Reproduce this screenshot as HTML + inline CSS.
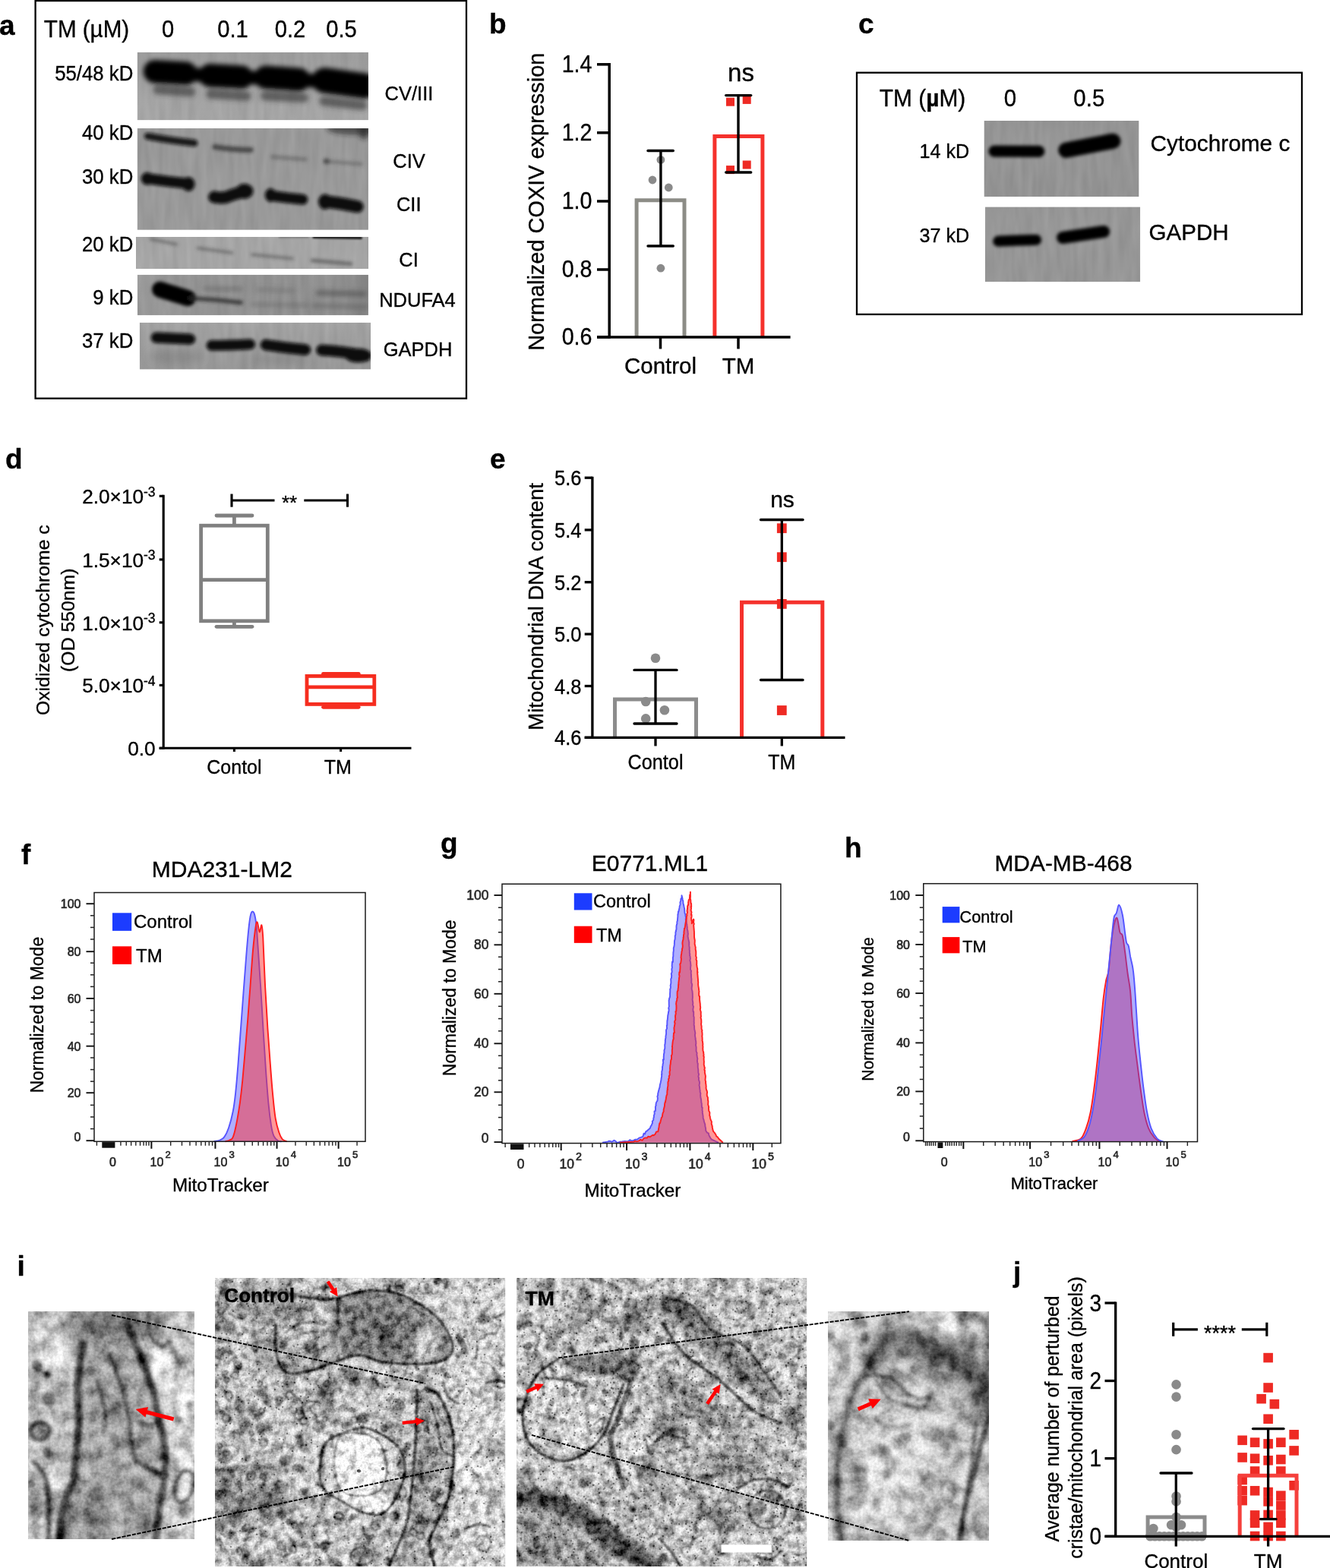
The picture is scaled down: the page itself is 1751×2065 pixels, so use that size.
<!DOCTYPE html>
<html lang="en">
<head>
<meta charset="utf-8">
<title>Figure</title>
<style>
html,body{margin:0;padding:0;background:#fff;}
body{width:1751px;height:2065px;overflow:hidden;font-family:"Liberation Sans", sans-serif;}
svg{display:block;}
svg text{font-family:"Liberation Sans", sans-serif;fill:#000;stroke:#000;stroke-width:0.35px;stroke-linejoin:round;}
svg text.tk{fill:#262626;stroke:#262626;stroke-width:0.6px;}
</style>
</head>
<body>
<svg width="1751" height="2065" viewBox="0 0 1751 2065">
<defs>
<filter id="bl1" x="-20%" y="-50%" width="140%" height="200%"><feGaussianBlur stdDeviation="1.3"/></filter>
<filter id="bl2" x="-20%" y="-50%" width="140%" height="200%"><feGaussianBlur stdDeviation="2.1"/></filter>
<filter id="bl3" x="-20%" y="-50%" width="140%" height="200%"><feGaussianBlur stdDeviation="3.2"/></filter>
<filter id="bl6" x="-30%" y="-80%" width="160%" height="260%"><feGaussianBlur stdDeviation="6"/></filter>
<filter id="btx" x="0" y="0" width="100%" height="100%" color-interpolation-filters="sRGB"><feTurbulence type="fractalNoise" baseFrequency="0.11 0.018" numOctaves="2" seed="7" result="n"/><feColorMatrix in="n" type="matrix" values="1 0 0 0 0 1 0 0 0 0 1 0 0 0 0 0 0 0 0 1" result="g"/><feComposite in="SourceGraphic" in2="g" operator="arithmetic" k1="0" k2="1" k3="0.08" k4="-0.04"/></filter>
<clipPath id="cb1"><rect x="180.70" y="68.80" width="304.20" height="89.50"/></clipPath>
<linearGradient id="gcb1" x1="0" y1="0" x2="0" y2="1"><stop offset="0" stop-color="#9c9c9c"/><stop offset="0.5" stop-color="#a0a0a0"/><stop offset="1" stop-color="#a5a5a5"/></linearGradient>
<clipPath id="cb2"><rect x="180.70" y="169.00" width="304.20" height="133.80"/></clipPath>
<clipPath id="cb3"><rect x="179.00" y="311.90" width="305.90" height="42.20"/></clipPath>
<clipPath id="cb4"><rect x="180.90" y="361.80" width="304.00" height="53.50"/></clipPath>
<linearGradient id="gcb4" x1="0" y1="0" x2="1" y2="0"><stop offset="0" stop-color="#999"/><stop offset="0.3" stop-color="#939393"/><stop offset="0.9" stop-color="#8e8e8e"/><stop offset="1" stop-color="#808080"/></linearGradient>
<clipPath id="cb5"><rect x="183.80" y="424.80" width="304.30" height="61.80"/></clipPath>
<linearGradient id="gcb5" x1="0" y1="0" x2="0" y2="1"><stop offset="0" stop-color="#a2a2a2"/><stop offset="1" stop-color="#979797"/></linearGradient>
<clipPath id="cb6"><rect x="1295.50" y="159.10" width="204.00" height="99.90"/></clipPath>
<clipPath id="cb7"><rect x="1296.90" y="272.40" width="204.30" height="98.80"/></clipPath>
<filter id="eb0" x="-30%" y="-30%" width="160%" height="160%"><feGaussianBlur stdDeviation="0.55"/></filter>
<filter id="eb1" x="-30%" y="-30%" width="160%" height="160%"><feGaussianBlur stdDeviation="0.9"/></filter>
<filter id="eb2" x="-30%" y="-30%" width="160%" height="160%"><feGaussianBlur stdDeviation="2"/></filter>
<filter id="eb4" x="-30%" y="-30%" width="160%" height="160%"><feGaussianBlur stdDeviation="4.5"/></filter>
<filter id="eb9" x="-40%" y="-40%" width="180%" height="180%"><feGaussianBlur stdDeviation="10"/></filter>
<clipPath id="cem1"><rect x="37.00" y="1727.00" width="219.00" height="300.00"/></clipPath>
<filter id="fem1" filterUnits="userSpaceOnUse" x="36.0" y="1726.0" width="221.0" height="302.0" color-interpolation-filters="sRGB"><feTurbulence type="fractalNoise" baseFrequency="0.055" numOctaves="3" seed="4" result="n0"/><feColorMatrix in="n0" type="matrix" values="1 0 0 0 0  1 0 0 0 0  1 0 0 0 0  0 0 0 0 1" result="n1"/><feComponentTransfer in="n1" result="n2"><feFuncR type="table" tableValues="0 0.05 0.15 0.3 0.45 0.6 0.72 0.8 0.86 0.9 0.92"/><feFuncG type="table" tableValues="0 0.05 0.15 0.3 0.45 0.6 0.72 0.8 0.86 0.9 0.92"/><feFuncB type="table" tableValues="0 0.05 0.15 0.3 0.45 0.6 0.72 0.8 0.86 0.9 0.92"/></feComponentTransfer><feComposite in="SourceGraphic" in2="n2" operator="arithmetic" k1="0" k2="1" k3="0.5" k4="-0.3" result="c1"/><feTurbulence type="fractalNoise" baseFrequency="0.3" numOctaves="2" seed="15" result="m0"/><feColorMatrix in="m0" type="matrix" values="0 1 0 0 0  0 1 0 0 0  0 1 0 0 0  0 0 0 0 1" result="m1"/><feComposite in="c1" in2="m1" operator="arithmetic" k1="0" k2="1" k3="0.2" k4="-0.1"/></filter>
<clipPath id="cem2"><rect x="283.00" y="1683.00" width="382.20" height="380.00"/></clipPath>
<filter id="fem2" filterUnits="userSpaceOnUse" x="282.0" y="1682.0" width="384.2" height="382.0" color-interpolation-filters="sRGB"><feTurbulence type="fractalNoise" baseFrequency="0.1" numOctaves="3" seed="9" result="n0"/><feColorMatrix in="n0" type="matrix" values="1 0 0 0 0  1 0 0 0 0  1 0 0 0 0  0 0 0 0 1" result="n1"/><feComponentTransfer in="n1" result="n2"><feFuncR type="table" tableValues="0 0.05 0.15 0.3 0.45 0.6 0.72 0.8 0.86 0.9 0.92"/><feFuncG type="table" tableValues="0 0.05 0.15 0.3 0.45 0.6 0.72 0.8 0.86 0.9 0.92"/><feFuncB type="table" tableValues="0 0.05 0.15 0.3 0.45 0.6 0.72 0.8 0.86 0.9 0.92"/></feComponentTransfer><feComposite in="SourceGraphic" in2="n2" operator="arithmetic" k1="0" k2="1" k3="0.62" k4="-0.372" result="c1"/><feTurbulence type="fractalNoise" baseFrequency="0.4" numOctaves="2" seed="20" result="m0"/><feColorMatrix in="m0" type="matrix" values="0 1 0 0 0  0 1 0 0 0  0 1 0 0 0  0 0 0 0 1" result="m1"/><feComposite in="c1" in2="m1" operator="arithmetic" k1="0" k2="1" k3="0.3" k4="-0.15"/></filter>
<clipPath id="cem3"><rect x="680.00" y="1683.00" width="382.20" height="380.00"/></clipPath>
<filter id="fem3" filterUnits="userSpaceOnUse" x="679.0" y="1682.0" width="384.2" height="382.0" color-interpolation-filters="sRGB"><feTurbulence type="fractalNoise" baseFrequency="0.1" numOctaves="3" seed="17" result="n0"/><feColorMatrix in="n0" type="matrix" values="1 0 0 0 0  1 0 0 0 0  1 0 0 0 0  0 0 0 0 1" result="n1"/><feComponentTransfer in="n1" result="n2"><feFuncR type="table" tableValues="0 0.05 0.15 0.3 0.45 0.6 0.72 0.8 0.86 0.9 0.92"/><feFuncG type="table" tableValues="0 0.05 0.15 0.3 0.45 0.6 0.72 0.8 0.86 0.9 0.92"/><feFuncB type="table" tableValues="0 0.05 0.15 0.3 0.45 0.6 0.72 0.8 0.86 0.9 0.92"/></feComponentTransfer><feComposite in="SourceGraphic" in2="n2" operator="arithmetic" k1="0" k2="1" k3="0.62" k4="-0.372" result="c1"/><feTurbulence type="fractalNoise" baseFrequency="0.4" numOctaves="2" seed="28" result="m0"/><feColorMatrix in="m0" type="matrix" values="0 1 0 0 0  0 1 0 0 0  0 1 0 0 0  0 0 0 0 1" result="m1"/><feComposite in="c1" in2="m1" operator="arithmetic" k1="0" k2="1" k3="0.3" k4="-0.15"/></filter>
<clipPath id="cem4"><rect x="1090.00" y="1727.00" width="212.00" height="302.00"/></clipPath>
<filter id="fem4" filterUnits="userSpaceOnUse" x="1089.0" y="1726.0" width="214.0" height="304.0" color-interpolation-filters="sRGB"><feTurbulence type="fractalNoise" baseFrequency="0.05" numOctaves="3" seed="29" result="n0"/><feColorMatrix in="n0" type="matrix" values="1 0 0 0 0  1 0 0 0 0  1 0 0 0 0  0 0 0 0 1" result="n1"/><feComponentTransfer in="n1" result="n2"><feFuncR type="table" tableValues="0 0.05 0.15 0.3 0.45 0.6 0.72 0.8 0.86 0.9 0.92"/><feFuncG type="table" tableValues="0 0.05 0.15 0.3 0.45 0.6 0.72 0.8 0.86 0.9 0.92"/><feFuncB type="table" tableValues="0 0.05 0.15 0.3 0.45 0.6 0.72 0.8 0.86 0.9 0.92"/></feComponentTransfer><feComposite in="SourceGraphic" in2="n2" operator="arithmetic" k1="0" k2="1" k3="0.5" k4="-0.3" result="c1"/><feTurbulence type="fractalNoise" baseFrequency="0.3" numOctaves="2" seed="40" result="m0"/><feColorMatrix in="m0" type="matrix" values="0 1 0 0 0  0 1 0 0 0  0 1 0 0 0  0 0 0 0 1" result="m1"/><feComposite in="c1" in2="m1" operator="arithmetic" k1="0" k2="1" k3="0.2" k4="-0.1"/></filter>
</defs>
<rect x="0" y="0" width="1751" height="2065" fill="#fff"/>
<g id="panel-b">
<text x="644.00" y="44.20" font-size="37" font-weight="bold">b</text>
<path d="M838.10 444.00L838.10 263.80L901.00 263.80L901.00 444.00" fill="none" stroke="#8c8c86" stroke-width="5" stroke-linejoin="miter"/>
<path d="M940.90 444.00L940.90 179.50L1003.90 179.50L1003.90 444.00" fill="none" stroke="#f5312c" stroke-width="5" stroke-linejoin="miter"/>
<line x1="802.20" y1="83.10" x2="802.20" y2="445.70" stroke="#000" stroke-width="3.5" />
<line x1="786.00" y1="444.00" x2="1040.60" y2="444.00" stroke="#000" stroke-width="3.5" />
<line x1="786.00" y1="84.80" x2="802.20" y2="84.80" stroke="#000" stroke-width="3.5" />
<line x1="786.00" y1="174.80" x2="802.20" y2="174.80" stroke="#000" stroke-width="3.5" />
<line x1="786.00" y1="265.00" x2="802.20" y2="265.00" stroke="#000" stroke-width="3.5" />
<line x1="786.00" y1="355.00" x2="802.20" y2="355.00" stroke="#000" stroke-width="3.5" />
<line x1="786.00" y1="444.00" x2="802.20" y2="444.00" stroke="#000" stroke-width="3.5" />
<line x1="869.50" y1="444.00" x2="869.50" y2="459.50" stroke="#000" stroke-width="3.5" />
<line x1="972.00" y1="444.00" x2="972.00" y2="459.50" stroke="#000" stroke-width="3.5" />
<text transform="translate(779.50 95.10) scale(0.94 1)" font-size="30.5" text-anchor="end">1.4</text>
<text transform="translate(779.50 185.10) scale(0.94 1)" font-size="30.5" text-anchor="end">1.2</text>
<text transform="translate(779.50 275.30) scale(0.94 1)" font-size="30.5" text-anchor="end">1.0</text>
<text transform="translate(779.50 365.30) scale(0.94 1)" font-size="30.5" text-anchor="end">0.8</text>
<text transform="translate(779.50 454.30) scale(0.94 1)" font-size="30.5" text-anchor="end">0.6</text>
<text x="869.50" y="492.00" font-size="29.5" text-anchor="middle">Control</text>
<text x="972.00" y="492.00" font-size="29.5" text-anchor="middle">TM</text>
<text transform="translate(716.00 265.70) rotate(-90) scale(0.955 1)" font-size="30.3" text-anchor="middle">Normalized COXIV expression</text>
<circle cx="869.90" cy="210.40" r="5.40" fill="#8a8a8a" />
<circle cx="859.00" cy="237.00" r="5.40" fill="#8a8a8a" />
<circle cx="880.30" cy="247.00" r="5.40" fill="#8a8a8a" />
<circle cx="869.90" cy="353.20" r="5.40" fill="#8a8a8a" />
<rect x="956.00" y="128.70" width="11.00" height="11.00" fill="#ee2a24"/>
<rect x="977.70" y="125.90" width="11.00" height="11.00" fill="#ee2a24"/>
<rect x="956.00" y="218.10" width="11.00" height="11.00" fill="#ee2a24"/>
<rect x="977.70" y="211.50" width="11.00" height="11.00" fill="#ee2a24"/>
<line x1="869.90" y1="198.50" x2="869.90" y2="324.00" stroke="#000" stroke-width="3.4" />
<line x1="853.00" y1="198.50" x2="886.30" y2="198.50" stroke="#000" stroke-width="3.4" stroke-linecap="round"/>
<line x1="853.00" y1="324.00" x2="886.30" y2="324.00" stroke="#000" stroke-width="3.4" stroke-linecap="round"/>
<line x1="972.00" y1="125.60" x2="972.00" y2="227.00" stroke="#000" stroke-width="3.4" />
<line x1="955.70" y1="125.60" x2="988.70" y2="125.60" stroke="#000" stroke-width="3.4" stroke-linecap="round"/>
<line x1="955.70" y1="227.00" x2="988.70" y2="227.00" stroke="#000" stroke-width="3.4" stroke-linecap="round"/>
<text x="975.50" y="106.50" font-size="33" text-anchor="middle">ns</text>
</g>
<g id="panel-d">
<text x="7.00" y="617.00" font-size="37" font-weight="bold">d</text>
<line x1="215.20" y1="651.80" x2="215.20" y2="986.80" stroke="#000" stroke-width="3.1" />
<line x1="209.70" y1="985.30" x2="541.50" y2="985.30" stroke="#000" stroke-width="3.1" />
<line x1="209.70" y1="653.30" x2="215.20" y2="653.30" stroke="#000" stroke-width="3.1" />
<line x1="209.70" y1="736.90" x2="215.20" y2="736.90" stroke="#000" stroke-width="3.1" />
<line x1="209.70" y1="819.80" x2="215.20" y2="819.80" stroke="#000" stroke-width="3.1" />
<line x1="209.70" y1="902.40" x2="215.20" y2="902.40" stroke="#000" stroke-width="3.1" />
<line x1="209.70" y1="985.30" x2="215.20" y2="985.30" stroke="#000" stroke-width="3.1" />
<line x1="308.40" y1="985.30" x2="308.40" y2="990.00" stroke="#000" stroke-width="3.1" />
<line x1="448.60" y1="985.30" x2="448.60" y2="990.00" stroke="#000" stroke-width="3.1" />
<text x="204.60" y="663.30" font-size="26.2" text-anchor="end">2.0×10<tspan font-size="17.5" dy="-9.5">-3</tspan></text>
<text x="204.60" y="746.90" font-size="26.2" text-anchor="end">1.5×10<tspan font-size="17.5" dy="-9.5">-3</tspan></text>
<text x="204.60" y="829.80" font-size="26.2" text-anchor="end">1.0×10<tspan font-size="17.5" dy="-9.5">-3</tspan></text>
<text x="204.60" y="912.40" font-size="26.2" text-anchor="end">5.0×10<tspan font-size="17.5" dy="-9.5">-4</tspan></text>
<text x="204.60" y="995.30" font-size="26.2" text-anchor="end">0.0</text>
<text x="308.40" y="1019.00" font-size="25" text-anchor="middle">Contol</text>
<text x="444.80" y="1019.00" font-size="25" text-anchor="middle">TM</text>
<text x="0" y="0" font-size="24.8" text-anchor="middle" transform="translate(65.00 816.70) rotate(-90)">Oxidized cytochrome c</text>
<text x="0" y="0" font-size="24.8" text-anchor="middle" transform="translate(97.50 816.70) rotate(-90)">(OD 550nm)</text>
<rect x="264.60" y="692.20" width="87.70" height="125.60" fill="none" stroke="#808080" stroke-width="4.8"/>
<line x1="264.60" y1="763.60" x2="352.30" y2="763.60" stroke="#808080" stroke-width="4.8" />
<line x1="308.40" y1="679.00" x2="308.40" y2="692.00" stroke="#808080" stroke-width="4.8" />
<line x1="308.40" y1="818.00" x2="308.40" y2="825.30" stroke="#808080" stroke-width="4.8" />
<line x1="285.00" y1="679.00" x2="332.00" y2="679.00" stroke="#808080" stroke-width="4.8" stroke-linecap="round"/>
<line x1="285.00" y1="825.30" x2="332.00" y2="825.30" stroke="#808080" stroke-width="4.8" stroke-linecap="round"/>
<rect x="404.00" y="890.40" width="88.80" height="37.00" fill="none" stroke="#f62d1f" stroke-width="4.8"/>
<line x1="404.00" y1="904.80" x2="492.80" y2="904.80" stroke="#f62d1f" stroke-width="4.8" />
<line x1="425.50" y1="887.30" x2="472.20" y2="887.30" stroke="#f62d1f" stroke-width="4.8" stroke-linecap="round"/>
<line x1="425.50" y1="931.30" x2="472.20" y2="931.30" stroke="#f62d1f" stroke-width="4.8" stroke-linecap="round"/>
<line x1="305.00" y1="659.00" x2="361.50" y2="659.00" stroke="#000" stroke-width="3.1" />
<line x1="400.30" y1="659.00" x2="457.50" y2="659.00" stroke="#000" stroke-width="3.1" />
<line x1="305.00" y1="650.50" x2="305.00" y2="667.70" stroke="#000" stroke-width="3.1" />
<line x1="457.50" y1="650.50" x2="457.50" y2="667.70" stroke="#000" stroke-width="3.1" />
<text x="381.00" y="670.80" font-size="26" text-anchor="middle">**</text>
</g>
<g id="panel-e">
<text x="645.00" y="617.30" font-size="37" font-weight="bold">e</text>
<path d="M809.50 971.30L809.50 921.10L916.50 921.10L916.50 971.30" fill="none" stroke="#8c8c8c" stroke-width="5" stroke-linejoin="miter"/>
<path d="M976.50 971.30L976.50 793.20L1082.80 793.20L1082.80 971.30" fill="none" stroke="#f5312c" stroke-width="5" stroke-linejoin="miter"/>
<line x1="779.90" y1="627.80" x2="779.90" y2="972.80" stroke="#000" stroke-width="3.3" />
<line x1="769.70" y1="971.30" x2="1112.50" y2="971.30" stroke="#000" stroke-width="3.3" />
<line x1="769.70" y1="629.20" x2="779.90" y2="629.20" stroke="#000" stroke-width="3.3" />
<line x1="769.70" y1="697.90" x2="779.90" y2="697.90" stroke="#000" stroke-width="3.3" />
<line x1="769.70" y1="766.70" x2="779.90" y2="766.70" stroke="#000" stroke-width="3.3" />
<line x1="769.70" y1="835.10" x2="779.90" y2="835.10" stroke="#000" stroke-width="3.3" />
<line x1="769.70" y1="903.50" x2="779.90" y2="903.50" stroke="#000" stroke-width="3.3" />
<line x1="769.70" y1="971.30" x2="779.90" y2="971.30" stroke="#000" stroke-width="3.3" />
<line x1="863.00" y1="971.30" x2="863.00" y2="982.50" stroke="#000" stroke-width="3.3" />
<line x1="1029.30" y1="971.30" x2="1029.30" y2="982.50" stroke="#000" stroke-width="3.3" />
<text x="765.50" y="639.20" font-size="28" text-anchor="end" textLength="35.5" lengthAdjust="spacingAndGlyphs">5.6</text>
<text x="765.50" y="707.90" font-size="28" text-anchor="end" textLength="35.5" lengthAdjust="spacingAndGlyphs">5.4</text>
<text x="765.50" y="776.70" font-size="28" text-anchor="end" textLength="35.5" lengthAdjust="spacingAndGlyphs">5.2</text>
<text x="765.50" y="845.10" font-size="28" text-anchor="end" textLength="35.5" lengthAdjust="spacingAndGlyphs">5.0</text>
<text x="765.50" y="913.50" font-size="28" text-anchor="end" textLength="35.5" lengthAdjust="spacingAndGlyphs">4.8</text>
<text x="765.50" y="981.30" font-size="28" text-anchor="end" textLength="35.5" lengthAdjust="spacingAndGlyphs">4.6</text>
<text x="863.00" y="1013.00" font-size="27.5" text-anchor="middle" textLength="73" lengthAdjust="spacingAndGlyphs">Contol</text>
<text x="1029.30" y="1013.00" font-size="27.5" text-anchor="middle" textLength="36" lengthAdjust="spacingAndGlyphs">TM</text>
<text x="0" y="0" font-size="27.5" text-anchor="middle" transform="translate(715.00 798.90) rotate(-90)">Mitochondrial DNA content</text>
<circle cx="863.00" cy="866.80" r="6.30" fill="#8a8a8a" />
<circle cx="850.20" cy="924.00" r="6.30" fill="#8a8a8a" />
<circle cx="874.90" cy="935.20" r="6.30" fill="#8a8a8a" />
<circle cx="850.20" cy="946.40" r="6.30" fill="#8a8a8a" />
<rect x="1022.90" y="689.30" width="12.80" height="12.80" fill="#ee2a24"/>
<rect x="1022.90" y="727.30" width="12.80" height="12.80" fill="#ee2a24"/>
<rect x="1022.90" y="789.00" width="12.80" height="12.80" fill="#ee2a24"/>
<rect x="1022.90" y="929.10" width="12.80" height="12.80" fill="#ee2a24"/>
<line x1="863.00" y1="882.40" x2="863.00" y2="953.00" stroke="#000" stroke-width="3.3" />
<line x1="835.00" y1="882.40" x2="891.00" y2="882.40" stroke="#000" stroke-width="3.3" stroke-linecap="round"/>
<line x1="835.00" y1="953.00" x2="891.00" y2="953.00" stroke="#000" stroke-width="3.3" stroke-linecap="round"/>
<line x1="1029.30" y1="684.50" x2="1029.30" y2="895.50" stroke="#000" stroke-width="3.3" />
<line x1="1001.50" y1="684.50" x2="1057.00" y2="684.50" stroke="#000" stroke-width="3.3" stroke-linecap="round"/>
<line x1="1001.50" y1="895.50" x2="1057.00" y2="895.50" stroke="#000" stroke-width="3.3" stroke-linecap="round"/>
<text x="1030.00" y="667.50" font-size="30" text-anchor="middle">ns</text>
</g>
<g id="panel-j">
<text x="1334.00" y="1687.60" font-size="37" font-weight="bold">j</text>
<path d="M1511.10 2023.30L1511.10 1997.90L1586.00 1997.90L1586.00 2023.30" fill="none" stroke="#8c8c8c" stroke-width="5" stroke-linejoin="miter"/>
<circle cx="1548.55" cy="1823.39" r="6.30" fill="#8a8a8a" />
<circle cx="1548.55" cy="1839.61" r="6.30" fill="#8a8a8a" />
<circle cx="1548.55" cy="1889.32" r="6.30" fill="#8a8a8a" />
<circle cx="1548.55" cy="1909.16" r="6.30" fill="#8a8a8a" />
<circle cx="1548.55" cy="1970.46" r="6.30" fill="#8a8a8a" />
<circle cx="1548.55" cy="1977.41" r="6.30" fill="#8a8a8a" />
<circle cx="1548.55" cy="1998.02" r="6.30" fill="#8a8a8a" />
<circle cx="1542.11" cy="2008.32" r="6.30" fill="#8a8a8a" />
<circle cx="1554.99" cy="2008.32" r="6.30" fill="#8a8a8a" />
<circle cx="1548.55" cy="2010.90" r="6.30" fill="#8a8a8a" />
<circle cx="1518.42" cy="2012.96" r="6.30" fill="#8a8a8a" />
<circle cx="1514.29" cy="2023.26" r="6.30" fill="#8a8a8a" />
<circle cx="1520.48" cy="2023.26" r="6.30" fill="#8a8a8a" />
<circle cx="1526.66" cy="2023.26" r="6.30" fill="#8a8a8a" />
<circle cx="1532.84" cy="2023.26" r="6.30" fill="#8a8a8a" />
<circle cx="1539.02" cy="2023.26" r="6.30" fill="#8a8a8a" />
<circle cx="1545.20" cy="2023.26" r="6.30" fill="#8a8a8a" />
<circle cx="1551.38" cy="2023.26" r="6.30" fill="#8a8a8a" />
<circle cx="1557.57" cy="2023.26" r="6.30" fill="#8a8a8a" />
<circle cx="1563.75" cy="2023.26" r="6.30" fill="#8a8a8a" />
<circle cx="1569.93" cy="2023.26" r="6.30" fill="#8a8a8a" />
<circle cx="1576.11" cy="2023.26" r="6.30" fill="#8a8a8a" />
<circle cx="1582.29" cy="2023.26" r="6.30" fill="#8a8a8a" />
<rect x="1663.31" y="1781.80" width="12.60" height="12.60" fill="#ee2a24"/>
<rect x="1663.31" y="1821.21" width="12.60" height="12.60" fill="#ee2a24"/>
<rect x="1654.29" y="1835.89" width="12.60" height="12.60" fill="#ee2a24"/>
<rect x="1671.55" y="1842.84" width="12.60" height="12.60" fill="#ee2a24"/>
<rect x="1663.31" y="1862.42" width="12.60" height="12.60" fill="#ee2a24"/>
<rect x="1697.31" y="1883.02" width="12.60" height="12.60" fill="#ee2a24"/>
<rect x="1629.31" y="1890.49" width="12.60" height="12.60" fill="#ee2a24"/>
<rect x="1645.79" y="1893.33" width="12.60" height="12.60" fill="#ee2a24"/>
<rect x="1663.31" y="1895.13" width="12.60" height="12.60" fill="#ee2a24"/>
<rect x="1680.05" y="1893.33" width="12.60" height="12.60" fill="#ee2a24"/>
<rect x="1697.31" y="1904.14" width="12.60" height="12.60" fill="#ee2a24"/>
<rect x="1629.31" y="1913.16" width="12.60" height="12.60" fill="#ee2a24"/>
<rect x="1645.79" y="1914.45" width="12.60" height="12.60" fill="#ee2a24"/>
<rect x="1663.31" y="1917.02" width="12.60" height="12.60" fill="#ee2a24"/>
<rect x="1680.05" y="1915.73" width="12.60" height="12.60" fill="#ee2a24"/>
<rect x="1645.79" y="1931.19" width="12.60" height="12.60" fill="#ee2a24"/>
<rect x="1680.05" y="1931.19" width="12.60" height="12.60" fill="#ee2a24"/>
<rect x="1629.31" y="1942.78" width="12.60" height="12.60" fill="#ee2a24"/>
<rect x="1697.31" y="1949.99" width="12.60" height="12.60" fill="#ee2a24"/>
<rect x="1629.31" y="1956.95" width="12.60" height="12.60" fill="#ee2a24"/>
<rect x="1645.79" y="1956.95" width="12.60" height="12.60" fill="#ee2a24"/>
<rect x="1663.31" y="1958.75" width="12.60" height="12.60" fill="#ee2a24"/>
<rect x="1680.05" y="1963.38" width="12.60" height="12.60" fill="#ee2a24"/>
<rect x="1629.31" y="1969.82" width="12.60" height="12.60" fill="#ee2a24"/>
<rect x="1663.31" y="1971.11" width="12.60" height="12.60" fill="#ee2a24"/>
<rect x="1680.05" y="1976.26" width="12.60" height="12.60" fill="#ee2a24"/>
<rect x="1645.79" y="1989.14" width="12.60" height="12.60" fill="#ee2a24"/>
<rect x="1663.31" y="1988.63" width="12.60" height="12.60" fill="#ee2a24"/>
<rect x="1680.05" y="1989.14" width="12.60" height="12.60" fill="#ee2a24"/>
<rect x="1645.79" y="1999.44" width="12.60" height="12.60" fill="#ee2a24"/>
<rect x="1680.05" y="1999.44" width="12.60" height="12.60" fill="#ee2a24"/>
<rect x="1663.31" y="2004.60" width="12.60" height="12.60" fill="#ee2a24"/>
<rect x="1645.79" y="2016.70" width="12.60" height="12.60" fill="#ee2a24"/>
<rect x="1663.31" y="2016.70" width="12.60" height="12.60" fill="#ee2a24"/>
<rect x="1680.05" y="2016.70" width="12.60" height="12.60" fill="#ee2a24"/>
<path d="M1632.20 2023.30L1632.20 1943.30L1707.00 1943.30L1707.00 2023.30" fill="none" stroke="#f5403c" stroke-width="5" stroke-linejoin="miter"/>
<line x1="1468.70" y1="1714.50" x2="1468.70" y2="2024.80" stroke="#000" stroke-width="3.3" />
<line x1="1454.50" y1="2023.30" x2="1751.00" y2="2023.30" stroke="#000" stroke-width="3.3" />
<line x1="1454.50" y1="1716.00" x2="1468.70" y2="1716.00" stroke="#000" stroke-width="3.3" />
<line x1="1454.50" y1="1818.50" x2="1468.70" y2="1818.50" stroke="#000" stroke-width="3.3" />
<line x1="1454.50" y1="1920.70" x2="1468.70" y2="1920.70" stroke="#000" stroke-width="3.3" />
<line x1="1454.50" y1="2023.30" x2="1468.70" y2="2023.30" stroke="#000" stroke-width="3.3" />
<line x1="1548.30" y1="2023.30" x2="1548.30" y2="2036.60" stroke="#000" stroke-width="3.3" />
<line x1="1669.60" y1="2023.30" x2="1669.60" y2="2036.60" stroke="#000" stroke-width="3.3" />
<text transform="translate(1450.00 1726.70) scale(0.92 1)" font-size="30.5" text-anchor="end">3</text>
<text transform="translate(1450.00 1829.20) scale(0.92 1)" font-size="30.5" text-anchor="end">2</text>
<text transform="translate(1450.00 1931.40) scale(0.92 1)" font-size="30.5" text-anchor="end">1</text>
<text transform="translate(1450.00 2034.00) scale(0.92 1)" font-size="30.5" text-anchor="end">0</text>
<text x="1548.30" y="2064.50" font-size="26" text-anchor="middle">Control</text>
<text x="1669.60" y="2064.50" font-size="26" text-anchor="middle">TM</text>
<text transform="translate(1393.70 1868.50) rotate(-90) scale(0.945 1)" font-size="26.3" text-anchor="middle">Average number of perturbed</text>
<text transform="translate(1424.70 1867.00) rotate(-90) scale(0.945 1)" font-size="26.3" text-anchor="middle">cristae/mitochondrial area (pixels)</text>
<line x1="1548.30" y1="1940.00" x2="1548.30" y2="2023.00" stroke="#000" stroke-width="3.3" />
<line x1="1528.00" y1="1940.00" x2="1569.00" y2="1940.00" stroke="#000" stroke-width="3.3" stroke-linecap="round"/>
<line x1="1669.60" y1="1881.60" x2="1669.60" y2="2000.60" stroke="#000" stroke-width="3.3" />
<line x1="1649.50" y1="1881.60" x2="1690.00" y2="1881.60" stroke="#000" stroke-width="3.3" stroke-linecap="round"/>
<line x1="1659.50" y1="2000.60" x2="1680.00" y2="2000.60" stroke="#000" stroke-width="3.3" stroke-linecap="round"/>
<line x1="1544.70" y1="1750.80" x2="1576.90" y2="1750.80" stroke="#000" stroke-width="3.2" />
<line x1="1634.80" y1="1750.80" x2="1667.80" y2="1750.80" stroke="#000" stroke-width="3.2" />
<line x1="1544.70" y1="1741.70" x2="1544.70" y2="1759.80" stroke="#000" stroke-width="3.2" />
<line x1="1667.80" y1="1741.70" x2="1667.80" y2="1759.80" stroke="#000" stroke-width="3.2" />
<text x="1606.00" y="1764.50" font-size="27" text-anchor="middle">****</text>
</g>
<g id="panel-f">
<text x="28.00" y="1137.60" font-size="37" font-weight="bold">f</text>
<text x="292.30" y="1155.20" font-size="30" text-anchor="middle">MDA231-LM2</text>
<path d="M281.6 1503.3C282.9 1503.0 287.3 1502.5 289.6 1501.5C291.9 1500.5 293.4 1500.1 295.3 1497.4C297.2 1494.7 299.1 1491.1 301.0 1485.5C302.9 1479.9 305.2 1471.6 306.7 1463.8C308.3 1456.0 309.0 1449.4 310.2 1438.7C311.3 1428.0 312.5 1414.0 313.6 1399.9C314.7 1385.8 315.9 1369.4 317.0 1354.2C318.2 1338.9 319.3 1323.7 320.4 1308.5C321.6 1293.3 322.7 1276.9 323.9 1262.8C325.0 1248.7 326.3 1233.3 327.3 1224.0C328.3 1214.6 328.8 1210.7 329.6 1206.8C330.3 1202.9 331.0 1201.2 331.9 1200.7C332.7 1200.1 333.9 1200.3 334.8 1203.4C335.8 1206.5 336.7 1211.4 337.6 1219.4C338.4 1227.4 338.9 1237.7 339.9 1251.4C340.8 1265.1 342.1 1283.7 343.3 1301.6C344.4 1319.5 345.6 1340.5 346.7 1358.7C347.9 1377.0 349.0 1395.3 350.1 1411.3C351.3 1427.3 352.4 1442.9 353.6 1454.7C354.7 1466.5 355.9 1475.2 357.0 1482.1C358.1 1489.0 358.9 1492.4 360.4 1495.8C361.9 1499.2 364.4 1501.2 366.1 1502.4C367.8 1503.7 369.9 1503.2 370.7 1503.3Z" fill="rgba(70,70,255,0.43)" stroke="none"/><path d="M281.6 1503.3C282.9 1503.0 287.3 1502.5 289.6 1501.5C291.9 1500.5 293.4 1500.1 295.3 1497.4C297.2 1494.7 299.1 1491.1 301.0 1485.5C302.9 1479.9 305.2 1471.6 306.7 1463.8C308.3 1456.0 309.0 1449.4 310.2 1438.7C311.3 1428.0 312.5 1414.0 313.6 1399.9C314.7 1385.8 315.9 1369.4 317.0 1354.2C318.2 1338.9 319.3 1323.7 320.4 1308.5C321.6 1293.3 322.7 1276.9 323.9 1262.8C325.0 1248.7 326.3 1233.3 327.3 1224.0C328.3 1214.6 328.8 1210.7 329.6 1206.8C330.3 1202.9 331.0 1201.2 331.9 1200.7C332.7 1200.1 333.9 1200.3 334.8 1203.4C335.8 1206.5 336.7 1211.4 337.6 1219.4C338.4 1227.4 338.9 1237.7 339.9 1251.4C340.8 1265.1 342.1 1283.7 343.3 1301.6C344.4 1319.5 345.6 1340.5 346.7 1358.7C347.9 1377.0 349.0 1395.3 350.1 1411.3C351.3 1427.3 352.4 1442.9 353.6 1454.7C354.7 1466.5 355.9 1475.2 357.0 1482.1C358.1 1489.0 358.9 1492.4 360.4 1495.8C361.9 1499.2 364.4 1501.2 366.1 1502.4C367.8 1503.7 369.9 1503.2 370.7 1503.3" fill="none" stroke="#5555ff" stroke-width="1.9" stroke-linejoin="round"/>
<path d="M296.5 1503.3C297.4 1503.0 300.5 1502.5 302.2 1501.5C303.9 1500.6 305.2 1501.3 306.7 1497.6C308.3 1494.0 309.8 1487.4 311.3 1479.8C312.8 1472.3 314.5 1461.9 315.9 1452.4C317.2 1442.9 318.2 1434.1 319.3 1422.7C320.4 1411.3 321.6 1397.2 322.7 1383.9C323.9 1370.5 325.0 1357.2 326.2 1342.8C327.3 1328.3 328.4 1312.3 329.6 1297.1C330.7 1281.8 331.9 1263.9 333.0 1251.4C334.2 1238.8 335.5 1227.8 336.4 1221.7C337.4 1215.5 337.8 1213.4 338.7 1214.4C339.6 1215.3 340.7 1226.7 341.7 1227.4C342.6 1228.0 343.7 1216.9 344.4 1218.3C345.2 1219.6 345.5 1222.3 346.3 1235.4C347.0 1248.5 348.0 1277.3 349.0 1297.1C350.0 1316.9 351.3 1336.7 352.4 1354.2C353.6 1371.7 354.7 1387.3 355.9 1402.1C357.0 1417.0 358.1 1431.5 359.3 1443.3C360.4 1455.1 361.4 1465.0 362.7 1473.0C364.0 1481.0 365.8 1486.7 367.3 1491.2C368.8 1495.8 370.1 1498.4 371.8 1500.4C373.6 1502.4 376.6 1502.9 377.6 1503.3Z" fill="rgba(255,40,40,0.48)" stroke="none"/><path d="M296.5 1503.3C297.4 1503.0 300.5 1502.5 302.2 1501.5C303.9 1500.6 305.2 1501.3 306.7 1497.6C308.3 1494.0 309.8 1487.4 311.3 1479.8C312.8 1472.3 314.5 1461.9 315.9 1452.4C317.2 1442.9 318.2 1434.1 319.3 1422.7C320.4 1411.3 321.6 1397.2 322.7 1383.9C323.9 1370.5 325.0 1357.2 326.2 1342.8C327.3 1328.3 328.4 1312.3 329.6 1297.1C330.7 1281.8 331.9 1263.9 333.0 1251.4C334.2 1238.8 335.5 1227.8 336.4 1221.7C337.4 1215.5 337.8 1213.4 338.7 1214.4C339.6 1215.3 340.7 1226.7 341.7 1227.4C342.6 1228.0 343.7 1216.9 344.4 1218.3C345.2 1219.6 345.5 1222.3 346.3 1235.4C347.0 1248.5 348.0 1277.3 349.0 1297.1C350.0 1316.9 351.3 1336.7 352.4 1354.2C353.6 1371.7 354.7 1387.3 355.9 1402.1C357.0 1417.0 358.1 1431.5 359.3 1443.3C360.4 1455.1 361.4 1465.0 362.7 1473.0C364.0 1481.0 365.8 1486.7 367.3 1491.2C368.8 1495.8 370.1 1498.4 371.8 1500.4C373.6 1502.4 376.6 1502.9 377.6 1503.3" fill="none" stroke="#ff1e1e" stroke-width="1.9" stroke-linejoin="round"/>
<rect x="124.00" y="1175.50" width="357.00" height="327.80" fill="none" stroke="#1a1a1a" stroke-width="1.5"/>
<line x1="113.50" y1="1190.20" x2="124.00" y2="1190.20" stroke="#111" stroke-width="1.9" />
<text x="106.50" y="1196.00" font-size="16" text-anchor="end" class="tk">100</text>
<line x1="113.50" y1="1253.20" x2="124.00" y2="1253.20" stroke="#111" stroke-width="1.9" />
<text x="106.50" y="1259.00" font-size="16" text-anchor="end" class="tk">80</text>
<line x1="113.50" y1="1314.90" x2="124.00" y2="1314.90" stroke="#111" stroke-width="1.9" />
<text x="106.50" y="1320.70" font-size="16" text-anchor="end" class="tk">60</text>
<line x1="113.50" y1="1377.70" x2="124.00" y2="1377.70" stroke="#111" stroke-width="1.9" />
<text x="106.50" y="1383.50" font-size="16" text-anchor="end" class="tk">40</text>
<line x1="113.50" y1="1439.20" x2="124.00" y2="1439.20" stroke="#111" stroke-width="1.9" />
<text x="106.50" y="1445.00" font-size="16" text-anchor="end" class="tk">20</text>
<line x1="113.50" y1="1502.20" x2="124.00" y2="1502.20" stroke="#111" stroke-width="1.9" />
<text x="106.50" y="1503.20" font-size="16" text-anchor="end" class="tk">0</text>
<line x1="119.00" y1="1205.80" x2="124.00" y2="1205.80" stroke="#222" stroke-width="1.5" />
<line x1="119.00" y1="1221.40" x2="124.00" y2="1221.40" stroke="#222" stroke-width="1.5" />
<line x1="119.00" y1="1237.00" x2="124.00" y2="1237.00" stroke="#222" stroke-width="1.5" />
<line x1="119.00" y1="1268.20" x2="124.00" y2="1268.20" stroke="#222" stroke-width="1.5" />
<line x1="119.00" y1="1283.80" x2="124.00" y2="1283.80" stroke="#222" stroke-width="1.5" />
<line x1="119.00" y1="1299.40" x2="124.00" y2="1299.40" stroke="#222" stroke-width="1.5" />
<line x1="119.00" y1="1330.60" x2="124.00" y2="1330.60" stroke="#222" stroke-width="1.5" />
<line x1="119.00" y1="1346.20" x2="124.00" y2="1346.20" stroke="#222" stroke-width="1.5" />
<line x1="119.00" y1="1361.80" x2="124.00" y2="1361.80" stroke="#222" stroke-width="1.5" />
<line x1="119.00" y1="1393.00" x2="124.00" y2="1393.00" stroke="#222" stroke-width="1.5" />
<line x1="119.00" y1="1408.60" x2="124.00" y2="1408.60" stroke="#222" stroke-width="1.5" />
<line x1="119.00" y1="1424.20" x2="124.00" y2="1424.20" stroke="#222" stroke-width="1.5" />
<line x1="119.00" y1="1455.40" x2="124.00" y2="1455.40" stroke="#222" stroke-width="1.5" />
<line x1="119.00" y1="1471.00" x2="124.00" y2="1471.00" stroke="#222" stroke-width="1.5" />
<line x1="119.00" y1="1486.60" x2="124.00" y2="1486.60" stroke="#222" stroke-width="1.5" />
<line x1="199.37" y1="1503.30" x2="199.37" y2="1512.80" stroke="#111" stroke-width="2.0" />
<line x1="283.44" y1="1503.30" x2="283.44" y2="1512.80" stroke="#111" stroke-width="2.0" />
<line x1="364.53" y1="1503.30" x2="364.53" y2="1512.80" stroke="#111" stroke-width="2.0" />
<line x1="445.63" y1="1503.30" x2="445.63" y2="1512.80" stroke="#111" stroke-width="2.0" />
<line x1="224.68" y1="1503.30" x2="224.68" y2="1508.80" stroke="#222" stroke-width="1.4" />
<line x1="239.48" y1="1503.30" x2="239.48" y2="1508.80" stroke="#222" stroke-width="1.4" />
<line x1="249.98" y1="1503.30" x2="249.98" y2="1508.80" stroke="#222" stroke-width="1.4" />
<line x1="258.13" y1="1503.30" x2="258.13" y2="1508.80" stroke="#222" stroke-width="1.4" />
<line x1="264.79" y1="1503.30" x2="264.79" y2="1508.80" stroke="#222" stroke-width="1.4" />
<line x1="270.42" y1="1503.30" x2="270.42" y2="1508.80" stroke="#222" stroke-width="1.4" />
<line x1="275.29" y1="1503.30" x2="275.29" y2="1508.80" stroke="#222" stroke-width="1.4" />
<line x1="279.59" y1="1503.30" x2="279.59" y2="1508.80" stroke="#222" stroke-width="1.4" />
<line x1="307.85" y1="1503.30" x2="307.85" y2="1508.80" stroke="#222" stroke-width="1.4" />
<line x1="322.13" y1="1503.30" x2="322.13" y2="1508.80" stroke="#222" stroke-width="1.4" />
<line x1="332.26" y1="1503.30" x2="332.26" y2="1508.80" stroke="#222" stroke-width="1.4" />
<line x1="340.12" y1="1503.30" x2="340.12" y2="1508.80" stroke="#222" stroke-width="1.4" />
<line x1="346.54" y1="1503.30" x2="346.54" y2="1508.80" stroke="#222" stroke-width="1.4" />
<line x1="351.97" y1="1503.30" x2="351.97" y2="1508.80" stroke="#222" stroke-width="1.4" />
<line x1="356.68" y1="1503.30" x2="356.68" y2="1508.80" stroke="#222" stroke-width="1.4" />
<line x1="360.82" y1="1503.30" x2="360.82" y2="1508.80" stroke="#222" stroke-width="1.4" />
<line x1="388.95" y1="1503.30" x2="388.95" y2="1508.80" stroke="#222" stroke-width="1.4" />
<line x1="403.23" y1="1503.30" x2="403.23" y2="1508.80" stroke="#222" stroke-width="1.4" />
<line x1="413.36" y1="1503.30" x2="413.36" y2="1508.80" stroke="#222" stroke-width="1.4" />
<line x1="421.22" y1="1503.30" x2="421.22" y2="1508.80" stroke="#222" stroke-width="1.4" />
<line x1="427.64" y1="1503.30" x2="427.64" y2="1508.80" stroke="#222" stroke-width="1.4" />
<line x1="433.07" y1="1503.30" x2="433.07" y2="1508.80" stroke="#222" stroke-width="1.4" />
<line x1="437.77" y1="1503.30" x2="437.77" y2="1508.80" stroke="#222" stroke-width="1.4" />
<line x1="441.92" y1="1503.30" x2="441.92" y2="1508.80" stroke="#222" stroke-width="1.4" />
<line x1="470.04" y1="1503.30" x2="470.04" y2="1508.80" stroke="#222" stroke-width="1.4" />
<line x1="127.41" y1="1503.30" x2="127.41" y2="1508.80" stroke="#222" stroke-width="1.4" />
<line x1="158.94" y1="1503.30" x2="158.94" y2="1508.80" stroke="#222" stroke-width="1.4" />
<line x1="166.25" y1="1503.30" x2="166.25" y2="1508.80" stroke="#222" stroke-width="1.4" />
<line x1="172.64" y1="1503.30" x2="172.64" y2="1508.80" stroke="#222" stroke-width="1.4" />
<line x1="178.81" y1="1503.30" x2="178.81" y2="1508.80" stroke="#222" stroke-width="1.4" />
<line x1="184.52" y1="1503.30" x2="184.52" y2="1508.80" stroke="#222" stroke-width="1.4" />
<line x1="189.09" y1="1503.30" x2="189.09" y2="1508.80" stroke="#222" stroke-width="1.4" />
<line x1="192.52" y1="1503.30" x2="192.52" y2="1508.80" stroke="#222" stroke-width="1.4" />
<line x1="195.95" y1="1503.30" x2="195.95" y2="1508.80" stroke="#222" stroke-width="1.4" />
<rect x="134.30" y="1504.10" width="17.10" height="7.60" fill="#111"/>
<text x="148.40" y="1535.50" font-size="16" text-anchor="middle" class="tk">0</text>
<text class="tk" x="197.50" y="1535.50" font-size="16">10<tspan font-size="13.12" dx="2.1" dy="-10.6">2</tspan></text>
<text class="tk" x="281.50" y="1535.50" font-size="16">10<tspan font-size="13.12" dx="2.1" dy="-10.6">3</tspan></text>
<text class="tk" x="362.80" y="1535.50" font-size="16">10<tspan font-size="13.12" dx="2.1" dy="-10.6">4</tspan></text>
<text class="tk" x="444.00" y="1535.50" font-size="16">10<tspan font-size="13.12" dx="2.1" dy="-10.6">5</tspan></text>
<text x="290.40" y="1569.30" font-size="24.2" text-anchor="middle">MitoTracker</text>
<text x="0" y="0" font-size="23" text-anchor="middle" transform="translate(57.20 1336.70) rotate(-90)">Normalized to Mode</text>
<rect x="148.00" y="1202.30" width="25.20" height="23.56" fill="#1c3cff"/>
<text x="176.00" y="1221.70" font-size="24" >Control</text>
<rect x="148.00" y="1246.30" width="25.20" height="23.56" fill="#ff0000"/>
<text x="179.00" y="1267.00" font-size="24" >TM</text>
</g>
<g id="panel-g">
<text x="580.00" y="1123.00" font-size="37" font-weight="bold">g</text>
<text x="855.50" y="1147.20" font-size="30" text-anchor="middle">E0771.ML1</text>
<path d="M793.1 1504.8L799.9 1503.6L802.0 1502.7L804.2 1503.1L805.7 1503.8L808.5 1501.8L810.0 1502.5L812.3 1504.8L814.4 1504.3L816.2 1503.6L819.0 1503.5L820.9 1503.1L822.8 1502.9L824.6 1503.1L827.4 1503.0L829.2 1501.2L831.9 1502.6L834.5 1501.7L836.5 1500.7L839.1 1500.5L841.3 1498.6L843.7 1497.9L845.6 1497.2L846.4 1496.7L847.6 1492.6L849.0 1493.6L850.2 1490.4L851.9 1489.3L853.9 1487.4L855.9 1485.8L856.6 1483.4L857.6 1482.2L858.2 1480.5L859.0 1479.1L858.8 1476.6L860.2 1475.2L860.4 1472.1L860.9 1471.4L860.9 1468.8L861.7 1467.2L861.5 1463.5L862.8 1463.3L863.0 1458.9L862.8 1458.0L863.7 1455.6L863.4 1455.5L863.8 1452.7L864.5 1451.0L865.5 1449.6L865.9 1446.4L865.4 1443.8L866.2 1442.4L866.1 1440.6L866.9 1437.3L867.1 1436.5L868.2 1432.6L868.7 1431.4L868.5 1431.2L869.1 1427.7L869.6 1426.3L870.0 1423.9L870.3 1423.0L870.7 1419.6L871.2 1417.3L871.0 1414.6L871.4 1414.9L871.2 1411.5L871.9 1409.0L872.2 1405.7L871.9 1405.6L872.5 1403.5L872.6 1401.6L873.2 1399.7L872.8 1395.4L873.9 1395.5L873.7 1392.0L873.8 1391.1L874.0 1388.3L874.5 1386.2L874.5 1384.0L874.4 1383.4L875.3 1380.7L875.3 1378.4L875.2 1375.8L875.5 1375.3L875.9 1371.2L875.7 1370.8L876.2 1367.5L876.5 1367.0L876.4 1365.0L877.1 1361.3L877.1 1361.0L877.0 1356.8L877.3 1355.7L878.1 1354.5L877.8 1350.4L878.3 1350.3L878.3 1348.3L878.4 1344.0L878.6 1344.1L879.0 1340.6L879.2 1338.7L879.1 1338.3L880.1 1333.2L879.9 1332.8L880.5 1331.9L880.6 1328.4L880.1 1328.0L880.9 1325.3L880.7 1323.0L880.7 1319.7L880.6 1317.5L881.0 1316.6L881.0 1315.2L881.8 1313.5L882.1 1311.5L882.0 1309.4L882.3 1304.5L882.1 1302.9L882.5 1302.4L883.0 1299.6L882.6 1298.2L883.3 1295.0L883.4 1293.6L883.3 1291.6L883.2 1289.1L884.0 1287.7L884.1 1284.6L884.3 1284.9L883.7 1282.6L884.7 1280.0L884.3 1276.1L884.8 1274.8L884.9 1273.3L884.6 1272.4L884.9 1268.1L885.1 1266.3L886.0 1267.0L885.9 1262.2L885.9 1260.9L886.4 1259.0L886.3 1257.7L886.4 1254.5L886.8 1252.2L886.8 1252.1L886.8 1248.1L887.4 1247.0L887.4 1246.3L887.8 1244.4L887.9 1241.4L888.0 1239.0L888.6 1237.1L888.8 1234.8L888.7 1232.8L889.4 1230.9L889.4 1227.4L890.1 1226.4L889.8 1225.9L890.5 1223.7L890.5 1219.5L891.1 1217.0L891.4 1216.6L891.3 1214.0L891.8 1212.8L892.0 1210.6L892.4 1206.5L892.3 1204.2L892.6 1204.6L893.0 1200.3L893.4 1200.8L894.4 1196.0L894.7 1194.2L894.7 1193.4L895.4 1191.9L895.6 1190.8L895.4 1188.3L896.3 1186.2L896.3 1184.0L897.5 1182.1L897.5 1179.2L897.7 1179.9L898.6 1183.5L898.4 1184.5L899.3 1186.5L899.5 1190.2L899.9 1191.0L900.4 1193.4L900.7 1195.0L901.1 1196.2L901.4 1201.1L901.5 1202.4L902.4 1204.3L902.5 1206.3L903.0 1207.7L902.8 1211.1L903.7 1210.6L903.8 1214.0L904.1 1217.3L904.5 1217.8L904.3 1219.0L904.8 1221.0L904.7 1223.4L905.6 1226.6L905.5 1227.3L905.9 1229.7L905.6 1232.2L905.5 1233.0L906.1 1235.9L906.3 1236.9L906.9 1239.4L907.3 1240.8L907.2 1243.9L907.3 1245.9L907.7 1247.8L907.6 1251.0L907.9 1251.9L907.8 1255.1L908.4 1256.7L907.9 1257.8L908.5 1259.1L908.9 1262.5L908.3 1265.1L908.5 1264.9L909.0 1266.9L909.4 1271.1L909.5 1271.1L909.2 1273.3L909.0 1276.7L909.6 1277.9L910.0 1278.7L909.7 1281.3L910.1 1284.3L909.9 1284.5L910.2 1287.9L910.4 1289.2L910.3 1293.6L910.2 1294.3L910.9 1295.5L911.2 1297.0L910.6 1301.6L911.0 1303.7L911.5 1305.2L911.5 1305.7L911.8 1308.9L911.8 1309.7L911.9 1313.9L911.8 1314.5L911.6 1316.6L912.0 1318.5L912.4 1321.3L912.0 1322.8L912.6 1325.1L913.0 1325.6L912.4 1329.2L912.5 1332.1L913.2 1332.2L913.2 1335.1L913.2 1337.3L913.1 1338.2L913.7 1339.5L913.7 1343.7L913.6 1345.7L913.8 1346.2L913.6 1350.2L914.1 1351.0L914.1 1353.1L914.3 1356.0L914.6 1356.6L915.1 1359.3L915.4 1360.8L915.0 1362.1L915.0 1364.1L915.8 1368.3L915.5 1368.4L916.2 1371.2L916.4 1374.5L916.0 1375.8L916.2 1377.3L916.7 1379.7L916.6 1380.7L916.6 1384.6L917.6 1386.7L917.3 1389.3L917.6 1389.9L917.8 1392.1L918.4 1394.4L917.9 1396.6L918.2 1399.2L918.6 1400.5L918.8 1400.6L918.7 1404.8L918.9 1406.4L919.1 1407.4L919.3 1408.9L919.4 1412.9L920.1 1414.7L919.4 1417.8L920.1 1419.6L920.0 1419.3L919.9 1421.9L920.9 1424.9L921.0 1426.3L920.5 1429.5L921.0 1431.0L921.3 1434.2L921.7 1436.4L921.6 1437.9L922.4 1440.1L922.1 1442.4L922.4 1444.1L922.2 1444.0L922.6 1446.0L923.1 1448.3L923.4 1452.1L923.8 1453.2L923.8 1454.9L924.0 1458.4L924.7 1458.6L924.5 1462.3L924.9 1463.3L924.8 1466.0L925.0 1466.2L925.6 1469.8L925.7 1472.8L926.2 1473.8L926.6 1475.1L927.1 1477.7L927.5 1478.6L928.3 1481.1L928.3 1482.8L929.1 1486.1L929.2 1489.0L930.1 1490.4L931.2 1491.8L932.9 1492.3L933.2 1494.6L934.4 1497.1L935.7 1499.3L937.0 1500.7L946.1 1504.8Z" fill="rgba(70,70,255,0.43)" stroke="none"/><path d="M793.1 1504.8L799.9 1503.6L802.0 1502.7L804.2 1503.1L805.7 1503.8L808.5 1501.8L810.0 1502.5L812.3 1504.8L814.4 1504.3L816.2 1503.6L819.0 1503.5L820.9 1503.1L822.8 1502.9L824.6 1503.1L827.4 1503.0L829.2 1501.2L831.9 1502.6L834.5 1501.7L836.5 1500.7L839.1 1500.5L841.3 1498.6L843.7 1497.9L845.6 1497.2L846.4 1496.7L847.6 1492.6L849.0 1493.6L850.2 1490.4L851.9 1489.3L853.9 1487.4L855.9 1485.8L856.6 1483.4L857.6 1482.2L858.2 1480.5L859.0 1479.1L858.8 1476.6L860.2 1475.2L860.4 1472.1L860.9 1471.4L860.9 1468.8L861.7 1467.2L861.5 1463.5L862.8 1463.3L863.0 1458.9L862.8 1458.0L863.7 1455.6L863.4 1455.5L863.8 1452.7L864.5 1451.0L865.5 1449.6L865.9 1446.4L865.4 1443.8L866.2 1442.4L866.1 1440.6L866.9 1437.3L867.1 1436.5L868.2 1432.6L868.7 1431.4L868.5 1431.2L869.1 1427.7L869.6 1426.3L870.0 1423.9L870.3 1423.0L870.7 1419.6L871.2 1417.3L871.0 1414.6L871.4 1414.9L871.2 1411.5L871.9 1409.0L872.2 1405.7L871.9 1405.6L872.5 1403.5L872.6 1401.6L873.2 1399.7L872.8 1395.4L873.9 1395.5L873.7 1392.0L873.8 1391.1L874.0 1388.3L874.5 1386.2L874.5 1384.0L874.4 1383.4L875.3 1380.7L875.3 1378.4L875.2 1375.8L875.5 1375.3L875.9 1371.2L875.7 1370.8L876.2 1367.5L876.5 1367.0L876.4 1365.0L877.1 1361.3L877.1 1361.0L877.0 1356.8L877.3 1355.7L878.1 1354.5L877.8 1350.4L878.3 1350.3L878.3 1348.3L878.4 1344.0L878.6 1344.1L879.0 1340.6L879.2 1338.7L879.1 1338.3L880.1 1333.2L879.9 1332.8L880.5 1331.9L880.6 1328.4L880.1 1328.0L880.9 1325.3L880.7 1323.0L880.7 1319.7L880.6 1317.5L881.0 1316.6L881.0 1315.2L881.8 1313.5L882.1 1311.5L882.0 1309.4L882.3 1304.5L882.1 1302.9L882.5 1302.4L883.0 1299.6L882.6 1298.2L883.3 1295.0L883.4 1293.6L883.3 1291.6L883.2 1289.1L884.0 1287.7L884.1 1284.6L884.3 1284.9L883.7 1282.6L884.7 1280.0L884.3 1276.1L884.8 1274.8L884.9 1273.3L884.6 1272.4L884.9 1268.1L885.1 1266.3L886.0 1267.0L885.9 1262.2L885.9 1260.9L886.4 1259.0L886.3 1257.7L886.4 1254.5L886.8 1252.2L886.8 1252.1L886.8 1248.1L887.4 1247.0L887.4 1246.3L887.8 1244.4L887.9 1241.4L888.0 1239.0L888.6 1237.1L888.8 1234.8L888.7 1232.8L889.4 1230.9L889.4 1227.4L890.1 1226.4L889.8 1225.9L890.5 1223.7L890.5 1219.5L891.1 1217.0L891.4 1216.6L891.3 1214.0L891.8 1212.8L892.0 1210.6L892.4 1206.5L892.3 1204.2L892.6 1204.6L893.0 1200.3L893.4 1200.8L894.4 1196.0L894.7 1194.2L894.7 1193.4L895.4 1191.9L895.6 1190.8L895.4 1188.3L896.3 1186.2L896.3 1184.0L897.5 1182.1L897.5 1179.2L897.7 1179.9L898.6 1183.5L898.4 1184.5L899.3 1186.5L899.5 1190.2L899.9 1191.0L900.4 1193.4L900.7 1195.0L901.1 1196.2L901.4 1201.1L901.5 1202.4L902.4 1204.3L902.5 1206.3L903.0 1207.7L902.8 1211.1L903.7 1210.6L903.8 1214.0L904.1 1217.3L904.5 1217.8L904.3 1219.0L904.8 1221.0L904.7 1223.4L905.6 1226.6L905.5 1227.3L905.9 1229.7L905.6 1232.2L905.5 1233.0L906.1 1235.9L906.3 1236.9L906.9 1239.4L907.3 1240.8L907.2 1243.9L907.3 1245.9L907.7 1247.8L907.6 1251.0L907.9 1251.9L907.8 1255.1L908.4 1256.7L907.9 1257.8L908.5 1259.1L908.9 1262.5L908.3 1265.1L908.5 1264.9L909.0 1266.9L909.4 1271.1L909.5 1271.1L909.2 1273.3L909.0 1276.7L909.6 1277.9L910.0 1278.7L909.7 1281.3L910.1 1284.3L909.9 1284.5L910.2 1287.9L910.4 1289.2L910.3 1293.6L910.2 1294.3L910.9 1295.5L911.2 1297.0L910.6 1301.6L911.0 1303.7L911.5 1305.2L911.5 1305.7L911.8 1308.9L911.8 1309.7L911.9 1313.9L911.8 1314.5L911.6 1316.6L912.0 1318.5L912.4 1321.3L912.0 1322.8L912.6 1325.1L913.0 1325.6L912.4 1329.2L912.5 1332.1L913.2 1332.2L913.2 1335.1L913.2 1337.3L913.1 1338.2L913.7 1339.5L913.7 1343.7L913.6 1345.7L913.8 1346.2L913.6 1350.2L914.1 1351.0L914.1 1353.1L914.3 1356.0L914.6 1356.6L915.1 1359.3L915.4 1360.8L915.0 1362.1L915.0 1364.1L915.8 1368.3L915.5 1368.4L916.2 1371.2L916.4 1374.5L916.0 1375.8L916.2 1377.3L916.7 1379.7L916.6 1380.7L916.6 1384.6L917.6 1386.7L917.3 1389.3L917.6 1389.9L917.8 1392.1L918.4 1394.4L917.9 1396.6L918.2 1399.2L918.6 1400.5L918.8 1400.6L918.7 1404.8L918.9 1406.4L919.1 1407.4L919.3 1408.9L919.4 1412.9L920.1 1414.7L919.4 1417.8L920.1 1419.6L920.0 1419.3L919.9 1421.9L920.9 1424.9L921.0 1426.3L920.5 1429.5L921.0 1431.0L921.3 1434.2L921.7 1436.4L921.6 1437.9L922.4 1440.1L922.1 1442.4L922.4 1444.1L922.2 1444.0L922.6 1446.0L923.1 1448.3L923.4 1452.1L923.8 1453.2L923.8 1454.9L924.0 1458.4L924.7 1458.6L924.5 1462.3L924.9 1463.3L924.8 1466.0L925.0 1466.2L925.6 1469.8L925.7 1472.8L926.2 1473.8L926.6 1475.1L927.1 1477.7L927.5 1478.6L928.3 1481.1L928.3 1482.8L929.1 1486.1L929.2 1489.0L930.1 1490.4L931.2 1491.8L932.9 1492.3L933.2 1494.6L934.4 1497.1L935.7 1499.3L937.0 1500.7L946.1 1504.8" fill="none" stroke="#5555ff" stroke-width="1.9" stroke-linejoin="round"/>
<path d="M815.9 1504.8L834.2 1503.6L836.1 1502.7L838.3 1503.4L840.9 1502.6L843.3 1500.8L845.6 1501.8L847.5 1499.3L849.1 1498.5L851.8 1498.6L853.2 1496.7L855.8 1497.3L857.2 1496.2L859.3 1494.9L860.6 1495.3L862.5 1493.8L864.1 1490.4L866.2 1490.4L866.9 1487.8L867.2 1485.4L867.5 1484.9L867.7 1482.7L868.3 1479.2L869.0 1479.2L869.6 1476.7L870.4 1473.8L870.8 1472.0L871.8 1470.8L872.4 1466.7L873.0 1465.2L873.8 1463.3L873.6 1461.8L873.9 1460.6L874.9 1456.7L875.1 1453.8L875.7 1451.3L876.0 1451.6L876.2 1449.8L876.8 1447.2L877.1 1444.7L877.6 1442.4L878.3 1441.5L878.3 1438.3L878.6 1435.0L879.1 1434.8L878.7 1433.4L879.4 1429.9L879.4 1426.8L879.4 1425.2L880.3 1422.9L880.0 1421.1L880.9 1419.9L880.8 1416.9L881.4 1416.4L881.7 1415.2L881.5 1411.5L882.2 1409.7L882.1 1408.1L882.0 1407.5L882.3 1403.0L882.8 1401.1L882.8 1400.2L883.2 1396.3L883.6 1395.4L883.9 1395.2L884.1 1391.7L883.8 1390.2L884.7 1388.9L884.9 1386.7L884.8 1383.1L885.2 1380.1L884.9 1378.0L885.2 1376.4L885.4 1374.7L885.7 1371.6L886.1 1369.9L886.8 1367.6L886.7 1367.0L886.6 1365.4L886.9 1362.2L886.9 1360.5L887.9 1360.1L887.6 1356.8L887.4 1353.6L887.7 1352.4L887.8 1351.9L888.7 1347.3L888.1 1346.9L888.2 1344.9L889.3 1342.9L889.2 1341.9L889.0 1338.0L889.6 1335.6L889.8 1334.8L889.4 1332.1L890.3 1331.6L890.3 1329.8L890.5 1327.6L890.4 1323.7L890.1 1322.1L890.5 1319.0L891.1 1317.7L891.1 1318.0L891.3 1314.5L892.0 1313.8L891.6 1311.8L891.6 1307.4L891.8 1305.2L892.7 1304.5L892.5 1303.1L893.0 1300.4L893.1 1296.5L893.4 1297.1L893.3 1294.5L893.8 1290.6L894.1 1289.0L893.9 1289.0L894.6 1285.1L894.1 1284.0L894.3 1280.1L895.1 1280.5L895.3 1276.0L895.4 1276.6L895.5 1272.5L895.2 1269.7L895.9 1268.8L896.2 1268.2L896.7 1264.8L896.9 1262.4L896.5 1261.6L896.8 1257.7L897.3 1255.6L897.4 1253.6L898.1 1251.2L897.9 1249.8L898.5 1248.5L898.8 1245.9L898.6 1244.1L898.4 1242.1L898.7 1239.8L899.6 1236.4L899.5 1234.8L899.8 1234.6L900.0 1231.2L900.5 1229.9L900.4 1227.7L900.8 1224.4L900.9 1222.8L901.5 1222.4L902.0 1219.6L902.1 1218.7L902.5 1215.7L903.0 1213.3L903.2 1211.1L903.9 1209.1L903.8 1207.1L904.5 1205.7L904.1 1204.5L905.0 1201.2L904.5 1200.1L905.1 1195.7L905.1 1193.6L905.8 1191.5L906.3 1191.8L906.1 1188.8L906.7 1185.7L906.6 1185.3L907.8 1184.0L908.1 1179.8L908.1 1178.4L908.8 1178.3L908.9 1174.7L908.9 1175.7L908.9 1178.9L909.0 1179.9L908.8 1183.7L909.3 1185.2L909.3 1185.6L909.5 1189.6L910.1 1189.9L910.2 1194.3L909.6 1194.2L910.1 1196.1L909.6 1198.9L910.5 1201.4L909.9 1204.8L910.6 1204.7L910.5 1208.2L910.0 1208.7L910.4 1212.7L911.0 1212.8L910.7 1216.2L911.8 1214.8L912.6 1211.1L913.0 1210.5L913.5 1211.2L913.1 1214.6L913.8 1217.0L913.2 1218.1L913.4 1221.0L913.5 1221.8L913.6 1223.7L913.9 1226.6L914.0 1230.1L914.0 1231.4L914.0 1233.0L914.1 1234.7L914.8 1238.4L914.8 1238.7L914.6 1243.2L915.1 1244.9L915.3 1245.9L915.8 1248.0L915.6 1249.7L916.2 1252.7L916.3 1253.7L916.3 1256.9L916.2 1258.0L916.1 1258.9L916.9 1261.0L916.5 1263.7L917.3 1265.2L917.3 1269.7L917.1 1269.9L917.5 1272.0L917.6 1273.6L918.3 1276.0L918.1 1280.4L918.6 1280.1L918.2 1282.3L918.4 1283.4L918.7 1287.1L918.9 1289.0L919.0 1290.2L919.0 1291.6L919.3 1293.9L919.1 1295.8L919.4 1298.7L919.9 1301.6L920.2 1304.2L920.5 1306.1L920.2 1307.1L920.2 1311.1L920.8 1312.3L921.1 1312.1L921.1 1316.9L921.4 1318.4L921.3 1318.5L921.8 1321.8L921.9 1324.8L922.2 1326.1L922.1 1328.4L921.7 1329.0L922.2 1330.8L922.8 1332.7L922.7 1336.2L923.0 1338.5L922.5 1340.1L923.3 1343.1L923.3 1344.2L923.4 1346.2L923.1 1348.7L923.4 1351.0L923.6 1350.9L923.6 1355.0L924.5 1357.1L924.1 1358.3L924.5 1360.3L924.6 1363.2L924.2 1364.8L924.5 1365.3L924.7 1369.2L924.5 1370.7L924.9 1371.1L925.4 1375.0L925.2 1377.1L925.5 1378.6L925.3 1380.4L925.5 1383.8L926.3 1386.1L926.0 1385.1L926.6 1389.7L926.1 1390.5L926.9 1391.7L926.6 1393.8L926.7 1396.7L926.9 1397.6L926.7 1402.3L927.2 1403.9L927.6 1406.1L928.0 1406.1L927.3 1408.9L927.9 1409.4L927.9 1412.9L928.2 1414.0L928.8 1416.6L928.9 1417.6L928.5 1422.3L929.2 1424.7L929.0 1426.6L929.3 1427.0L929.7 1431.0L929.7 1431.0L929.5 1432.8L930.1 1435.6L930.7 1436.3L931.1 1438.9L930.7 1440.8L930.9 1443.6L931.9 1445.2L932.0 1448.9L932.4 1450.1L932.3 1453.1L932.1 1454.4L932.8 1456.5L933.2 1458.5L932.9 1459.1L933.3 1463.1L933.7 1463.7L934.4 1465.1L934.2 1469.3L934.7 1469.8L935.0 1472.4L935.5 1474.1L935.7 1474.9L936.9 1477.1L936.7 1480.1L937.9 1483.5L937.5 1484.0L938.0 1485.3L938.4 1487.8L939.3 1490.4L940.4 1491.4L942.4 1494.3L943.3 1496.7L944.8 1497.4L946.1 1499.5L951.8 1504.8Z" fill="rgba(255,40,40,0.48)" stroke="none"/><path d="M815.9 1504.8L834.2 1503.6L836.1 1502.7L838.3 1503.4L840.9 1502.6L843.3 1500.8L845.6 1501.8L847.5 1499.3L849.1 1498.5L851.8 1498.6L853.2 1496.7L855.8 1497.3L857.2 1496.2L859.3 1494.9L860.6 1495.3L862.5 1493.8L864.1 1490.4L866.2 1490.4L866.9 1487.8L867.2 1485.4L867.5 1484.9L867.7 1482.7L868.3 1479.2L869.0 1479.2L869.6 1476.7L870.4 1473.8L870.8 1472.0L871.8 1470.8L872.4 1466.7L873.0 1465.2L873.8 1463.3L873.6 1461.8L873.9 1460.6L874.9 1456.7L875.1 1453.8L875.7 1451.3L876.0 1451.6L876.2 1449.8L876.8 1447.2L877.1 1444.7L877.6 1442.4L878.3 1441.5L878.3 1438.3L878.6 1435.0L879.1 1434.8L878.7 1433.4L879.4 1429.9L879.4 1426.8L879.4 1425.2L880.3 1422.9L880.0 1421.1L880.9 1419.9L880.8 1416.9L881.4 1416.4L881.7 1415.2L881.5 1411.5L882.2 1409.7L882.1 1408.1L882.0 1407.5L882.3 1403.0L882.8 1401.1L882.8 1400.2L883.2 1396.3L883.6 1395.4L883.9 1395.2L884.1 1391.7L883.8 1390.2L884.7 1388.9L884.9 1386.7L884.8 1383.1L885.2 1380.1L884.9 1378.0L885.2 1376.4L885.4 1374.7L885.7 1371.6L886.1 1369.9L886.8 1367.6L886.7 1367.0L886.6 1365.4L886.9 1362.2L886.9 1360.5L887.9 1360.1L887.6 1356.8L887.4 1353.6L887.7 1352.4L887.8 1351.9L888.7 1347.3L888.1 1346.9L888.2 1344.9L889.3 1342.9L889.2 1341.9L889.0 1338.0L889.6 1335.6L889.8 1334.8L889.4 1332.1L890.3 1331.6L890.3 1329.8L890.5 1327.6L890.4 1323.7L890.1 1322.1L890.5 1319.0L891.1 1317.7L891.1 1318.0L891.3 1314.5L892.0 1313.8L891.6 1311.8L891.6 1307.4L891.8 1305.2L892.7 1304.5L892.5 1303.1L893.0 1300.4L893.1 1296.5L893.4 1297.1L893.3 1294.5L893.8 1290.6L894.1 1289.0L893.9 1289.0L894.6 1285.1L894.1 1284.0L894.3 1280.1L895.1 1280.5L895.3 1276.0L895.4 1276.6L895.5 1272.5L895.2 1269.7L895.9 1268.8L896.2 1268.2L896.7 1264.8L896.9 1262.4L896.5 1261.6L896.8 1257.7L897.3 1255.6L897.4 1253.6L898.1 1251.2L897.9 1249.8L898.5 1248.5L898.8 1245.9L898.6 1244.1L898.4 1242.1L898.7 1239.8L899.6 1236.4L899.5 1234.8L899.8 1234.6L900.0 1231.2L900.5 1229.9L900.4 1227.7L900.8 1224.4L900.9 1222.8L901.5 1222.4L902.0 1219.6L902.1 1218.7L902.5 1215.7L903.0 1213.3L903.2 1211.1L903.9 1209.1L903.8 1207.1L904.5 1205.7L904.1 1204.5L905.0 1201.2L904.5 1200.1L905.1 1195.7L905.1 1193.6L905.8 1191.5L906.3 1191.8L906.1 1188.8L906.7 1185.7L906.6 1185.3L907.8 1184.0L908.1 1179.8L908.1 1178.4L908.8 1178.3L908.9 1174.7L908.9 1175.7L908.9 1178.9L909.0 1179.9L908.8 1183.7L909.3 1185.2L909.3 1185.6L909.5 1189.6L910.1 1189.9L910.2 1194.3L909.6 1194.2L910.1 1196.1L909.6 1198.9L910.5 1201.4L909.9 1204.8L910.6 1204.7L910.5 1208.2L910.0 1208.7L910.4 1212.7L911.0 1212.8L910.7 1216.2L911.8 1214.8L912.6 1211.1L913.0 1210.5L913.5 1211.2L913.1 1214.6L913.8 1217.0L913.2 1218.1L913.4 1221.0L913.5 1221.8L913.6 1223.7L913.9 1226.6L914.0 1230.1L914.0 1231.4L914.0 1233.0L914.1 1234.7L914.8 1238.4L914.8 1238.7L914.6 1243.2L915.1 1244.9L915.3 1245.9L915.8 1248.0L915.6 1249.7L916.2 1252.7L916.3 1253.7L916.3 1256.9L916.2 1258.0L916.1 1258.9L916.9 1261.0L916.5 1263.7L917.3 1265.2L917.3 1269.7L917.1 1269.9L917.5 1272.0L917.6 1273.6L918.3 1276.0L918.1 1280.4L918.6 1280.1L918.2 1282.3L918.4 1283.4L918.7 1287.1L918.9 1289.0L919.0 1290.2L919.0 1291.6L919.3 1293.9L919.1 1295.8L919.4 1298.7L919.9 1301.6L920.2 1304.2L920.5 1306.1L920.2 1307.1L920.2 1311.1L920.8 1312.3L921.1 1312.1L921.1 1316.9L921.4 1318.4L921.3 1318.5L921.8 1321.8L921.9 1324.8L922.2 1326.1L922.1 1328.4L921.7 1329.0L922.2 1330.8L922.8 1332.7L922.7 1336.2L923.0 1338.5L922.5 1340.1L923.3 1343.1L923.3 1344.2L923.4 1346.2L923.1 1348.7L923.4 1351.0L923.6 1350.9L923.6 1355.0L924.5 1357.1L924.1 1358.3L924.5 1360.3L924.6 1363.2L924.2 1364.8L924.5 1365.3L924.7 1369.2L924.5 1370.7L924.9 1371.1L925.4 1375.0L925.2 1377.1L925.5 1378.6L925.3 1380.4L925.5 1383.8L926.3 1386.1L926.0 1385.1L926.6 1389.7L926.1 1390.5L926.9 1391.7L926.6 1393.8L926.7 1396.7L926.9 1397.6L926.7 1402.3L927.2 1403.9L927.6 1406.1L928.0 1406.1L927.3 1408.9L927.9 1409.4L927.9 1412.9L928.2 1414.0L928.8 1416.6L928.9 1417.6L928.5 1422.3L929.2 1424.7L929.0 1426.6L929.3 1427.0L929.7 1431.0L929.7 1431.0L929.5 1432.8L930.1 1435.6L930.7 1436.3L931.1 1438.9L930.7 1440.8L930.9 1443.6L931.9 1445.2L932.0 1448.9L932.4 1450.1L932.3 1453.1L932.1 1454.4L932.8 1456.5L933.2 1458.5L932.9 1459.1L933.3 1463.1L933.7 1463.7L934.4 1465.1L934.2 1469.3L934.7 1469.8L935.0 1472.4L935.5 1474.1L935.7 1474.9L936.9 1477.1L936.7 1480.1L937.9 1483.5L937.5 1484.0L938.0 1485.3L938.4 1487.8L939.3 1490.4L940.4 1491.4L942.4 1494.3L943.3 1496.7L944.8 1497.4L946.1 1499.5L951.8 1504.8" fill="none" stroke="#ff1e1e" stroke-width="1.9" stroke-linejoin="round"/>
<rect x="661.00" y="1164.20" width="366.90" height="341.40" fill="none" stroke="#1a1a1a" stroke-width="1.5"/>
<line x1="650.50" y1="1179.00" x2="661.00" y2="1179.00" stroke="#111" stroke-width="1.9" />
<text x="643.40" y="1184.80" font-size="17.5" text-anchor="end" class="tk">100</text>
<line x1="650.50" y1="1244.30" x2="661.00" y2="1244.30" stroke="#111" stroke-width="1.9" />
<text x="643.40" y="1250.10" font-size="17.5" text-anchor="end" class="tk">80</text>
<line x1="650.50" y1="1308.80" x2="661.00" y2="1308.80" stroke="#111" stroke-width="1.9" />
<text x="643.40" y="1314.60" font-size="17.5" text-anchor="end" class="tk">60</text>
<line x1="650.50" y1="1374.30" x2="661.00" y2="1374.30" stroke="#111" stroke-width="1.9" />
<text x="643.40" y="1380.10" font-size="17.5" text-anchor="end" class="tk">40</text>
<line x1="650.50" y1="1438.30" x2="661.00" y2="1438.30" stroke="#111" stroke-width="1.9" />
<text x="643.40" y="1444.10" font-size="17.5" text-anchor="end" class="tk">20</text>
<line x1="650.50" y1="1504.10" x2="661.00" y2="1504.10" stroke="#111" stroke-width="1.9" />
<text x="643.40" y="1505.10" font-size="17.5" text-anchor="end" class="tk">0</text>
<line x1="656.00" y1="1195.26" x2="661.00" y2="1195.26" stroke="#222" stroke-width="1.5" />
<line x1="656.00" y1="1211.51" x2="661.00" y2="1211.51" stroke="#222" stroke-width="1.5" />
<line x1="656.00" y1="1227.76" x2="661.00" y2="1227.76" stroke="#222" stroke-width="1.5" />
<line x1="656.00" y1="1260.28" x2="661.00" y2="1260.28" stroke="#222" stroke-width="1.5" />
<line x1="656.00" y1="1276.53" x2="661.00" y2="1276.53" stroke="#222" stroke-width="1.5" />
<line x1="656.00" y1="1292.78" x2="661.00" y2="1292.78" stroke="#222" stroke-width="1.5" />
<line x1="656.00" y1="1325.30" x2="661.00" y2="1325.30" stroke="#222" stroke-width="1.5" />
<line x1="656.00" y1="1341.55" x2="661.00" y2="1341.55" stroke="#222" stroke-width="1.5" />
<line x1="656.00" y1="1357.80" x2="661.00" y2="1357.80" stroke="#222" stroke-width="1.5" />
<line x1="656.00" y1="1390.32" x2="661.00" y2="1390.32" stroke="#222" stroke-width="1.5" />
<line x1="656.00" y1="1406.57" x2="661.00" y2="1406.57" stroke="#222" stroke-width="1.5" />
<line x1="656.00" y1="1422.82" x2="661.00" y2="1422.82" stroke="#222" stroke-width="1.5" />
<line x1="656.00" y1="1455.34" x2="661.00" y2="1455.34" stroke="#222" stroke-width="1.5" />
<line x1="656.00" y1="1471.59" x2="661.00" y2="1471.59" stroke="#222" stroke-width="1.5" />
<line x1="656.00" y1="1487.84" x2="661.00" y2="1487.84" stroke="#222" stroke-width="1.5" />
<line x1="738.69" y1="1505.60" x2="738.69" y2="1515.10" stroke="#111" stroke-width="2.0" />
<line x1="825.04" y1="1505.60" x2="825.04" y2="1515.10" stroke="#111" stroke-width="2.0" />
<line x1="908.42" y1="1505.60" x2="908.42" y2="1515.10" stroke="#111" stroke-width="2.0" />
<line x1="991.34" y1="1505.60" x2="991.34" y2="1515.10" stroke="#111" stroke-width="2.0" />
<line x1="764.68" y1="1505.60" x2="764.68" y2="1511.10" stroke="#222" stroke-width="1.4" />
<line x1="779.89" y1="1505.60" x2="779.89" y2="1511.10" stroke="#222" stroke-width="1.4" />
<line x1="790.67" y1="1505.60" x2="790.67" y2="1511.10" stroke="#222" stroke-width="1.4" />
<line x1="799.04" y1="1505.60" x2="799.04" y2="1511.10" stroke="#222" stroke-width="1.4" />
<line x1="805.88" y1="1505.60" x2="805.88" y2="1511.10" stroke="#222" stroke-width="1.4" />
<line x1="811.66" y1="1505.60" x2="811.66" y2="1511.10" stroke="#222" stroke-width="1.4" />
<line x1="816.67" y1="1505.60" x2="816.67" y2="1511.10" stroke="#222" stroke-width="1.4" />
<line x1="821.09" y1="1505.60" x2="821.09" y2="1511.10" stroke="#222" stroke-width="1.4" />
<line x1="850.14" y1="1505.60" x2="850.14" y2="1511.10" stroke="#222" stroke-width="1.4" />
<line x1="864.82" y1="1505.60" x2="864.82" y2="1511.10" stroke="#222" stroke-width="1.4" />
<line x1="875.24" y1="1505.60" x2="875.24" y2="1511.10" stroke="#222" stroke-width="1.4" />
<line x1="883.32" y1="1505.60" x2="883.32" y2="1511.10" stroke="#222" stroke-width="1.4" />
<line x1="889.92" y1="1505.60" x2="889.92" y2="1511.10" stroke="#222" stroke-width="1.4" />
<line x1="895.50" y1="1505.60" x2="895.50" y2="1511.10" stroke="#222" stroke-width="1.4" />
<line x1="900.34" y1="1505.60" x2="900.34" y2="1511.10" stroke="#222" stroke-width="1.4" />
<line x1="904.60" y1="1505.60" x2="904.60" y2="1511.10" stroke="#222" stroke-width="1.4" />
<line x1="933.38" y1="1505.60" x2="933.38" y2="1511.10" stroke="#222" stroke-width="1.4" />
<line x1="947.98" y1="1505.60" x2="947.98" y2="1511.10" stroke="#222" stroke-width="1.4" />
<line x1="958.34" y1="1505.60" x2="958.34" y2="1511.10" stroke="#222" stroke-width="1.4" />
<line x1="966.38" y1="1505.60" x2="966.38" y2="1511.10" stroke="#222" stroke-width="1.4" />
<line x1="972.95" y1="1505.60" x2="972.95" y2="1511.10" stroke="#222" stroke-width="1.4" />
<line x1="978.50" y1="1505.60" x2="978.50" y2="1511.10" stroke="#222" stroke-width="1.4" />
<line x1="983.31" y1="1505.60" x2="983.31" y2="1511.10" stroke="#222" stroke-width="1.4" />
<line x1="987.55" y1="1505.60" x2="987.55" y2="1511.10" stroke="#222" stroke-width="1.4" />
<line x1="1016.30" y1="1505.60" x2="1016.30" y2="1511.10" stroke="#222" stroke-width="1.4" />
<line x1="665.13" y1="1505.60" x2="665.13" y2="1511.10" stroke="#222" stroke-width="1.4" />
<line x1="696.65" y1="1505.60" x2="696.65" y2="1511.10" stroke="#222" stroke-width="1.4" />
<line x1="703.96" y1="1505.60" x2="703.96" y2="1511.10" stroke="#222" stroke-width="1.4" />
<line x1="710.82" y1="1505.60" x2="710.82" y2="1511.10" stroke="#222" stroke-width="1.4" />
<line x1="717.21" y1="1505.60" x2="717.21" y2="1511.10" stroke="#222" stroke-width="1.4" />
<line x1="722.70" y1="1505.60" x2="722.70" y2="1511.10" stroke="#222" stroke-width="1.4" />
<line x1="727.72" y1="1505.60" x2="727.72" y2="1511.10" stroke="#222" stroke-width="1.4" />
<line x1="731.83" y1="1505.60" x2="731.83" y2="1511.10" stroke="#222" stroke-width="1.4" />
<line x1="735.49" y1="1505.60" x2="735.49" y2="1511.10" stroke="#222" stroke-width="1.4" />
<rect x="672.00" y="1506.40" width="17.50" height="7.60" fill="#111"/>
<text x="685.70" y="1539.00" font-size="17.5" text-anchor="middle" class="tk">0</text>
<text class="tk" x="736.50" y="1539.00" font-size="17.5">10<tspan font-size="14.35" dx="2.1" dy="-10.6">2</tspan></text>
<text class="tk" x="823.00" y="1539.00" font-size="17.5">10<tspan font-size="14.35" dx="2.1" dy="-10.6">3</tspan></text>
<text class="tk" x="906.30" y="1539.00" font-size="17.5">10<tspan font-size="14.35" dx="2.1" dy="-10.6">4</tspan></text>
<text class="tk" x="989.50" y="1539.00" font-size="17.5">10<tspan font-size="14.35" dx="2.1" dy="-10.6">5</tspan></text>
<text x="833.00" y="1575.90" font-size="24.2" text-anchor="middle">MitoTracker</text>
<text x="0" y="0" font-size="23" text-anchor="middle" transform="translate(600.20 1314.30) rotate(-90)">Normalized to Mode</text>
<rect x="755.80" y="1176.30" width="23.70" height="22.16" fill="#1c3cff"/>
<text x="781.00" y="1195.00" font-size="23.5" >Control</text>
<rect x="755.80" y="1219.70" width="23.70" height="22.16" fill="#ff0000"/>
<text x="785.00" y="1239.80" font-size="23.5" >TM</text>
</g>
<g id="panel-h">
<text x="1112.00" y="1129.40" font-size="37" font-weight="bold">h</text>
<text x="1400.00" y="1147.20" font-size="29.9" text-anchor="middle">MDA-MB-468</text>
<path d="M1411.6 1502.9C1413.5 1502.4 1420.0 1502.4 1423.0 1499.5C1426.1 1496.7 1427.8 1491.5 1429.9 1485.8C1432.0 1480.1 1433.9 1473.6 1435.6 1465.2C1437.3 1456.9 1438.6 1447.0 1440.1 1435.6C1441.7 1424.1 1443.2 1410.8 1444.7 1396.7C1446.2 1382.6 1447.9 1364.7 1449.3 1351.0C1450.6 1337.3 1451.6 1324.4 1452.7 1314.5C1453.8 1304.6 1455.0 1297.7 1456.1 1291.6C1457.3 1285.5 1458.4 1286.3 1459.6 1277.9C1460.7 1269.6 1461.8 1251.3 1463.0 1241.4C1464.1 1231.5 1465.2 1223.9 1466.4 1218.5C1467.7 1213.1 1469.2 1207.4 1470.5 1208.9C1471.9 1210.5 1473.2 1223.8 1474.4 1227.7C1475.6 1231.6 1476.7 1227.7 1477.8 1232.2C1479.0 1236.8 1480.1 1246.7 1481.3 1255.1C1482.4 1263.5 1483.5 1274.1 1484.7 1282.5C1485.8 1290.9 1487.2 1295.8 1488.1 1305.3C1489.1 1314.9 1489.4 1328.2 1490.4 1339.6C1491.4 1351.0 1492.7 1363.6 1493.8 1373.9C1495.0 1384.2 1495.9 1391.0 1497.3 1401.3C1498.6 1411.6 1500.3 1424.9 1501.8 1435.6C1503.3 1446.2 1504.7 1456.9 1506.4 1465.2C1508.1 1473.6 1510.0 1480.5 1512.1 1485.8C1514.2 1491.1 1516.7 1494.4 1519.0 1497.2C1521.2 1500.1 1524.7 1502.0 1525.8 1502.9Z" fill="rgba(255,40,40,0.48)" stroke="none"/><path d="M1411.6 1502.9C1413.5 1502.4 1420.0 1502.4 1423.0 1499.5C1426.1 1496.7 1427.8 1491.5 1429.9 1485.8C1432.0 1480.1 1433.9 1473.6 1435.6 1465.2C1437.3 1456.9 1438.6 1447.0 1440.1 1435.6C1441.7 1424.1 1443.2 1410.8 1444.7 1396.7C1446.2 1382.6 1447.9 1364.7 1449.3 1351.0C1450.6 1337.3 1451.6 1324.4 1452.7 1314.5C1453.8 1304.6 1455.0 1297.7 1456.1 1291.6C1457.3 1285.5 1458.4 1286.3 1459.6 1277.9C1460.7 1269.6 1461.8 1251.3 1463.0 1241.4C1464.1 1231.5 1465.2 1223.9 1466.4 1218.5C1467.7 1213.1 1469.2 1207.4 1470.5 1208.9C1471.9 1210.5 1473.2 1223.8 1474.4 1227.7C1475.6 1231.6 1476.7 1227.7 1477.8 1232.2C1479.0 1236.8 1480.1 1246.7 1481.3 1255.1C1482.4 1263.5 1483.5 1274.1 1484.7 1282.5C1485.8 1290.9 1487.2 1295.8 1488.1 1305.3C1489.1 1314.9 1489.4 1328.2 1490.4 1339.6C1491.4 1351.0 1492.7 1363.6 1493.8 1373.9C1495.0 1384.2 1495.9 1391.0 1497.3 1401.3C1498.6 1411.6 1500.3 1424.9 1501.8 1435.6C1503.3 1446.2 1504.7 1456.9 1506.4 1465.2C1508.1 1473.6 1510.0 1480.5 1512.1 1485.8C1514.2 1491.1 1516.7 1494.4 1519.0 1497.2C1521.2 1500.1 1524.7 1502.0 1525.8 1502.9" fill="none" stroke="#ff1e1e" stroke-width="1.9" stroke-linejoin="round"/>
<path d="M1418.4 1502.9C1420.0 1502.0 1424.9 1500.8 1427.6 1497.2C1430.2 1493.6 1432.3 1488.5 1434.4 1481.2C1436.5 1474.0 1438.4 1464.1 1440.1 1453.8C1441.9 1443.5 1443.2 1432.1 1444.7 1419.6C1446.2 1407.0 1447.8 1392.9 1449.3 1378.4C1450.8 1364.0 1452.3 1348.0 1453.8 1332.8C1455.4 1317.5 1456.9 1302.3 1458.4 1287.1C1459.9 1271.8 1461.7 1254.3 1463.0 1241.4C1464.3 1228.4 1465.3 1215.9 1466.4 1209.4C1467.6 1202.9 1468.7 1205.5 1469.8 1202.5C1471.0 1199.6 1471.9 1191.4 1473.3 1191.8C1474.6 1192.2 1476.5 1198.5 1477.8 1204.8C1479.2 1211.2 1480.4 1223.9 1481.3 1230.0C1482.1 1236.0 1482.3 1238.7 1483.1 1241.4C1483.9 1244.0 1485.0 1242.9 1485.8 1245.9C1486.7 1249.0 1487.2 1254.7 1488.1 1259.7C1489.1 1264.6 1490.6 1269.2 1491.5 1275.6C1492.5 1282.1 1493.1 1289.0 1493.8 1298.5C1494.6 1308.0 1495.3 1321.3 1496.1 1332.8C1496.9 1344.2 1497.4 1355.6 1498.4 1367.0C1499.3 1378.4 1500.7 1390.6 1501.8 1401.3C1503.0 1411.9 1503.9 1420.7 1505.2 1431.0C1506.6 1441.3 1508.1 1453.8 1509.8 1463.0C1511.5 1472.1 1513.2 1479.7 1515.5 1485.8C1517.8 1491.9 1520.9 1496.5 1523.5 1499.5C1526.2 1502.5 1530.2 1502.9 1531.5 1503.6Z" fill="rgba(70,70,255,0.43)" stroke="none"/><path d="M1418.4 1502.9C1420.0 1502.0 1424.9 1500.8 1427.6 1497.2C1430.2 1493.6 1432.3 1488.5 1434.4 1481.2C1436.5 1474.0 1438.4 1464.1 1440.1 1453.8C1441.9 1443.5 1443.2 1432.1 1444.7 1419.6C1446.2 1407.0 1447.8 1392.9 1449.3 1378.4C1450.8 1364.0 1452.3 1348.0 1453.8 1332.8C1455.4 1317.5 1456.9 1302.3 1458.4 1287.1C1459.9 1271.8 1461.7 1254.3 1463.0 1241.4C1464.3 1228.4 1465.3 1215.9 1466.4 1209.4C1467.6 1202.9 1468.7 1205.5 1469.8 1202.5C1471.0 1199.6 1471.9 1191.4 1473.3 1191.8C1474.6 1192.2 1476.5 1198.5 1477.8 1204.8C1479.2 1211.2 1480.4 1223.9 1481.3 1230.0C1482.1 1236.0 1482.3 1238.7 1483.1 1241.4C1483.9 1244.0 1485.0 1242.9 1485.8 1245.9C1486.7 1249.0 1487.2 1254.7 1488.1 1259.7C1489.1 1264.6 1490.6 1269.2 1491.5 1275.6C1492.5 1282.1 1493.1 1289.0 1493.8 1298.5C1494.6 1308.0 1495.3 1321.3 1496.1 1332.8C1496.9 1344.2 1497.4 1355.6 1498.4 1367.0C1499.3 1378.4 1500.7 1390.6 1501.8 1401.3C1503.0 1411.9 1503.9 1420.7 1505.2 1431.0C1506.6 1441.3 1508.1 1453.8 1509.8 1463.0C1511.5 1472.1 1513.2 1479.7 1515.5 1485.8C1517.8 1491.9 1520.9 1496.5 1523.5 1499.5C1526.2 1502.5 1530.2 1502.9 1531.5 1503.6" fill="none" stroke="#5555ff" stroke-width="1.9" stroke-linejoin="round"/>
<rect x="1215.80" y="1163.70" width="360.70" height="339.90" fill="none" stroke="#1a1a1a" stroke-width="1.5"/>
<line x1="1205.30" y1="1179.00" x2="1215.80" y2="1179.00" stroke="#111" stroke-width="1.9" />
<text x="1198.00" y="1184.80" font-size="16" text-anchor="end" class="tk">100</text>
<line x1="1205.30" y1="1243.90" x2="1215.80" y2="1243.90" stroke="#111" stroke-width="1.9" />
<text x="1198.00" y="1249.70" font-size="16" text-anchor="end" class="tk">80</text>
<line x1="1205.30" y1="1308.10" x2="1215.80" y2="1308.10" stroke="#111" stroke-width="1.9" />
<text x="1198.00" y="1313.90" font-size="16" text-anchor="end" class="tk">60</text>
<line x1="1205.30" y1="1373.40" x2="1215.80" y2="1373.40" stroke="#111" stroke-width="1.9" />
<text x="1198.00" y="1379.20" font-size="16" text-anchor="end" class="tk">40</text>
<line x1="1205.30" y1="1437.40" x2="1215.80" y2="1437.40" stroke="#111" stroke-width="1.9" />
<text x="1198.00" y="1443.20" font-size="16" text-anchor="end" class="tk">20</text>
<line x1="1205.30" y1="1502.30" x2="1215.80" y2="1502.30" stroke="#111" stroke-width="1.9" />
<text x="1198.00" y="1503.30" font-size="16" text-anchor="end" class="tk">0</text>
<line x1="1210.80" y1="1195.16" x2="1215.80" y2="1195.16" stroke="#222" stroke-width="1.5" />
<line x1="1210.80" y1="1211.33" x2="1215.80" y2="1211.33" stroke="#222" stroke-width="1.5" />
<line x1="1210.80" y1="1227.49" x2="1215.80" y2="1227.49" stroke="#222" stroke-width="1.5" />
<line x1="1210.80" y1="1259.83" x2="1215.80" y2="1259.83" stroke="#222" stroke-width="1.5" />
<line x1="1210.80" y1="1275.99" x2="1215.80" y2="1275.99" stroke="#222" stroke-width="1.5" />
<line x1="1210.80" y1="1292.15" x2="1215.80" y2="1292.15" stroke="#222" stroke-width="1.5" />
<line x1="1210.80" y1="1324.48" x2="1215.80" y2="1324.48" stroke="#222" stroke-width="1.5" />
<line x1="1210.80" y1="1340.65" x2="1215.80" y2="1340.65" stroke="#222" stroke-width="1.5" />
<line x1="1210.80" y1="1356.82" x2="1215.80" y2="1356.82" stroke="#222" stroke-width="1.5" />
<line x1="1210.80" y1="1389.14" x2="1215.80" y2="1389.14" stroke="#222" stroke-width="1.5" />
<line x1="1210.80" y1="1405.31" x2="1215.80" y2="1405.31" stroke="#222" stroke-width="1.5" />
<line x1="1210.80" y1="1421.47" x2="1215.80" y2="1421.47" stroke="#222" stroke-width="1.5" />
<line x1="1210.80" y1="1453.81" x2="1215.80" y2="1453.81" stroke="#222" stroke-width="1.5" />
<line x1="1210.80" y1="1469.97" x2="1215.80" y2="1469.97" stroke="#222" stroke-width="1.5" />
<line x1="1210.80" y1="1486.13" x2="1215.80" y2="1486.13" stroke="#222" stroke-width="1.5" />
<line x1="1268.36" y1="1503.60" x2="1268.36" y2="1513.10" stroke="#111" stroke-width="2.0" />
<line x1="1356.08" y1="1503.60" x2="1356.08" y2="1513.10" stroke="#111" stroke-width="2.0" />
<line x1="1447.45" y1="1503.60" x2="1447.45" y2="1513.10" stroke="#111" stroke-width="2.0" />
<line x1="1536.54" y1="1503.60" x2="1536.54" y2="1513.10" stroke="#111" stroke-width="2.0" />
<line x1="1294.76" y1="1503.60" x2="1294.76" y2="1509.10" stroke="#222" stroke-width="1.4" />
<line x1="1310.21" y1="1503.60" x2="1310.21" y2="1509.10" stroke="#222" stroke-width="1.4" />
<line x1="1321.17" y1="1503.60" x2="1321.17" y2="1509.10" stroke="#222" stroke-width="1.4" />
<line x1="1329.67" y1="1503.60" x2="1329.67" y2="1509.10" stroke="#222" stroke-width="1.4" />
<line x1="1336.62" y1="1503.60" x2="1336.62" y2="1509.10" stroke="#222" stroke-width="1.4" />
<line x1="1342.49" y1="1503.60" x2="1342.49" y2="1509.10" stroke="#222" stroke-width="1.4" />
<line x1="1347.58" y1="1503.60" x2="1347.58" y2="1509.10" stroke="#222" stroke-width="1.4" />
<line x1="1352.06" y1="1503.60" x2="1352.06" y2="1509.10" stroke="#222" stroke-width="1.4" />
<line x1="1383.58" y1="1503.60" x2="1383.58" y2="1509.10" stroke="#222" stroke-width="1.4" />
<line x1="1399.67" y1="1503.60" x2="1399.67" y2="1509.10" stroke="#222" stroke-width="1.4" />
<line x1="1411.09" y1="1503.60" x2="1411.09" y2="1509.10" stroke="#222" stroke-width="1.4" />
<line x1="1419.95" y1="1503.60" x2="1419.95" y2="1509.10" stroke="#222" stroke-width="1.4" />
<line x1="1427.18" y1="1503.60" x2="1427.18" y2="1509.10" stroke="#222" stroke-width="1.4" />
<line x1="1433.30" y1="1503.60" x2="1433.30" y2="1509.10" stroke="#222" stroke-width="1.4" />
<line x1="1438.60" y1="1503.60" x2="1438.60" y2="1509.10" stroke="#222" stroke-width="1.4" />
<line x1="1443.27" y1="1503.60" x2="1443.27" y2="1509.10" stroke="#222" stroke-width="1.4" />
<line x1="1474.27" y1="1503.60" x2="1474.27" y2="1509.10" stroke="#222" stroke-width="1.4" />
<line x1="1489.96" y1="1503.60" x2="1489.96" y2="1509.10" stroke="#222" stroke-width="1.4" />
<line x1="1501.09" y1="1503.60" x2="1501.09" y2="1509.10" stroke="#222" stroke-width="1.4" />
<line x1="1509.73" y1="1503.60" x2="1509.73" y2="1509.10" stroke="#222" stroke-width="1.4" />
<line x1="1516.78" y1="1503.60" x2="1516.78" y2="1509.10" stroke="#222" stroke-width="1.4" />
<line x1="1522.74" y1="1503.60" x2="1522.74" y2="1509.10" stroke="#222" stroke-width="1.4" />
<line x1="1527.91" y1="1503.60" x2="1527.91" y2="1509.10" stroke="#222" stroke-width="1.4" />
<line x1="1532.47" y1="1503.60" x2="1532.47" y2="1509.10" stroke="#222" stroke-width="1.4" />
<line x1="1563.36" y1="1503.60" x2="1563.36" y2="1509.10" stroke="#222" stroke-width="1.4" />
<line x1="1218.56" y1="1503.60" x2="1218.56" y2="1509.10" stroke="#222" stroke-width="1.4" />
<line x1="1220.84" y1="1503.60" x2="1220.84" y2="1509.10" stroke="#222" stroke-width="1.4" />
<line x1="1223.58" y1="1503.60" x2="1223.58" y2="1509.10" stroke="#222" stroke-width="1.4" />
<line x1="1226.09" y1="1503.60" x2="1226.09" y2="1509.10" stroke="#222" stroke-width="1.4" />
<line x1="1228.83" y1="1503.60" x2="1228.83" y2="1509.10" stroke="#222" stroke-width="1.4" />
<line x1="1231.58" y1="1503.60" x2="1231.58" y2="1509.10" stroke="#222" stroke-width="1.4" />
<line x1="1244.83" y1="1503.60" x2="1244.83" y2="1509.10" stroke="#222" stroke-width="1.4" />
<line x1="1247.57" y1="1503.60" x2="1247.57" y2="1509.10" stroke="#222" stroke-width="1.4" />
<line x1="1250.31" y1="1503.60" x2="1250.31" y2="1509.10" stroke="#222" stroke-width="1.4" />
<line x1="1253.05" y1="1503.60" x2="1253.05" y2="1509.10" stroke="#222" stroke-width="1.4" />
<line x1="1256.25" y1="1503.60" x2="1256.25" y2="1509.10" stroke="#222" stroke-width="1.4" />
<line x1="1259.22" y1="1503.60" x2="1259.22" y2="1509.10" stroke="#222" stroke-width="1.4" />
<line x1="1262.64" y1="1503.60" x2="1262.64" y2="1509.10" stroke="#222" stroke-width="1.4" />
<line x1="1265.39" y1="1503.60" x2="1265.39" y2="1509.10" stroke="#222" stroke-width="1.4" />
<rect x="1234.50" y="1504.40" width="6.90" height="7.60" fill="#111"/>
<text x="1243.20" y="1536.00" font-size="16" text-anchor="middle" class="tk">0</text>
<text class="tk" x="1354.30" y="1536.00" font-size="16">10<tspan font-size="13.12" dx="2.1" dy="-10.6">3</tspan></text>
<text class="tk" x="1445.50" y="1536.00" font-size="16">10<tspan font-size="13.12" dx="2.1" dy="-10.6">4</tspan></text>
<text class="tk" x="1534.50" y="1536.00" font-size="16">10<tspan font-size="13.12" dx="2.1" dy="-10.6">5</tspan></text>
<text x="1388.00" y="1565.60" font-size="21.9" text-anchor="middle">MitoTracker</text>
<text x="0" y="0" font-size="21.2" text-anchor="middle" transform="translate(1150.30 1329.00) rotate(-90)">Normalized to Mode</text>
<rect x="1240.70" y="1194.10" width="22.70" height="21.22" fill="#1c3cff"/>
<text x="1263.60" y="1214.50" font-size="21.7" >Control</text>
<rect x="1240.70" y="1234.10" width="22.70" height="21.22" fill="#ff0000"/>
<text x="1267.20" y="1254.30" font-size="21.7" >TM</text>
</g>
<g id="panel-a">
<text x="-1.00" y="45.70" font-size="37" font-weight="bold">a</text>
<rect x="46.60" y="1.00" width="567.40" height="523.70" fill="none" stroke="#000" stroke-width="2.3"/>
<text transform="translate(57.80 48.60) scale(0.955 1)" font-size="31" >TM (µM)</text>
<text transform="translate(221.00 48.60) scale(0.94 1)" font-size="31" text-anchor="middle">0</text>
<text transform="translate(306.50 48.60) scale(0.94 1)" font-size="31" text-anchor="middle">0.1</text>
<text transform="translate(382.00 48.60) scale(0.94 1)" font-size="31" text-anchor="middle">0.2</text>
<text transform="translate(449.50 48.60) scale(0.94 1)" font-size="31" text-anchor="middle">0.5</text>
<text transform="translate(175.30 106.40) scale(0.962 1)" font-size="26.8" text-anchor="end">55/48 kD</text>
<text transform="translate(175.30 184.40) scale(0.962 1)" font-size="26.8" text-anchor="end">40 kD</text>
<text transform="translate(175.30 242.40) scale(0.962 1)" font-size="26.8" text-anchor="end">30 kD</text>
<text transform="translate(175.30 331.40) scale(0.962 1)" font-size="26.8" text-anchor="end">20 kD</text>
<text transform="translate(175.30 401.40) scale(0.962 1)" font-size="26.8" text-anchor="end">9 kD</text>
<text transform="translate(175.30 458.00) scale(0.962 1)" font-size="26.8" text-anchor="end">37 kD</text>
<text x="538.50" y="132.00" font-size="25.5" text-anchor="middle">CV/III</text>
<text x="538.50" y="221.00" font-size="25.5" text-anchor="middle">CIV</text>
<text x="538.20" y="278.00" font-size="25.5" text-anchor="middle">CII</text>
<text x="538.00" y="351.00" font-size="25.5" text-anchor="middle">CI</text>
<text x="549.50" y="404.00" font-size="25.5" text-anchor="middle">NDUFA4</text>
<text x="550.00" y="469.00" font-size="25.5" text-anchor="middle">GAPDH</text>
<g clip-path="url(#cb1)">
<rect x="180.70" y="68.80" width="304.20" height="89.50" fill="url(#gcb1)" filter="url(#btx)"/>
<g filter="url(#bl3)"><rect x="160.7" y="48.8" width="344.2" height="129.5" fill="none"/><path d="M203.9 94.2L244.4 96.5" fill="none" stroke="#030303" stroke-width="30.5" stroke-linecap="round" stroke-linejoin="round"/><path d="M276.5 99.3L317.9 101.6" fill="none" stroke="#030303" stroke-width="30.5" stroke-linecap="round" stroke-linejoin="round"/><path d="M350.0 101.7L393.3 104.8" fill="none" stroke="#030303" stroke-width="30.5" stroke-linecap="round" stroke-linejoin="round"/><path d="M427.3 105.9L479.1 113.0" fill="none" stroke="#030303" stroke-width="33.5" stroke-linecap="round" stroke-linejoin="round"/><path d="M198.3 95.5L479.1 109.7" fill="none" stroke="#050505" stroke-width="17.9" stroke-linecap="round" stroke-linejoin="round"/><path d="M207.7 118.1L251.0 121.0" fill="none" stroke="#333" stroke-width="12.4" stroke-linecap="round" stroke-linejoin="round" stroke-opacity="0.62"/><path d="M277.4 123.8L324.5 126.6" fill="none" stroke="#333" stroke-width="12.4" stroke-linecap="round" stroke-linejoin="round" stroke-opacity="0.62"/><path d="M349.0 126.2L399.9 128.9" fill="none" stroke="#333" stroke-width="12.4" stroke-linecap="round" stroke-linejoin="round" stroke-opacity="0.62"/><path d="M426.3 133.2L477.2 138.9" fill="none" stroke="#333" stroke-width="12.4" stroke-linecap="round" stroke-linejoin="round" stroke-opacity="0.62"/></g>
</g>
<g clip-path="url(#cb2)">
<rect x="180.70" y="169.00" width="304.20" height="133.80" fill="#999999" filter="url(#btx)"/>
<g filter="url(#bl3)"><rect x="160.7" y="149.0" width="344.2" height="173.8" fill="none"/><ellipse cx="464.0" cy="169.0" rx="33.9" ry="8.5" fill="#222" fill-opacity="0.6"/><ellipse cx="479.1" cy="173.7" rx="7.5" ry="10.4" fill="#222" fill-opacity="0.6"/></g>
<g filter="url(#bl2)"><rect x="160.7" y="149.0" width="344.2" height="173.8" fill="none"/><path d="M194.5 179.4Q226.5 185.4 255.8 188.4" fill="none" stroke="#101010" stroke-width="9.4" stroke-linecap="round" stroke-linejoin="round" stroke-opacity="0.92"/><path d="M283.1 193.5Q309.5 197.7 330.2 197.3" fill="none" stroke="#2a2a2a" stroke-width="7.2" stroke-linecap="round" stroke-linejoin="round" stroke-opacity="0.7"/><path d="M358.5 206.7L401.8 209.9" fill="none" stroke="#444" stroke-width="5.7" stroke-linecap="round" stroke-linejoin="round" stroke-opacity="0.4"/><path d="M428.2 212.4L475.3 216.1" fill="none" stroke="#444" stroke-width="5.3" stroke-linecap="round" stroke-linejoin="round" stroke-opacity="0.38"/><ellipse cx="429.7" cy="212.4" rx="4.1" ry="3.8" fill="#333" fill-opacity="0.6"/><path d="M192.6 235.0Q222.8 239.3 249.2 242.0" fill="none" stroke="#080808" stroke-width="13.9" stroke-linecap="round" stroke-linejoin="round"/><ellipse cx="248.2" cy="242.5" rx="8.3" ry="9.4" fill="#080808"/><ellipse cx="193.6" cy="235.4" rx="7.5" ry="8.3" fill="#080808"/><path d="M282.1 259.5Q294.4 261.9 301.0 258.5Q307.6 255.2 325.5 251.4" fill="none" stroke="#080808" stroke-width="15.8" stroke-linecap="round" stroke-linejoin="round"/><ellipse cx="321.7" cy="251.9" rx="11.3" ry="10.2" fill="#080808"/><path d="M356.2 257.6Q377.3 260.8 398.4 262.7" fill="none" stroke="#080808" stroke-width="13.9" stroke-linecap="round" stroke-linejoin="round"/><ellipse cx="356.2" cy="257.0" rx="7.5" ry="9.0" fill="#080808"/><path d="M427.3 265.1Q448.9 267.6 470.6 272.1" fill="none" stroke="#080808" stroke-width="16.2" stroke-linecap="round" stroke-linejoin="round"/><ellipse cx="427.8" cy="265.7" rx="8.5" ry="10.2" fill="#080808"/></g>
</g>
<g clip-path="url(#cb3)">
<rect x="179.00" y="311.90" width="305.90" height="42.20" fill="#a5a5a5" filter="url(#btx)"/>
<g filter="url(#bl2)"><rect x="159.0" y="291.9" width="345.9" height="82.2" fill="none"/><path d="M198.3 314.7L232.2 321.7" fill="none" stroke="#444" stroke-width="4.1" stroke-linecap="round" stroke-linejoin="round" stroke-opacity="0.5"/><path d="M260.5 326.8L305.7 333.0" fill="none" stroke="#444" stroke-width="4.1" stroke-linecap="round" stroke-linejoin="round" stroke-opacity="0.5"/><path d="M332.1 335.4L384.9 340.5" fill="none" stroke="#444" stroke-width="4.1" stroke-linecap="round" stroke-linejoin="round" stroke-opacity="0.5"/><path d="M411.2 343.0L462.1 347.5" fill="none" stroke="#444" stroke-width="4.9" stroke-linecap="round" stroke-linejoin="round" stroke-opacity="0.6"/></g>
<g filter="url(#bl1)"><rect x="159.0" y="291.9" width="345.9" height="82.2" fill="none"/><path d="M413.1 312.4L475.3 313.2" fill="none" stroke="#000" stroke-width="3.4" stroke-linecap="round" stroke-linejoin="round" stroke-opacity="0.9"/><path d="M367.9 312.4L405.6 312.4" fill="none" stroke="#333" stroke-width="1.9" stroke-linecap="round" stroke-linejoin="round" stroke-opacity="0.5"/></g>
</g>
<g clip-path="url(#cb4)">
<rect x="180.90" y="361.80" width="304.00" height="53.50" fill="url(#gcb4)" filter="url(#btx)"/>
<g filter="url(#bl3)"><rect x="160.9" y="341.8" width="344.0" height="93.5" fill="none"/><path d="M269.9 380.1L317.0 380.7" fill="none" stroke="#555" stroke-width="5.7" stroke-linecap="round" stroke-linejoin="round" stroke-opacity="0.45"/><path d="M339.6 381.4L386.7 382.9" fill="none" stroke="#555" stroke-width="5.3" stroke-linecap="round" stroke-linejoin="round" stroke-opacity="0.35"/><path d="M418.8 385.8L479.1 387.1" fill="none" stroke="#444" stroke-width="6.4" stroke-linecap="round" stroke-linejoin="round" stroke-opacity="0.6"/><path d="M332.1 400.8L403.7 402.1" fill="none" stroke="#555" stroke-width="5.3" stroke-linecap="round" stroke-linejoin="round" stroke-opacity="0.4"/><path d="M413.1 402.7L482.9 404.0" fill="none" stroke="#555" stroke-width="5.7" stroke-linecap="round" stroke-linejoin="round" stroke-opacity="0.5"/></g>
<g filter="url(#bl2)"><rect x="160.9" y="341.8" width="344.0" height="93.5" fill="none"/><path d="M210.5 381.4L247.3 392.7" fill="none" stroke="#050505" stroke-width="21.1" stroke-linecap="round" stroke-linejoin="round"/><path d="M251.0 392.7Q283.1 394.2 317.0 398.4" fill="none" stroke="#2a2a2a" stroke-width="6.0" stroke-linecap="round" stroke-linejoin="round" stroke-opacity="0.75"/></g>
</g>
<g clip-path="url(#cb5)">
<rect x="183.80" y="424.80" width="304.30" height="61.80" fill="url(#gcb5)" filter="url(#btx)"/>
<g filter="url(#bl6)"><rect x="163.8" y="404.8" width="344.3" height="101.8" fill="none"/><ellipse cx="232.2" cy="469.6" rx="37.7" ry="9.4" fill="#666" fill-opacity="0.3"/><ellipse cx="367.9" cy="473.4" rx="37.7" ry="7.5" fill="#666" fill-opacity="0.3"/></g>
<g filter="url(#bl2)"><rect x="163.8" y="404.8" width="344.3" height="101.8" fill="none"/><path d="M205.8 444.7L250.1 446.6" fill="none" stroke="#070707" stroke-width="14.3" stroke-linecap="round" stroke-linejoin="round"/><path d="M278.4 454.9Q301.9 454.9 329.3 453.4" fill="none" stroke="#070707" stroke-width="13.6" stroke-linecap="round" stroke-linejoin="round"/><path d="M350.0 454.2Q377.3 458.3 401.8 460.6" fill="none" stroke="#070707" stroke-width="14.7" stroke-linecap="round" stroke-linejoin="round"/><path d="M423.5 461.1Q452.7 462.5 481.0 468.7" fill="none" stroke="#070707" stroke-width="14.7" stroke-linecap="round" stroke-linejoin="round"/><ellipse cx="471.5" cy="468.1" rx="17.9" ry="9.4" fill="#070707"/></g>
</g>
</g>
<g id="panel-c">
<text x="1130.00" y="43.90" font-size="37" font-weight="bold">c</text>
<rect x="1128.00" y="95.70" width="586.00" height="318.30" fill="none" stroke="#000" stroke-width="2.3"/>
<text transform="translate(1157.8 140) scale(0.955 1)" font-size="31.3">TM (<tspan font-weight="bold">µ</tspan>M)</text>
<text transform="translate(1330.00 140.00) scale(0.94 1)" font-size="31.3" text-anchor="middle">0</text>
<text transform="translate(1433.80 140.00) scale(0.94 1)" font-size="31.3" text-anchor="middle">0.5</text>
<text x="1276.30" y="207.60" font-size="25.2" text-anchor="end">14 kD</text>
<text x="1276.30" y="319.20" font-size="25.2" text-anchor="end">37 kD</text>
<text x="1514.50" y="198.90" font-size="29.8" >Cytochrome c</text>
<text x="1512.60" y="316.00" font-size="29.5" >GAPDH</text>
<g clip-path="url(#cb6)">
<rect x="1295.50" y="159.10" width="204.00" height="99.90" fill="#949494" filter="url(#btx)"/>
<g filter="url(#bl2)"><rect x="1275.5" y="139.1" width="244.0" height="139.9" fill="none"/><path d="M1309.1 199.1L1367.7 199.4" fill="none" stroke="#060606" stroke-width="15.4" stroke-linecap="round" stroke-linejoin="round"/><path d="M1403.4 197.8L1465.3 185.8" fill="none" stroke="#060606" stroke-width="20.3" stroke-linecap="round" stroke-linejoin="round"/></g>
</g>
<g clip-path="url(#cb7)">
<rect x="1296.90" y="272.40" width="204.30" height="98.80" fill="#969696" filter="url(#btx)"/>
<g filter="url(#bl2)"><rect x="1276.9" y="252.4" width="244.3" height="138.8" fill="none"/><path d="M1314.3 317.7Q1337.6 316.3 1363.9 315.8" fill="none" stroke="#060606" stroke-width="14.3" stroke-linecap="round" stroke-linejoin="round"/><path d="M1399.2 312.9L1453.0 305.1" fill="none" stroke="#060606" stroke-width="16.2" stroke-linecap="round" stroke-linejoin="round"/></g>
</g>
</g>
<g id="panel-i">
<text x="22.50" y="1680.00" font-size="37" font-weight="bold">i</text>
<g clip-path="url(#cem1)">
<g filter="url(#fem1)">
<rect x="36.00" y="1726.00" width="221.00" height="302.00" fill="#c4c4c4"/>
<g filter="url(#eb9)"><rect x="7.0" y="1697.0" width="279.0" height="360.0" fill="none"/><path d="M91.0 1726.9C108.8 1719.4 187.6 1721.4 205.4 1726.9C223.2 1732.3 209.2 1754.4 197.8 1759.7C186.4 1764.9 153.3 1756.1 136.8 1758.1C120.3 1760.2 106.3 1777.1 98.6 1771.9C91.0 1766.7 73.2 1734.4 91.0 1726.9Z" fill="#000" fill-opacity="0.4"/></g>
<g filter="url(#eb4)"><rect x="7.0" y="1697.0" width="279.0" height="360.0" fill="none"/><path d="M109.3 1765.8C120.0 1745.4 151.8 1739.1 167.3 1750.5C182.8 1761.9 194.0 1807.7 202.4 1834.4C210.8 1861.1 216.4 1886.5 217.6 1910.7C218.9 1934.8 212.0 1959.9 210.0 1979.3C208.0 1998.7 227.0 2019.0 205.4 2026.9C183.8 2034.8 98.4 2039.9 80.3 2026.9C62.3 2013.9 93.3 1974.5 97.1 1948.8C100.9 1923.1 101.2 1903.0 103.2 1872.5C105.3 1842.0 98.6 1786.1 109.3 1765.8Z" fill="#000" fill-opacity="0.17"/><path d="M39.2 1750.5C45.8 1745.4 79.3 1746.4 88.0 1753.6C96.6 1760.7 93.1 1783.6 91.0 1793.2C89.0 1802.9 82.9 1813.1 75.8 1811.5C68.6 1810.0 54.4 1794.2 48.3 1784.1C42.2 1773.9 32.5 1755.6 39.2 1750.5Z" fill="#fff" fill-opacity="0.4"/><path d="M220.7 1819.2C227.3 1812.8 250.2 1801.4 256.1 1819.2C262.0 1836.9 260.7 1909.4 256.1 1925.9C251.4 1942.5 235.0 1929.7 228.3 1918.3C221.6 1906.9 217.4 1873.8 216.1 1857.3C214.8 1840.8 214.0 1825.5 220.7 1819.2Z" fill="#fff" fill-opacity="0.45"/><ellipse cx="213.0" cy="1796.3" rx="16.8" ry="22.9" fill="#fff" fill-opacity="0.55"/><ellipse cx="243.6" cy="2002.2" rx="13.7" ry="16.8" fill="#fff" fill-opacity="0.45"/><ellipse cx="75.8" cy="1948.8" rx="9.2" ry="18.3" fill="#fff" fill-opacity="0.3"/><ellipse cx="129.2" cy="1967.1" rx="10.7" ry="10.7" fill="#000" fill-opacity="0.42"/><ellipse cx="127.6" cy="1999.2" rx="16.8" ry="12.2" fill="#000" fill-opacity="0.38"/><ellipse cx="88.0" cy="1994.6" rx="12.2" ry="30.5" fill="#000" fill-opacity="0.25"/><ellipse cx="45.3" cy="1971.7" rx="9.2" ry="18.3" fill="#000" fill-opacity="0.25"/></g>
<g filter="url(#eb2)"><rect x="7.0" y="1697.0" width="279.0" height="360.0" fill="none"/><ellipse cx="246.6" cy="1958.0" rx="7.6" ry="15.3" fill="#fff" fill-opacity="0.3"/><path d="M109.3 1770.3C108.1 1779.7 102.6 1809.7 101.7 1826.8C100.8 1843.8 104.4 1857.3 104.0 1872.5C103.6 1887.8 100.6 1905.6 99.4 1918.3C98.3 1931.0 99.0 1939.9 97.1 1948.8C95.2 1957.7 90.5 1964.1 88.0 1971.7C85.4 1979.3 83.4 1985.4 81.9 1994.6C80.3 2003.8 79.3 2021.5 78.8 2026.9" fill="none" stroke="#000" stroke-opacity="0.68" stroke-width="9.8" stroke-linecap="round" stroke-linejoin="round"/><path d="M45.3 1925.9C47.8 1929.7 57.3 1937.4 60.5 1948.8C63.7 1960.3 63.8 1981.6 64.3 1994.6C64.8 2007.6 63.7 2021.5 63.6 2026.9" fill="none" stroke="#000" stroke-opacity="0.65" stroke-width="6.7" stroke-linecap="round" stroke-linejoin="round"/><path d="M167.3 1742.9C169.8 1749.2 178.0 1769.6 182.5 1781.0C187.1 1792.5 191.4 1802.6 194.7 1811.5C198.0 1820.4 199.8 1824.2 202.4 1834.4C204.9 1844.6 207.5 1859.8 210.0 1872.5C212.5 1885.3 216.6 1898.0 217.6 1910.7C218.6 1923.4 217.4 1937.4 216.1 1948.8C214.8 1960.3 211.8 1966.3 210.0 1979.3C208.2 1992.3 206.2 2019.0 205.4 2026.9" fill="none" stroke="#000" stroke-opacity="0.66" stroke-width="9.2" stroke-linecap="round" stroke-linejoin="round"/><path d="M144.4 1784.1C146.2 1788.6 151.8 1801.9 155.1 1811.5C158.4 1821.2 161.7 1831.9 164.2 1842.0C166.8 1852.2 168.6 1861.1 170.3 1872.5C172.1 1884.0 172.9 1901.8 174.9 1910.7C176.9 1919.6 176.7 1920.8 182.5 1925.9C188.4 1931.0 205.4 1938.6 210.0 1941.2" fill="none" stroke="#000" stroke-opacity="0.6" stroke-width="5.8" stroke-linecap="round" stroke-linejoin="round"/><path d="M127.6 1819.2C129.2 1824.2 134.9 1840.8 136.8 1849.7C138.7 1858.6 139.3 1866.2 139.1 1872.5C138.8 1878.9 135.9 1885.3 135.3 1887.8" fill="none" stroke="#000" stroke-opacity="0.58" stroke-width="4.3" stroke-linecap="round" stroke-linejoin="round"/><path d="M194.7 1732.2C195.3 1736.5 194.7 1751.3 197.8 1758.1C200.8 1765.0 208.5 1772.1 213.0 1773.4C217.6 1774.7 223.2 1767.0 225.3 1765.8" fill="none" stroke="#000" stroke-opacity="0.55" stroke-width="4.9" stroke-linecap="round" stroke-linejoin="round"/><path d="M182.5 1872.5L200.8 1878.6" fill="none" stroke="#000" stroke-opacity="0.5" stroke-width="3.7" stroke-linecap="round" stroke-linejoin="round"/><path d="M220.7 1765.8C223.2 1770.8 234.7 1787.4 235.9 1796.3C237.2 1805.2 229.6 1815.3 228.3 1819.2" fill="none" stroke="#000" stroke-opacity="0.33" stroke-width="4.3" stroke-linecap="round" stroke-linejoin="round"/><ellipse cx="52.9" cy="1884.7" rx="12.2" ry="11.4" fill="none" stroke="#000" stroke-opacity="0.7" stroke-width="6.1"/><ellipse cx="52.9" cy="1884.7" rx="7.6" ry="6.9" fill="#000" fill-opacity="0.35"/><ellipse cx="64.3" cy="1842.0" rx="9.2" ry="9.9" fill="#000" fill-opacity="0.55"/><ellipse cx="49.1" cy="1799.3" rx="6.9" ry="7.6" fill="#000" fill-opacity="0.55"/><ellipse cx="62.0" cy="1810.0" rx="4.6" ry="4.3" fill="#000" fill-opacity="0.8"/><ellipse cx="49.1" cy="1823.7" rx="3.8" ry="7.6" fill="#000" fill-opacity="0.45"/><ellipse cx="64.3" cy="1913.7" rx="6.1" ry="6.1" fill="#000" fill-opacity="0.38"/><ellipse cx="242.0" cy="1958.0" rx="11.4" ry="21.4" fill="none" stroke="#000" stroke-opacity="0.65" stroke-width="5.2" transform="rotate(15 242.0 1958.0)"/><ellipse cx="234.4" cy="1869.5" rx="5.3" ry="5.3" fill="#000" fill-opacity="0.5"/><ellipse cx="249.7" cy="1849.7" rx="4.6" ry="4.6" fill="#000" fill-opacity="0.45"/><path d="M87 1896A6 5 112 1 0 91 1885A6 5 112 1 0 87 1896ZM57 1736A8 5 42 1 0 45 1725A8 5 42 1 0 57 1736ZM252 1875A8 6 115 1 0 259 1861A8 6 115 1 0 252 1875ZM64 1924A8 6 133 1 0 76 1911A8 6 133 1 0 64 1924ZM189 1753A8 6 54 1 0 179 1740A8 6 54 1 0 189 1753ZM38 1989A6 5 158 1 0 50 1984A6 5 158 1 0 38 1989ZM194 2009A6 5 80 1 0 192 1997A6 5 80 1 0 194 2009ZM245 1993A4 2 39 1 0 238 1988A4 2 39 1 0 245 1993ZM248 1865A7 4 91 1 0 249 1851A7 4 91 1 0 248 1865ZM115 1834A7 5 162 1 0 128 1830A7 5 162 1 0 115 1834ZM182 2013A8 8 120 1 0 191 1999A8 8 120 1 0 182 2013ZM71 1994A9 8 102 1 0 75 1977A9 8 102 1 0 71 1994ZM198 1797A8 6 51 1 0 188 1784A8 6 51 1 0 198 1797ZM44 1988A9 4 144 1 0 58 1978A9 4 144 1 0 44 1988ZM122 1774A5 5 157 1 0 132 1770A5 5 157 1 0 122 1774ZM49 1915A4 4 59 1 0 45 1908A4 4 59 1 0 49 1915ZM234 2027A7 7 55 1 0 226 2016A7 7 55 1 0 234 2027ZM55 1911A4 2 73 1 0 53 1903A4 2 73 1 0 55 1911ZM173 1777A4 4 56 1 0 168 1770A4 4 56 1 0 173 1777ZM247 2002A6 4 93 1 0 247 1990A6 4 93 1 0 247 2002ZM171 1907A7 5 169 1 0 185 1904A7 5 169 1 0 171 1907ZM152 1863A8 4 54 1 0 144 1850A8 4 54 1 0 152 1863ZM253 1890A7 3 74 1 0 249 1877A7 3 74 1 0 253 1890ZM171 1734A7 6 10 1 0 157 1732A7 6 10 1 0 171 1734ZM170 1873A7 5 127 1 0 179 1861A7 5 127 1 0 170 1873ZM194 1734A4 4 173 1 0 203 1733A4 4 173 1 0 194 1734ZM95 1870A7 4 65 1 0 89 1858A7 4 65 1 0 95 1870ZM108 1844A7 4 67 1 0 103 1831A7 4 67 1 0 108 1844ZM210 1741A7 6 55 1 0 202 1729A7 6 55 1 0 210 1741ZM87 1973A5 3 78 1 0 85 1963A5 3 78 1 0 87 1973ZM185 1760A6 4 150 1 0 195 1755A6 4 150 1 0 185 1760ZM131 1988A5 3 117 1 0 135 1979A5 3 117 1 0 131 1988ZM230 1867A5 3 95 1 0 231 1857A5 3 95 1 0 230 1867ZM84 1975A8 5 50 1 0 74 1963A8 5 50 1 0 84 1975ZM221 1923A8 5 23 1 0 206 1916A8 5 23 1 0 221 1923ZM102 1970A5 3 75 1 0 100 1960A5 3 75 1 0 102 1970ZM138 1850A9 5 0 1 0 120 1850A9 5 0 1 0 138 1850ZM235 1992A9 6 171 1 0 252 1990A9 6 171 1 0 235 1992ZM236 1800A8 7 119 1 0 244 1787A8 7 119 1 0 236 1800ZM156 1815A6 3 12 1 0 145 1813A6 3 12 1 0 156 1815ZM158 1816A8 4 162 1 0 174 1811A8 4 162 1 0 158 1816ZM187 2012A8 8 103 1 0 191 1996A8 8 103 1 0 187 2012ZM37 1955A5 3 119 1 0 42 1946A5 3 119 1 0 37 1955ZM156 1859A9 7 61 1 0 148 1843A9 7 61 1 0 156 1859ZM95 1991A6 6 63 1 0 89 1980A6 6 63 1 0 95 1991Z" fill="#000" fill-opacity="0.2" fill-rule="nonzero"/></g>
</g>

</g>
<g clip-path="url(#cem2)">
<g filter="url(#fem2)">
<rect x="282.00" y="1682.00" width="384.20" height="382.00" fill="#cbcbcb"/>
<g filter="url(#eb9)"><rect x="253.0" y="1653.0" width="442.2" height="440.0" fill="none"/><path d="M284.1 1960.6C294.0 1954.8 327.9 1954.1 343.5 1956.0C359.1 1957.9 374.0 1965.5 377.8 1972.0C381.6 1978.4 377.8 1991.0 366.4 1994.8C355.0 1998.6 323.0 1995.6 309.3 1994.8C295.6 1994.1 288.3 1996.0 284.1 1990.2C279.9 1984.5 274.2 1966.3 284.1 1960.6Z" fill="#000" fill-opacity="0.3"/><path d="M606.2 1789.2C616.1 1762.6 655.4 1743.5 665.2 1789.2C675.0 1834.9 678.8 2017.7 665.2 2063.3C651.5 2109.0 593.2 2082.4 583.4 2063.3C573.6 2044.3 602.4 1994.8 606.2 1949.1C610.0 1903.4 596.4 1815.9 606.2 1789.2Z" fill="#fff" fill-opacity="0.2"/><path d="M560.6 1683.0C572.3 1676.7 647.7 1674.8 665.2 1683.0C682.6 1691.2 676.9 1725.8 665.2 1732.1C653.5 1738.4 612.3 1728.9 594.8 1720.7C577.4 1712.5 548.8 1689.3 560.6 1683.0Z" fill="#fff" fill-opacity="0.1"/></g>
<g filter="url(#eb4)"><rect x="253.0" y="1653.0" width="442.2" height="440.0" fill="none"/><path d="M457.8 1720.7C464.6 1711.6 489.0 1712.3 503.4 1716.1C517.9 1719.9 537.7 1734.0 544.6 1743.5C551.4 1753.1 551.4 1766.4 544.6 1773.2C537.7 1780.1 517.1 1785.0 503.4 1784.7C489.7 1784.3 469.9 1781.6 462.3 1770.9C454.7 1760.3 450.9 1729.8 457.8 1720.7Z" fill="#000" fill-opacity="0.12"/><path d="M366.4 1743.5C377.8 1736.7 419.7 1738.2 432.6 1743.5C445.6 1748.9 438.0 1768.7 444.0 1775.5C450.1 1782.4 474.5 1779.7 469.2 1784.7C463.8 1789.6 427.3 1801.4 412.1 1805.2C396.8 1809.0 385.8 1810.9 377.8 1807.5C369.8 1804.1 366.0 1795.3 364.1 1784.7C362.2 1774.0 355.0 1750.4 366.4 1743.5Z" fill="#000" fill-opacity="0.17"/><path d="M377.8 1750.4C383.1 1745.4 409.4 1738.6 416.6 1741.2C423.9 1743.9 426.5 1761.4 421.2 1766.4C415.9 1771.3 391.9 1773.6 384.7 1770.9C377.4 1768.3 372.5 1755.3 377.8 1750.4Z" fill="#fff" fill-opacity="0.3"/><path d="M316.1 1716.1C326.8 1711.6 373.2 1710.4 384.7 1713.8C396.1 1717.3 395.3 1732.1 384.7 1736.7C374.0 1741.2 332.1 1744.7 320.7 1741.2C309.3 1737.8 305.5 1720.7 316.1 1716.1Z" fill="#000" fill-opacity="0.22"/><path d="M549.1 1830.3C553.3 1818.2 564.4 1822.0 572.0 1830.3C579.6 1838.7 590.6 1864.6 594.8 1880.6C599.0 1896.6 597.9 1911.1 597.1 1926.3C596.3 1941.5 594.4 1956.7 590.2 1972.0C586.1 1987.2 582.6 2002.8 572.0 2017.7C561.3 2032.5 536.9 2053.8 526.3 2061.1C515.6 2068.3 506.1 2072.1 508.0 2061.1C509.9 2050.0 531.2 2021.1 537.7 1994.8C544.2 1968.5 544.9 1930.9 546.8 1903.4C548.7 1876.0 544.9 1842.5 549.1 1830.3Z" fill="#000" fill-opacity="0.13"/><ellipse cx="355.0" cy="1967.4" rx="13.7" ry="11.4" fill="#000" fill-opacity="0.3"/><ellipse cx="336.7" cy="2059.9" rx="13.7" ry="9.1" fill="#000" fill-opacity="0.5"/><ellipse cx="425.8" cy="1839.5" rx="13.7" ry="25.1" fill="#000" fill-opacity="0.3" transform="rotate(-20 425.8 1839.5)"/><ellipse cx="439.5" cy="1821.2" rx="13.7" ry="9.1" fill="#000" fill-opacity="0.25"/><ellipse cx="649.6" cy="1910.3" rx="16.0" ry="9.1" fill="#000" fill-opacity="0.35" transform="rotate(-30 649.6 1910.3)"/><ellipse cx="651.9" cy="1972.0" rx="9.1" ry="13.7" fill="#000" fill-opacity="0.3"/><ellipse cx="366.4" cy="1933.1" rx="16.0" ry="10.3" fill="#000" fill-opacity="0.25"/><path d="M601.7 1914.9C605.1 1905.3 624.9 1899.6 631.4 1903.4C637.8 1907.2 643.9 1928.2 640.5 1937.7C637.1 1947.2 617.3 1964.4 610.8 1960.6C604.3 1956.7 598.2 1924.4 601.7 1914.9Z" fill="#fff" fill-opacity="0.4"/></g>
<g filter="url(#eb2)"><rect x="253.0" y="1653.0" width="442.2" height="440.0" fill="none"/><path d="M445.2 1709.3C453.2 1700.5 467.1 1700.9 480.6 1700.1C494.1 1699.4 511.1 1699.4 526.3 1704.7C541.5 1710.0 560.6 1721.8 572.0 1732.1C583.4 1742.4 591.8 1757.2 594.8 1766.4C597.9 1775.5 596.0 1782.0 590.2 1786.9C584.5 1791.9 575.0 1794.9 560.6 1796.1C546.1 1797.2 518.7 1795.7 503.4 1793.8C488.2 1791.9 479.1 1787.7 469.2 1784.7C459.3 1781.6 450.1 1780.8 444.0 1775.5C438.0 1770.2 432.4 1763.7 432.6 1752.7C432.8 1741.6 437.2 1718.0 445.2 1709.3Z" fill="#000" fill-opacity="0.33"/><ellipse cx="506.9" cy="1757.2" rx="11.4" ry="11.4" fill="#000" fill-opacity="0.42"/><path d="M556.0 1752.7C561.3 1750.0 574.3 1749.6 576.5 1755.0C578.8 1760.3 574.3 1778.9 569.7 1784.7C565.1 1790.4 553.3 1791.5 549.1 1789.2C544.9 1786.9 543.4 1777.0 544.6 1770.9C545.7 1764.9 550.7 1755.3 556.0 1752.7Z" fill="#fff" fill-opacity="0.5"/><path d="M288.7 1709.3C297.8 1708.7 326.0 1706.2 343.5 1705.8C361.0 1705.5 380.5 1706.1 393.8 1707.0C407.1 1707.9 414.9 1710.7 423.5 1711.1C432.1 1711.5 441.6 1709.6 445.2 1709.3" fill="none" stroke="#000" stroke-opacity="0.3" stroke-width="5.9" stroke-linecap="round" stroke-linejoin="round"/><ellipse cx="293.3" cy="1743.5" rx="11.4" ry="9.1" fill="#000" fill-opacity="0.25"/><ellipse cx="635.9" cy="1736.7" rx="9.1" ry="8.0" fill="#000" fill-opacity="0.4"/><path d="M569 2029A7 6 162 1 0 583 2025A7 6 162 1 0 569 2029ZM355 1850A13 7 57 1 0 341 1828A13 7 57 1 0 355 1850ZM366 1815A12 8 76 1 0 360 1791A12 8 76 1 0 366 1815ZM521 1998A9 4 103 1 0 525 1980A9 4 103 1 0 521 1998ZM301 1724A7 5 51 1 0 292 1714A7 5 51 1 0 301 1724ZM336 1699A11 10 39 1 0 320 1685A11 10 39 1 0 336 1699ZM383 1692A10 6 24 1 0 365 1684A10 6 24 1 0 383 1692ZM527 1919A9 5 114 1 0 534 1903A9 5 114 1 0 527 1919ZM490 1850A6 6 155 1 0 501 1845A6 6 155 1 0 490 1850ZM556 2065A10 6 20 1 0 538 2058A10 6 20 1 0 556 2065ZM508 1885A8 8 151 1 0 523 1876A8 8 151 1 0 508 1885ZM330 2023A5 4 56 1 0 324 2015A5 4 56 1 0 330 2023ZM571 2047A9 8 9 1 0 553 2043A9 8 9 1 0 571 2047ZM462 1811A6 5 16 1 0 452 1808A6 5 16 1 0 462 1811ZM392 1717A10 6 7 1 0 371 1714A10 6 7 1 0 392 1717ZM302 1767A9 4 4 1 0 284 1766A9 4 4 1 0 302 1767ZM543 1886A6 4 22 1 0 532 1881A6 4 22 1 0 543 1886ZM393 1835A7 4 40 1 0 383 1826A7 4 40 1 0 393 1835ZM400 1906A12 10 80 1 0 396 1882A12 10 80 1 0 400 1906ZM275 1759A10 7 152 1 0 293 1750A10 7 152 1 0 275 1759ZM429 1804A10 5 49 1 0 416 1788A10 5 49 1 0 429 1804ZM317 1908A7 6 126 1 0 325 1897A7 6 126 1 0 317 1908ZM479 2041A9 9 128 1 0 491 2026A9 9 128 1 0 479 2041ZM340 1795A12 6 176 1 0 363 1794A12 6 176 1 0 340 1795ZM296 1977A10 7 108 1 0 302 1958A10 7 108 1 0 296 1977ZM502 1826A7 3 117 1 0 509 1813A7 3 117 1 0 502 1826ZM369 1992A12 6 156 1 0 392 1982A12 6 156 1 0 369 1992ZM409 1984A7 7 60 1 0 401 1971A7 7 60 1 0 409 1984ZM357 1706A6 3 147 1 0 367 1700A6 3 147 1 0 357 1706ZM285 1732A7 4 139 1 0 296 1723A7 4 139 1 0 285 1732ZM291 1947A8 4 41 1 0 280 1937A8 4 41 1 0 291 1947ZM438 1838A9 8 52 1 0 427 1823A9 8 52 1 0 438 1838ZM523 1957A7 6 14 1 0 509 1953A7 6 14 1 0 523 1957ZM466 1820A6 5 153 1 0 477 1814A6 5 153 1 0 466 1820ZM463 1829A12 12 113 1 0 473 1806A12 12 113 1 0 463 1829ZM545 1949A9 8 134 1 0 558 1936A9 8 134 1 0 545 1949ZM529 1892A8 5 91 1 0 530 1876A8 5 91 1 0 529 1892ZM406 1864A6 6 23 1 0 394 1859A6 6 23 1 0 406 1864ZM361 1791A13 11 15 1 0 336 1784A13 11 15 1 0 361 1791ZM391 1720A7 4 7 1 0 377 1719A7 4 7 1 0 391 1720ZM294 1872A11 8 120 1 0 305 1853A11 8 120 1 0 294 1872ZM554 1882A8 8 82 1 0 551 1866A8 8 82 1 0 554 1882ZM552 1983A9 5 34 1 0 538 1973A9 5 34 1 0 552 1983ZM388 1761A8 4 138 1 0 400 1750A8 4 138 1 0 388 1761ZM571 1927A6 3 161 1 0 582 1923A6 3 161 1 0 571 1927ZM400 1855A9 6 44 1 0 387 1842A9 6 44 1 0 400 1855ZM504 1998A6 4 67 1 0 499 1987A6 4 67 1 0 504 1998ZM404 2034A12 6 11 1 0 380 2029A12 6 11 1 0 404 2034ZM505 1877A5 5 157 1 0 515 1873A5 5 157 1 0 505 1877ZM346 2003A10 7 168 1 0 367 1999A10 7 168 1 0 346 2003ZM311 1946A12 11 17 1 0 288 1939A12 11 17 1 0 311 1946ZM542 1898A10 5 173 1 0 562 1896A10 5 173 1 0 542 1898ZM453 1818A7 6 91 1 0 454 1804A7 6 91 1 0 453 1818ZM450 1881A7 7 138 1 0 461 1871A7 7 138 1 0 450 1881ZM375 1803A9 7 162 1 0 392 1797A9 7 162 1 0 375 1803ZM346 1773A6 4 150 1 0 356 1767A6 4 150 1 0 346 1773ZM282 1978A8 8 100 1 0 285 1962A8 8 100 1 0 282 1978ZM560 1938A12 7 18 1 0 539 1930A12 7 18 1 0 560 1938ZM358 1925A6 3 63 1 0 353 1914A6 3 63 1 0 358 1925ZM382 1731A13 12 177 1 0 408 1730A13 12 177 1 0 382 1731ZM520 1831A7 5 140 1 0 531 1822A7 5 140 1 0 520 1831ZM279 1723A9 6 148 1 0 295 1714A9 6 148 1 0 279 1723ZM356 2057A8 4 176 1 0 371 2056A8 4 176 1 0 356 2057ZM578 1990A6 6 54 1 0 571 1979A6 6 54 1 0 578 1990ZM459 2020A6 3 111 1 0 463 2009A6 3 111 1 0 459 2020ZM469 2052A13 8 134 1 0 487 2034A13 8 134 1 0 469 2052ZM297 1962A9 5 51 1 0 287 1949A9 5 51 1 0 297 1962ZM470 1856A7 3 6 1 0 455 1855A7 3 6 1 0 470 1856ZM283 2008A8 6 165 1 0 299 2003A8 6 165 1 0 283 2008ZM308 2003A12 8 127 1 0 323 1984A12 8 127 1 0 308 2003ZM287 1833A5 4 174 1 0 298 1832A5 4 174 1 0 287 1833ZM600 1942A5 3 18 1 0 590 1938A5 3 18 1 0 600 1942ZM452 1812A5 2 21 1 0 443 1808A5 2 21 1 0 452 1812ZM506 2008A10 9 41 1 0 491 1995A10 9 41 1 0 506 2008ZM383 1826A6 4 21 1 0 373 1822A6 4 21 1 0 383 1826ZM309 2009A7 5 83 1 0 307 1995A7 5 83 1 0 309 2009ZM291 1706A12 11 136 1 0 308 1690A12 11 136 1 0 291 1706ZM337 1882A7 5 178 1 0 350 1881A7 5 178 1 0 337 1882ZM363 1705A12 12 149 1 0 385 1692A12 12 149 1 0 363 1705ZM561 1922A12 8 88 1 0 560 1897A12 8 88 1 0 561 1922ZM418 1765A7 7 107 1 0 423 1751A7 7 107 1 0 418 1765ZM566 2006A11 8 10 1 0 545 2002A11 8 10 1 0 566 2006ZM360 1699A9 7 19 1 0 343 1693A9 7 19 1 0 360 1699ZM315 1860A9 5 163 1 0 332 1854A9 5 163 1 0 315 1860ZM591 1987A7 5 76 1 0 587 1972A7 5 76 1 0 591 1987ZM304 2030A7 4 129 1 0 312 2020A7 4 129 1 0 304 2030ZM353 1935A13 12 4 1 0 327 1933A13 12 4 1 0 353 1935ZM339 1775A10 7 86 1 0 338 1756A10 7 86 1 0 339 1775ZM377 1732A9 5 119 1 0 385 1717A9 5 119 1 0 377 1732ZM426 1700A8 5 130 1 0 436 1688A8 5 130 1 0 426 1700ZM362 1777A8 5 117 1 0 370 1762A8 5 117 1 0 362 1777ZM520 1694A7 5 75 1 0 517 1681A7 5 75 1 0 520 1694ZM310 1834A6 3 174 1 0 323 1833A6 3 174 1 0 310 1834ZM535 1702A11 6 169 1 0 557 1698A11 6 169 1 0 535 1702ZM369 1811A5 3 24 1 0 359 1806A5 3 24 1 0 369 1811ZM552 2047A6 3 149 1 0 563 2041A6 3 149 1 0 552 2047ZM499 2009A8 4 79 1 0 497 1994A8 4 79 1 0 499 2009ZM518 1970A10 8 132 1 0 531 1956A10 8 132 1 0 518 1970ZM391 2020A12 11 165 1 0 415 2014A12 11 165 1 0 391 2020ZM295 2018A12 7 30 1 0 275 2006A12 7 30 1 0 295 2018ZM591 2015A8 4 27 1 0 576 2007A8 4 27 1 0 591 2015ZM409 1937A11 6 13 1 0 387 1932A11 6 13 1 0 409 1937ZM533 1856A9 9 2 1 0 515 1855A9 9 2 1 0 533 1856ZM526 1833A9 5 147 1 0 542 1823A9 5 147 1 0 526 1833ZM446 1870A10 7 24 1 0 428 1862A10 7 24 1 0 446 1870Z" fill="#000" fill-opacity="0.22" fill-rule="nonzero"/></g>
<g filter="url(#eb1)"><rect x="253.0" y="1653.0" width="442.2" height="440.0" fill="none"/><path d="M393.8 1707.0C398.7 1707.7 414.9 1710.7 423.5 1711.1C432.1 1711.5 435.7 1711.1 445.2 1709.3C454.7 1707.4 467.1 1700.9 480.6 1700.1C494.1 1699.4 511.1 1699.4 526.3 1704.7C541.5 1710.0 560.6 1721.8 572.0 1732.1C583.4 1742.4 591.8 1757.2 594.8 1766.4C597.9 1775.5 596.0 1782.0 590.2 1786.9C584.5 1791.9 575.0 1794.9 560.6 1796.1C546.1 1797.2 518.7 1795.7 503.4 1793.8C488.2 1791.9 484.4 1782.9 469.2 1784.7C453.9 1786.4 427.3 1800.3 412.1 1804.1C396.8 1807.9 385.8 1810.7 377.8 1807.5C369.8 1804.3 366.6 1795.3 364.1 1784.7C361.6 1774.0 363.1 1750.4 362.9 1743.5" fill="none" stroke="#000" stroke-opacity="0.72" stroke-width="3.4" stroke-linecap="round" stroke-linejoin="round"/><path d="M445.2 1710.4L445.2 1741.2" fill="none" stroke="#000" stroke-opacity="0.57" stroke-width="3.4" stroke-linecap="round" stroke-linejoin="round"/><path d="M375.5 1755.0C378.6 1753.1 386.9 1745.8 393.8 1743.5C400.6 1741.2 412.8 1741.6 416.6 1741.2" fill="none" stroke="#000" stroke-opacity="0.52" stroke-width="2.6" stroke-linecap="round" stroke-linejoin="round"/><path d="M604.0 1759.5C605.1 1762.2 610.8 1771.3 610.8 1775.5C610.8 1779.7 605.1 1783.1 604.0 1784.7" fill="none" stroke="#000" stroke-opacity="0.42" stroke-width="7.4" stroke-linecap="round" stroke-linejoin="round"/><path d="M450.9 1889.7C457.6 1882.5 471.8 1880.6 480.6 1882.9C489.4 1885.2 498.9 1894.3 503.4 1903.4C508.0 1912.6 508.8 1927.8 508.0 1937.7C507.2 1947.6 498.1 1956.0 498.9 1962.8C499.6 1969.7 512.6 1973.9 512.6 1978.8C512.6 1983.8 506.1 1991.4 498.9 1992.5C491.6 1993.7 477.6 1990.2 469.2 1985.7C460.8 1981.1 453.4 1975.0 448.6 1965.1C443.9 1955.2 440.2 1938.8 440.6 1926.3C441.0 1913.7 444.2 1897.0 450.9 1889.7Z" fill="#fff" fill-opacity="0.75"/><path d="M457.8 1885.2C449.4 1888.2 436.4 1891.3 430.3 1898.9C424.2 1906.5 422.0 1920.6 421.2 1930.9C420.4 1941.1 420.4 1952.6 425.8 1960.6C431.1 1968.5 444.0 1973.5 453.2 1978.8C462.3 1984.2 472.2 1990.2 480.6 1992.5C489.0 1994.8 496.6 1996.0 503.4 1992.5C510.3 1989.1 516.8 1981.1 521.7 1972.0C526.7 1962.8 532.4 1948.4 533.1 1937.7C533.9 1927.0 531.2 1916.0 526.3 1908.0C521.3 1900.0 511.1 1894.3 503.4 1889.7C495.8 1885.2 488.2 1881.4 480.6 1880.6C473.0 1879.8 466.1 1882.1 457.8 1885.2Z" fill="none" stroke="#000" stroke-opacity="0.67" stroke-width="3.2" stroke-linecap="round" stroke-linejoin="round"/><path d="M450.9 1889.7C442.0 1895.1 440.8 1914.1 440.6 1926.3C440.4 1938.5 443.1 1955.6 449.8 1962.8C456.4 1970.1 471.6 1970.5 480.6 1969.7C489.5 1968.9 498.9 1965.5 503.4 1958.3C508.0 1951.0 509.5 1936.9 508.0 1926.3C506.5 1915.6 503.8 1900.4 494.3 1894.3C484.8 1888.2 459.8 1884.4 450.9 1889.7Z" fill="none" stroke="#000" stroke-opacity="0.52" stroke-width="2.3" stroke-linecap="round" stroke-linejoin="round"/><path d="M549.1 1830.3C548.7 1842.5 548.7 1876.0 546.8 1903.4C544.9 1930.9 541.1 1973.9 537.7 1994.8C534.3 2015.8 530.5 2017.9 526.3 2029.1C522.1 2040.3 514.9 2056.7 512.6 2062.2" fill="none" stroke="#000" stroke-opacity="0.72" stroke-width="3.7" stroke-linecap="round" stroke-linejoin="round"/><path d="M560.6 1828.1C563.6 1830.0 573.1 1830.7 578.8 1839.5C584.5 1848.2 591.8 1866.1 594.8 1880.6C597.9 1895.1 597.9 1911.1 597.1 1926.3C596.3 1941.5 594.4 1957.5 590.2 1972.0C586.1 1986.4 576.2 2003.2 572.0 2013.1C567.8 2023.0 565.1 2023.2 565.1 2031.4C565.1 2039.6 570.8 2057.1 572.0 2062.2" fill="none" stroke="#000" stroke-opacity="0.72" stroke-width="3.7" stroke-linecap="round" stroke-linejoin="round"/><path d="M567.4 1846.3C568.9 1852.0 574.3 1870.3 576.5 1880.6C578.8 1890.9 578.1 1901.9 581.1 1908.0C584.2 1914.1 592.5 1915.6 594.8 1917.1" fill="none" stroke="#000" stroke-opacity="0.62" stroke-width="2.6" stroke-linecap="round" stroke-linejoin="round"/><path d="M560.6 1864.6L565.1 1887.5" fill="none" stroke="#000" stroke-opacity="0.57" stroke-width="2.3" stroke-linecap="round" stroke-linejoin="round"/><path d="M583.4 1821.2C584.5 1824.2 586.8 1834.9 590.2 1839.5C593.7 1844.0 601.7 1847.1 604.0 1848.6" fill="none" stroke="#000" stroke-opacity="0.52" stroke-width="3.4" stroke-linecap="round" stroke-linejoin="round"/><ellipse cx="476.0" cy="2049.6" rx="14.8" ry="11.4" fill="none" stroke="#000" stroke-opacity="0.5" stroke-width="2.3"/><ellipse cx="635.9" cy="2032.5" rx="10.3" ry="10.3" fill="none" stroke="#000" stroke-opacity="0.45" stroke-width="2.1"/><ellipse cx="393.8" cy="1863.5" rx="6.2" ry="6.2" fill="none" stroke="#000" stroke-opacity="0.6" stroke-width="2.3"/><path d="M640.5 1821.2C642.8 1820.6 650.1 1817.8 654.2 1817.8C658.3 1817.8 663.3 1820.6 665.2 1821.2" fill="none" stroke="#000" stroke-opacity="0.62" stroke-width="4.0" stroke-linecap="round" stroke-linejoin="round"/><path d="M613.1 2013.1C616.1 2012.1 626.0 2007.8 631.4 2007.4C636.7 2007.0 642.8 2010.2 645.1 2010.8" fill="none" stroke="#000" stroke-opacity="0.57" stroke-width="3.4" stroke-linecap="round" stroke-linejoin="round"/><path d="M559 2005A5 5 34 1 0 551 1999A5 5 34 1 0 559 2005ZM546 1961A8 5 155 1 0 560 1955A8 5 155 1 0 546 1961ZM485 2053A8 5 54 1 0 476 2041A8 5 54 1 0 485 2053ZM576 2007A5 3 54 1 0 571 2000A5 3 54 1 0 576 2007ZM495 1830A8 8 56 1 0 486 1815A8 8 56 1 0 495 1830ZM312 1936A8 7 178 1 0 328 1936A8 7 178 1 0 312 1936ZM571 2036A4 3 27 1 0 563 2032A4 3 27 1 0 571 2036ZM344 1868A7 7 23 1 0 331 1862A7 7 23 1 0 344 1868ZM482 2067A8 6 43 1 0 471 2057A8 6 43 1 0 482 2067ZM531 1935A6 5 72 1 0 527 1924A6 5 72 1 0 531 1935ZM461 2004A5 3 103 1 0 463 1994A5 3 103 1 0 461 2004ZM454 2016A5 3 10 1 0 444 2014A5 3 10 1 0 454 2016ZM462 1803A6 5 6 1 0 449 1801A6 5 6 1 0 462 1803ZM595 1894A7 5 71 1 0 591 1881A7 5 71 1 0 595 1894ZM362 1800A5 3 163 1 0 373 1797A5 3 163 1 0 362 1800ZM588 1931A4 2 97 1 0 589 1923A4 2 97 1 0 588 1931ZM552 1848A7 7 48 1 0 543 1837A7 7 48 1 0 552 1848ZM431 1977A6 5 71 1 0 427 1967A6 5 71 1 0 431 1977ZM287 1861A4 4 152 1 0 294 1857A4 4 152 1 0 287 1861ZM490 2027A5 4 31 1 0 481 2022A5 4 31 1 0 490 2027ZM301 2000A4 4 100 1 0 302 1992A4 4 100 1 0 301 2000ZM327 1754A5 3 14 1 0 318 1751A5 3 14 1 0 327 1754ZM585 1878A8 4 117 1 0 592 1865A8 4 117 1 0 585 1878ZM444 2066A8 7 61 1 0 436 2052A8 7 61 1 0 444 2066ZM359 1745A5 5 50 1 0 353 1738A5 5 50 1 0 359 1745ZM406 1972A7 7 42 1 0 395 1962A7 7 42 1 0 406 1972ZM385 1712A5 5 101 1 0 387 1702A5 5 101 1 0 385 1712ZM472 1816A8 6 28 1 0 458 1809A8 6 28 1 0 472 1816ZM307 1754A8 7 40 1 0 295 1744A8 7 40 1 0 307 1754ZM378 1805A7 6 42 1 0 367 1795A7 6 42 1 0 378 1805ZM400 1775A9 7 169 1 0 417 1771A9 7 169 1 0 400 1775ZM378 1930A7 7 65 1 0 373 1917A7 7 65 1 0 378 1930ZM375 2001A9 6 59 1 0 366 1986A9 6 59 1 0 375 2001ZM317 1860A9 6 80 1 0 314 1843A9 6 80 1 0 317 1860ZM330 1887A9 8 54 1 0 319 1873A9 8 54 1 0 330 1887ZM588 2003A7 4 35 1 0 577 1995A7 4 35 1 0 588 2003ZM557 1946A5 3 20 1 0 547 1942A5 3 20 1 0 557 1946ZM596 2025A7 5 127 1 0 604 2014A7 5 127 1 0 596 2025ZM348 1883A6 6 29 1 0 338 1877A6 6 29 1 0 348 1883ZM521 2022A4 3 0 1 0 512 2022A4 3 0 1 0 521 2022ZM469 1870A9 6 163 1 0 486 1865A9 6 163 1 0 469 1870ZM559 2008A6 3 114 1 0 564 1998A6 3 114 1 0 559 2008ZM322 1924A5 4 137 1 0 330 1918A5 4 137 1 0 322 1924ZM350 1852A9 5 85 1 0 349 1834A9 5 85 1 0 350 1852ZM429 1713A7 4 84 1 0 428 1700A7 4 84 1 0 429 1713ZM565 1942A5 4 96 1 0 566 1931A5 4 96 1 0 565 1942ZM574 1690A5 4 100 1 0 576 1679A5 4 100 1 0 574 1690ZM470 1888A7 6 150 1 0 482 1881A7 6 150 1 0 470 1888ZM583 2034A7 4 66 1 0 578 2021A7 4 66 1 0 583 2034ZM338 1933A6 3 174 1 0 350 1932A6 3 174 1 0 338 1933ZM366 2040A7 7 139 1 0 377 2030A7 7 139 1 0 366 2040ZM360 1778A8 6 90 1 0 360 1761A8 6 90 1 0 360 1778ZM574 1918A8 6 49 1 0 564 1906A8 6 49 1 0 574 1918ZM555 1987A5 2 164 1 0 564 1984A5 2 164 1 0 555 1987ZM358 1890A5 3 46 1 0 351 1882A5 3 46 1 0 358 1890ZM318 2008A8 7 26 1 0 304 2001A8 7 26 1 0 318 2008ZM399 1721A8 8 170 1 0 415 1719A8 8 170 1 0 399 1721ZM298 1927A9 9 75 1 0 293 1910A9 9 75 1 0 298 1927ZM481 2023A5 5 107 1 0 484 2013A5 5 107 1 0 481 2023ZM452 1835A5 3 53 1 0 446 1827A5 3 53 1 0 452 1835ZM282 1972A5 4 165 1 0 291 1969A5 4 165 1 0 282 1972ZM288 1781A7 6 164 1 0 302 1777A7 6 164 1 0 288 1781ZM355 2022A7 5 21 1 0 342 2017A7 5 21 1 0 355 2022ZM416 1885A8 6 115 1 0 422 1871A8 6 115 1 0 416 1885ZM552 1822A6 6 120 1 0 557 1812A6 6 120 1 0 552 1822ZM489 2051A8 7 176 1 0 505 2049A8 7 176 1 0 489 2051ZM432 2041A7 5 72 1 0 428 2028A7 5 72 1 0 432 2041ZM293 2022A9 6 170 1 0 311 2019A9 6 170 1 0 293 2022ZM341 1863A9 7 28 1 0 325 1854A9 7 28 1 0 341 1863ZM522 1700A8 6 115 1 0 529 1686A8 6 115 1 0 522 1700ZM376 1964A9 7 43 1 0 364 1952A9 7 43 1 0 376 1964ZM461 2049A7 4 164 1 0 475 2045A7 4 164 1 0 461 2049ZM278 1938A6 3 163 1 0 289 1935A6 3 163 1 0 278 1938ZM395 2065A6 4 45 1 0 387 2057A6 4 45 1 0 395 2065ZM315 1737A4 3 77 1 0 313 1729A4 3 77 1 0 315 1737ZM550 2008A8 4 100 1 0 553 1991A8 4 100 1 0 550 2008ZM332 1798A6 4 151 1 0 343 1793A6 4 151 1 0 332 1798ZM348 1709A5 5 14 1 0 337 1706A5 5 14 1 0 348 1709ZM512 2028A5 4 130 1 0 519 2020A5 4 130 1 0 512 2028ZM529 1846A6 3 9 1 0 517 1844A6 3 9 1 0 529 1846ZM338 1865A5 4 171 1 0 348 1864A5 4 171 1 0 338 1865ZM421 1697A5 3 159 1 0 430 1694A5 3 159 1 0 421 1697ZM440 1725A8 4 46 1 0 429 1713A8 4 46 1 0 440 1725ZM561 1951A5 5 117 1 0 565 1942A5 5 117 1 0 561 1951ZM582 1697A7 3 141 1 0 593 1689A7 3 141 1 0 582 1697ZM429 1980A4 2 2 1 0 421 1980A4 2 2 1 0 429 1980ZM281 2010A6 4 149 1 0 290 2004A6 4 149 1 0 281 2010ZM431 2009A9 5 42 1 0 418 1997A9 5 42 1 0 431 2009ZM282 1787A7 7 143 1 0 293 1779A7 7 143 1 0 282 1787ZM396 2018A7 5 81 1 0 394 2004A7 5 81 1 0 396 2018ZM567 1834A7 5 71 1 0 563 1821A7 5 71 1 0 567 1834ZM424 1785A8 6 31 1 0 410 1777A8 6 31 1 0 424 1785ZM343 1839A7 5 116 1 0 350 1826A7 5 116 1 0 343 1839ZM302 1936A7 4 159 1 0 315 1931A7 4 159 1 0 302 1936ZM335 1734A7 5 117 1 0 342 1721A7 5 117 1 0 335 1734ZM324 1870A7 5 26 1 0 311 1864A7 5 26 1 0 324 1870ZM319 1803A5 5 12 1 0 308 1801A5 5 12 1 0 319 1803ZM567 2052A7 4 110 1 0 571 2039A7 4 110 1 0 567 2052ZM388 1820A7 7 28 1 0 376 1814A7 7 28 1 0 388 1820ZM298 1787A7 6 96 1 0 300 1773A7 6 96 1 0 298 1787ZM561 1870A5 5 60 1 0 557 1862A5 5 60 1 0 561 1870ZM289 1752A5 4 53 1 0 283 1743A5 4 53 1 0 289 1752ZM354 1950A7 6 48 1 0 345 1939A7 6 48 1 0 354 1950Z" fill="#000" fill-opacity="0.3" fill-rule="nonzero"/><path d="M358 1914A4 4 137 1 0 365 1908A4 4 137 1 0 358 1914ZM293 1944A7 5 171 1 0 305 1942A7 5 171 1 0 293 1944ZM652 1839A8 7 174 1 0 668 1838A8 7 174 1 0 652 1839ZM292 2044A5 3 107 1 0 296 2035A5 3 107 1 0 292 2044ZM609 2047A6 5 5 1 0 598 2046A6 5 5 1 0 609 2047ZM660 1795A7 3 7 1 0 647 1794A7 3 7 1 0 660 1795ZM280 1914A7 6 153 1 0 292 1908A7 6 153 1 0 280 1914ZM448 2009A5 5 45 1 0 441 2001A5 5 45 1 0 448 2009ZM648 1830A6 5 10 1 0 636 1828A6 5 10 1 0 648 1830ZM314 1897A8 4 73 1 0 309 1883A8 4 73 1 0 314 1897ZM423 1989A9 4 97 1 0 426 1971A9 4 97 1 0 423 1989ZM321 1989A9 7 104 1 0 325 1972A9 7 104 1 0 321 1989ZM303 1722A5 3 24 1 0 294 1717A5 3 24 1 0 303 1722ZM643 1821A9 7 139 1 0 656 1810A9 7 139 1 0 643 1821ZM634 1954A6 4 70 1 0 630 1943A6 4 70 1 0 634 1954ZM289 1700A7 5 175 1 0 302 1699A7 5 175 1 0 289 1700ZM515 1998A6 5 146 1 0 526 1991A6 5 146 1 0 515 1998ZM297 1696A6 4 77 1 0 295 1684A6 4 77 1 0 297 1696ZM312 1748A4 4 5 1 0 303 1747A4 4 5 1 0 312 1748ZM285 1943A6 3 169 1 0 297 1941A6 3 169 1 0 285 1943ZM473 2046A7 5 71 1 0 468 2032A7 5 71 1 0 473 2046ZM327 2053A6 4 26 1 0 316 2047A6 4 26 1 0 327 2053ZM507 2061A6 5 125 1 0 514 2052A6 5 125 1 0 507 2061ZM566 2039A4 2 43 1 0 560 2033A4 2 43 1 0 566 2039ZM309 1796A6 4 89 1 0 309 1784A6 4 89 1 0 309 1796ZM292 2035A8 4 38 1 0 280 2026A8 4 38 1 0 292 2035ZM563 1704A7 6 97 1 0 565 1690A7 6 97 1 0 563 1704ZM587 2049A9 4 87 1 0 586 2031A9 4 87 1 0 587 2049ZM332 1967A5 3 10 1 0 322 1965A5 3 10 1 0 332 1967ZM285 1785A5 4 147 1 0 293 1780A5 4 147 1 0 285 1785ZM562 1810A5 5 49 1 0 555 1802A5 5 49 1 0 562 1810ZM538 2053A7 5 8 1 0 524 2051A7 5 8 1 0 538 2053ZM382 2048A4 2 108 1 0 384 2040A4 2 108 1 0 382 2048ZM404 1914A5 3 45 1 0 397 1907A5 3 45 1 0 404 1914ZM553 1950A4 3 137 1 0 559 1944A4 3 137 1 0 553 1950ZM293 2056A4 2 10 1 0 284 2054A4 2 10 1 0 293 2056Z" fill="#000" fill-opacity="0.25" fill-rule="nonzero"/><path d="M349.2 1947.7A4.1 3.1 38 1 0 342.9 1942.5A4.1 3.1 38 1 0 349.2 1947.7ZM588.7 1992.5A3.8 2.9 42 1 0 583.2 1987.4A3.8 2.9 42 1 0 588.7 1992.5ZM281.1 1826.4A4.0 2.3 142 1 0 287.4 1821.6A4.0 2.3 142 1 0 281.1 1826.4ZM370.0 1773.3A2.6 2.6 132 1 0 373.5 1769.5A2.6 2.6 132 1 0 370.0 1773.3ZM292.3 1808.6A3.7 2.3 171 1 0 299.7 1807.4A3.7 2.3 171 1 0 292.3 1808.6ZM419.4 1742.8A4.5 2.8 167 1 0 428.2 1740.8A4.5 2.8 167 1 0 419.4 1742.8ZM411.4 1868.4A3.0 1.7 155 1 0 416.8 1866.0A3.0 1.7 155 1 0 411.4 1868.4ZM369.9 1980.5A3.0 3.0 160 1 0 375.6 1978.5A3.0 3.0 160 1 0 369.9 1980.5ZM575.1 1974.3A4.0 3.5 22 1 0 567.8 1971.4A4.0 3.5 22 1 0 575.1 1974.3ZM462.2 1998.3A3.0 2.9 159 1 0 467.9 1996.2A3.0 2.9 159 1 0 462.2 1998.3ZM435.9 1821.8A3.6 2.6 179 1 0 443.2 1821.7A3.6 2.6 179 1 0 435.9 1821.8ZM428.0 1693.3A2.7 2.4 178 1 0 433.5 1693.1A2.7 2.4 178 1 0 428.0 1693.3ZM475.5 1872.3A3.9 3.4 39 1 0 469.6 1867.3A3.9 3.4 39 1 0 475.5 1872.3ZM519.2 1896.5A4.1 2.6 30 1 0 512.2 1892.4A4.1 2.6 30 1 0 519.2 1896.5ZM418.0 2038.1A3.4 2.8 55 1 0 414.2 2032.5A3.4 2.8 55 1 0 418.0 2038.1ZM324.2 1712.1A4.5 4.1 67 1 0 320.7 1703.8A4.5 4.1 67 1 0 324.2 1712.1ZM545.5 1944.4A4.7 4.7 73 1 0 542.8 1935.3A4.7 4.7 73 1 0 545.5 1944.4ZM511.4 2021.2A3.7 2.7 44 1 0 506.0 2016.0A3.7 2.7 44 1 0 511.4 2021.2ZM305.6 1991.2A4.4 3.4 150 1 0 313.4 1986.8A4.4 3.4 150 1 0 305.6 1991.2ZM305.7 1782.7A3.2 2.4 30 1 0 300.2 1779.4A3.2 2.4 30 1 0 305.7 1782.7ZM306.2 1814.9A4.7 4.7 134 1 0 312.9 1808.1A4.7 4.7 134 1 0 306.2 1814.9ZM559.0 1695.6A3.0 2.8 143 1 0 563.9 1691.9A3.0 2.8 143 1 0 559.0 1695.6ZM580.8 1687.2A4.2 4.1 4 1 0 572.4 1686.6A4.2 4.1 4 1 0 580.8 1687.2ZM385.8 1839.1A4.9 4.7 24 1 0 376.8 1835.1A4.9 4.7 24 1 0 385.8 1839.1ZM321.6 1719.8A2.6 1.9 25 1 0 316.9 1717.6A2.6 1.9 25 1 0 321.6 1719.8ZM333.9 1889.8A3.3 2.6 39 1 0 328.8 1885.6A3.3 2.6 39 1 0 333.9 1889.8ZM345.9 1756.3A3.4 3.0 99 1 0 347.0 1749.5A3.4 3.0 99 1 0 345.9 1756.3ZM296.9 1956.0A4.7 4.2 142 1 0 304.4 1950.3A4.7 4.2 142 1 0 296.9 1956.0ZM288.3 1860.7A2.7 2.4 31 1 0 283.7 1857.9A2.7 2.4 31 1 0 288.3 1860.7ZM550.8 1804.3A2.6 1.9 55 1 0 547.8 1800.0A2.6 1.9 55 1 0 550.8 1804.3ZM515.2 1879.7A4.3 4.3 55 1 0 510.3 1872.5A4.3 4.3 55 1 0 515.2 1879.7ZM547.1 1884.9A3.9 2.3 146 1 0 553.6 1880.7A3.9 2.3 146 1 0 547.1 1884.9ZM407.3 2061.1A2.8 1.6 13 1 0 401.9 2059.8A2.8 1.6 13 1 0 407.3 2061.1ZM597.8 1972.0A3.6 3.0 3 1 0 590.6 1971.5A3.6 3.0 3 1 0 597.8 1972.0ZM530.5 1854.8A3.8 2.8 72 1 0 528.2 1847.6A3.8 2.8 72 1 0 530.5 1854.8ZM367.0 1704.4A3.6 2.4 126 1 0 371.3 1698.7A3.6 2.4 126 1 0 367.0 1704.4ZM596.7 1961.4A3.6 2.4 69 1 0 594.1 1954.6A3.6 2.4 69 1 0 596.7 1961.4ZM463.0 1872.7A4.3 4.1 140 1 0 469.6 1867.2A4.3 4.1 140 1 0 463.0 1872.7ZM520.1 1974.6A4.2 3.9 125 1 0 525.0 1967.9A4.2 3.9 125 1 0 520.1 1974.6ZM522.9 1996.5A4.9 4.9 1 1 0 513.0 1996.3A4.9 4.9 1 1 0 522.9 1996.5ZM401.9 1804.9A3.5 2.1 99 1 0 403.1 1798.0A3.5 2.1 99 1 0 401.9 1804.9ZM314.0 1802.8A4.9 4.3 83 1 0 312.8 1793.2A4.9 4.3 83 1 0 314.0 1802.8ZM326.5 2050.0A4.3 2.7 60 1 0 322.3 2042.6A4.3 2.7 60 1 0 326.5 2050.0ZM529.9 1944.7A3.2 3.1 57 1 0 526.5 1939.3A3.2 3.1 57 1 0 529.9 1944.7ZM382.5 2005.9A2.9 2.5 35 1 0 377.8 2002.5A2.9 2.5 35 1 0 382.5 2005.9ZM426.5 2043.9A3.7 2.7 111 1 0 429.2 2037.1A3.7 2.7 111 1 0 426.5 2043.9ZM393.1 1751.2A3.5 2.3 33 1 0 387.4 1747.3A3.5 2.3 33 1 0 393.1 1751.2ZM592.7 2042.5A4.3 2.4 90 1 0 592.8 2033.9A4.3 2.4 90 1 0 592.7 2042.5ZM302.3 1914.1A4.3 2.8 1 1 0 293.8 1913.9A4.3 2.8 1 1 0 302.3 1914.1ZM405.4 1857.5A4.7 3.4 24 1 0 396.8 1853.6A4.7 3.4 24 1 0 405.4 1857.5ZM588.8 1997.6A3.8 2.2 33 1 0 582.4 1993.4A3.8 2.2 33 1 0 588.8 1997.6ZM434.3 1894.2A3.1 2.8 151 1 0 439.7 1891.3A3.1 2.8 151 1 0 434.3 1894.2ZM287.8 1906.1A2.7 2.6 134 1 0 291.6 1902.3A2.7 2.6 134 1 0 287.8 1906.1ZM306.2 1996.8A4.0 3.3 84 1 0 305.4 1988.8A4.0 3.3 84 1 0 306.2 1996.8ZM590.7 1814.0A3.2 2.3 53 1 0 586.9 1808.9A3.2 2.3 53 1 0 590.7 1814.0ZM522.6 2023.9A2.7 1.6 92 1 0 522.8 2018.6A2.7 1.6 92 1 0 522.6 2023.9ZM384.7 1707.5A2.6 2.0 122 1 0 387.5 1703.1A2.6 2.0 122 1 0 384.7 1707.5ZM320.6 2039.9A3.8 2.8 124 1 0 325.0 2033.6A3.8 2.8 124 1 0 320.6 2039.9ZM563.3 1884.0A2.7 2.5 38 1 0 559.1 1880.7A2.7 2.5 38 1 0 563.3 1884.0ZM301.7 1818.9A3.8 3.2 31 1 0 295.2 1814.9A3.8 3.2 31 1 0 301.7 1818.9ZM551.8 1872.3A2.9 2.7 145 1 0 556.6 1869.0A2.9 2.7 145 1 0 551.8 1872.3ZM361.5 1979.9A4.8 3.8 163 1 0 370.6 1977.2A4.8 3.8 163 1 0 361.5 1979.9ZM585.3 1690.5A3.4 2.8 109 1 0 587.5 1684.1A3.4 2.8 109 1 0 585.3 1690.5ZM571.5 1931.7A2.9 2.8 96 1 0 572.1 1925.9A2.9 2.8 96 1 0 571.5 1931.7ZM584.0 1965.4A4.7 3.4 14 1 0 574.9 1963.0A4.7 3.4 14 1 0 584.0 1965.4ZM492.7 1993.0A3.4 2.1 4 1 0 485.9 1992.4A3.4 2.1 4 1 0 492.7 1993.0ZM290.1 1936.5A3.0 1.8 166 1 0 296.0 1935.2A3.0 1.8 166 1 0 290.1 1936.5ZM485.7 2025.7A3.8 2.3 43 1 0 480.1 2020.5A3.8 2.3 43 1 0 485.7 2025.7ZM578.5 1972.6A4.1 2.7 77 1 0 576.7 1964.5A4.1 2.7 77 1 0 578.5 1972.6ZM427.9 1872.2A3.2 2.5 82 1 0 427.1 1865.9A3.2 2.5 82 1 0 427.9 1872.2ZM293.9 1998.6A4.0 3.6 132 1 0 299.3 1992.8A4.0 3.6 132 1 0 293.9 1998.6ZM565.8 2060.6A3.4 2.5 0 1 0 558.9 2060.5A3.4 2.5 0 1 0 565.8 2060.6ZM540.1 1906.2A3.9 3.9 35 1 0 533.7 1901.7A3.9 3.9 35 1 0 540.1 1906.2Z" fill="#000" fill-opacity="0.15" stroke="#000" stroke-opacity="0.5" stroke-width="1.8"/><path d="M421.5 2037.5A6.0 3.9 156 1 0 432.6 2032.8A6.0 3.9 156 1 0 421.5 2037.5ZM529.9 1704.3A6.4 4.2 55 1 0 522.6 1693.9A6.4 4.2 55 1 0 529.9 1704.3ZM325.8 1947.5A6.0 4.7 143 1 0 335.3 1940.3A6.0 4.7 143 1 0 325.8 1947.5ZM522.3 2000.5A4.0 2.9 84 1 0 521.5 1992.4A4.0 2.9 84 1 0 522.3 2000.5ZM321.4 2058.0A5.4 3.2 104 1 0 324.1 2047.6A5.4 3.2 104 1 0 321.4 2058.0ZM344.3 1861.8A3.7 3.0 92 1 0 344.7 1854.4A3.7 3.0 92 1 0 344.3 1861.8ZM328.5 2017.5A3.6 2.3 147 1 0 334.6 2013.6A3.6 2.3 147 1 0 328.5 2017.5ZM367.5 1849.4A5.2 3.9 88 1 0 367.3 1839.0A5.2 3.9 88 1 0 367.5 1849.4ZM478.2 1869.3A3.7 3.4 50 1 0 473.6 1863.6A3.7 3.4 50 1 0 478.2 1869.3ZM302.0 1844.0A5.9 5.0 82 1 0 300.5 1832.3A5.9 5.0 82 1 0 302.0 1844.0ZM522.8 1817.2A3.7 2.2 16 1 0 515.7 1815.1A3.7 2.2 16 1 0 522.8 1817.2ZM549.8 2020.8A5.8 3.7 26 1 0 539.5 2015.7A5.8 3.7 26 1 0 549.8 2020.8ZM347.7 1905.4A5.4 4.2 81 1 0 346.1 1894.9A5.4 4.2 81 1 0 347.7 1905.4ZM399.9 1875.8A4.9 4.2 80 1 0 398.3 1866.2A4.9 4.2 80 1 0 399.9 1875.8ZM419.6 2061.4A3.8 3.4 75 1 0 417.7 2054.0A3.8 3.4 75 1 0 419.6 2061.4ZM594.7 1955.5A5.2 4.3 41 1 0 586.9 1948.7A5.2 4.3 41 1 0 594.7 1955.5ZM285.6 1969.1A4.3 2.6 146 1 0 292.7 1964.3A4.3 2.6 146 1 0 285.6 1969.1ZM504.3 1697.4A5.1 3.2 155 1 0 513.5 1693.2A5.1 3.2 155 1 0 504.3 1697.4ZM388.1 2045.3A5.3 3.1 73 1 0 385.1 2035.0A5.3 3.1 73 1 0 388.1 2045.3ZM340.9 1826.9A4.3 2.6 106 1 0 343.5 1818.7A4.3 2.6 106 1 0 340.9 1826.9ZM499.9 2011.7A6.2 3.9 13 1 0 487.9 2008.8A6.2 3.9 13 1 0 499.9 2011.7ZM344.0 1990.1A4.3 3.7 124 1 0 348.9 1983.0A4.3 3.7 124 1 0 344.0 1990.1ZM397.6 1861.6A4.4 4.0 51 1 0 392.1 1854.8A4.4 4.0 51 1 0 397.6 1861.6ZM387.4 2013.2A4.3 3.2 92 1 0 387.9 2004.5A4.3 3.2 92 1 0 387.4 2013.2ZM286.5 1797.0A5.7 5.7 61 1 0 281.0 1786.9A5.7 5.7 61 1 0 286.5 1797.0ZM472.3 1823.9A5.0 3.4 56 1 0 466.8 1815.5A5.0 3.4 56 1 0 472.3 1823.9ZM424.0 1711.1A3.7 2.2 23 1 0 417.3 1708.2A3.7 2.2 23 1 0 424.0 1711.1ZM503.7 1884.3A3.9 3.7 120 1 0 507.7 1877.6A3.9 3.7 120 1 0 503.7 1884.3ZM549.7 2023.6A4.4 4.2 175 1 0 558.6 2023.0A4.4 4.2 175 1 0 549.7 2023.6ZM320.2 2016.6A5.9 3.4 127 1 0 327.4 2007.1A5.9 3.4 127 1 0 320.2 2016.6ZM576.8 1968.6A3.7 3.6 13 1 0 569.7 1966.9A3.7 3.6 13 1 0 576.8 1968.6ZM317.0 2047.6A4.9 3.1 71 1 0 313.8 2038.3A4.9 3.1 71 1 0 317.0 2047.6ZM432.9 1825.5A3.8 3.8 55 1 0 428.5 1819.2A3.8 3.8 55 1 0 432.9 1825.5ZM352.7 1986.2A3.9 2.5 86 1 0 352.1 1978.5A3.9 2.5 86 1 0 352.7 1986.2ZM446.8 2064.0A3.7 3.5 83 1 0 446.0 2056.6A3.7 3.5 83 1 0 446.8 2064.0ZM337.3 1779.6A6.2 3.9 76 1 0 334.3 1767.5A6.2 3.9 76 1 0 337.3 1779.6ZM300.6 1872.9A5.6 4.9 61 1 0 295.2 1863.0A5.6 4.9 61 1 0 300.6 1872.9ZM451.8 1997.7A6.1 4.6 9 1 0 439.8 1995.6A6.1 4.6 9 1 0 451.8 1997.7ZM287.3 1729.2A5.1 3.4 142 1 0 295.5 1723.0A5.1 3.4 142 1 0 287.3 1729.2ZM335.2 1932.6A3.6 2.5 169 1 0 342.2 1931.3A3.6 2.5 169 1 0 335.2 1932.6Z" fill="#000" fill-opacity="0.15" stroke="#000" stroke-opacity="0.55" stroke-width="2.0"/><path d="M649 1736Q652 1735 659 1732Q666 1727 668 1725M650 1804Q649 1801 644 1796Q641 1795 633 1794M402 1755Q407 1757 410 1754Q415 1755 418 1754M382 2047Q378 2046 373 2050Q369 2047 364 2048M302 1885Q307 1886 312 1887Q319 1889 321 1892M426 1904Q424 1909 423 1912Q419 1919 419 1919M419 1847Q414 1845 409 1845Q406 1846 400 1850M492 1816Q489 1819 492 1822Q492 1823 489 1828M440 1998Q444 1998 447 1999Q454 2001 454 2001M529 1817Q533 1810 533 1809Q535 1803 537 1800M349 1946Q350 1948 347 1952Q346 1953 349 1957M614 1752Q612 1753 614 1756Q615 1760 611 1760M298 1827Q298 1824 298 1822Q300 1820 300 1819M378 1771Q375 1775 376 1775Q372 1777 374 1778M514 1699Q509 1699 510 1697Q511 1694 509 1693M414 2011Q415 2007 415 2007Q418 2006 417 2004M421 2005Q417 2008 416 2007Q415 2010 411 2009M655 1755Q649 1757 645 1757Q639 1757 637 1763M428 1773Q424 1777 419 1778Q414 1781 409 1782M291 2043Q290 2036 293 2034Q291 2032 289 2025M631 1840Q629 1840 622 1835Q622 1834 616 1828M532 1805Q536 1806 535 1810Q537 1808 541 1810M453 1809Q454 1814 457 1815Q461 1820 463 1819M650 1825Q653 1825 660 1828Q664 1825 670 1826M302 2061Q304 2059 304 2056Q302 2054 302 2052M633 1904Q632 1910 628 1912Q625 1914 622 1918M287 1714Q286 1718 288 1721Q288 1722 287 1728M635 1905Q636 1907 631 1910Q630 1910 629 1915M438 2032Q435 2034 428 2032Q424 2036 420 2038M375 1893Q376 1898 371 1902Q371 1905 371 1912M514 1800Q517 1796 517 1796Q515 1794 516 1791M383 1686Q383 1690 377 1694Q375 1698 378 1704M315 1873Q317 1877 316 1881Q316 1886 319 1887M302 1730Q309 1733 311 1735Q315 1737 320 1737M371 1988Q370 1988 369 1991Q369 1992 364 1992M629 1945Q630 1943 626 1941Q622 1940 623 1937M610 1831Q605 1832 604 1837Q598 1841 597 1841M404 1999Q400 2000 401 2004Q401 2006 397 2007M400 1935Q398 1932 395 1931Q391 1928 389 1930M626 1790Q629 1787 627 1781Q629 1776 628 1771M293 1740Q286 1742 284 1746Q281 1750 282 1755M623 1866Q618 1867 616 1872Q612 1878 612 1880M419 1952Q418 1956 420 1956Q419 1956 423 1959M380 2048Q381 2046 382 2043Q380 2042 380 2037M284 1956Q281 1952 280 1947Q275 1944 271 1943M406 1700Q405 1702 408 1704Q407 1704 410 1708M511 1940Q507 1935 509 1933Q509 1927 511 1926M444 2000Q448 2001 448 2003Q452 2001 452 2003M396 1910Q396 1905 399 1901Q396 1898 395 1891M657 1786Q660 1790 660 1795Q660 1800 658 1804M471 2063Q469 2059 472 2057Q473 2055 475 2052M418 1867Q417 1864 412 1861Q410 1860 408 1853M511 1909Q507 1912 504 1910Q504 1910 497 1908M501 1822Q506 1826 508 1827Q513 1825 516 1825M432 2013Q429 2015 430 2020Q432 2021 433 2027M317 1716Q319 1708 321 1706Q323 1700 329 1699M478 2011Q481 2017 478 2021Q477 2026 471 2028M358 1879Q354 1879 349 1881Q346 1886 343 1887M495 1818Q494 1820 497 1824Q498 1827 502 1828M522 1921Q523 1917 526 1913Q529 1908 532 1908M583 1852Q585 1852 584 1857Q585 1859 585 1861M372 1718Q373 1723 376 1723Q376 1725 376 1729M498 2002Q496 2002 493 2004Q488 2005 489 2006M583 1872Q582 1872 578 1865Q575 1862 576 1856M529 1978Q530 1973 535 1969Q536 1962 532 1959M397 1853Q399 1852 396 1845Q393 1840 390 1840M550 1834Q551 1833 557 1831Q562 1826 563 1827M317 1944Q319 1948 315 1951Q314 1955 309 1955M480 2023Q485 2020 487 2023Q493 2021 494 2025M427 1928Q423 1933 421 1933Q419 1937 417 1939M391 1840Q385 1837 383 1834Q383 1830 378 1825M524 1928Q529 1921 528 1919Q531 1914 535 1911M321 2029Q322 2029 327 2024Q329 2024 335 2023M664 1783Q660 1787 660 1789Q661 1792 660 1795M605 1967Q609 1965 610 1965Q608 1964 611 1960" fill="none" stroke="#000" stroke-linecap="round" stroke-width="2.0" stroke-opacity="0.5"/></g>
<g filter="url(#eb0)"><rect x="253.0" y="1653.0" width="442.2" height="440.0" fill="none"/><ellipse cx="472.6" cy="1937.3" rx="2.7" ry="2.1" fill="#000" fill-opacity="0.7"/><ellipse cx="504.1" cy="1934.3" rx="2.1" ry="2.3" fill="#000" fill-opacity="0.7"/><path d="M636 2043h0M624 1715h0M509 1844h0M356 1852h0M367 1856h0M292 1716h0M554 1843h0M420 1705h0M582 1907h0M534 1919h0M654 1821h0M573 1823h0M403 1716h0M509 1853h0M351 1806h0M595 1757h0M327 1720h0M298 1788h0M502 1995h0M409 1823h0M393 1799h0M580 1892h0M382 1724h0M583 1952h0M600 1773h0M491 2032h0M510 2042h0M347 2054h0M304 1841h0M292 1991h0M546 2053h0M591 2044h0M489 2059h0M569 1815h0M655 1826h0M357 1712h0M640 2044h0M366 1722h0M491 1992h0M380 1843h0M627 1852h0M414 2022h0M594 2023h0M546 1840h0M548 1998h0M396 1839h0M578 1895h0M493 1997h0M324 1923h0M410 1896h0M602 1777h0M647 1713h0M373 1896h0M463 1854h0M558 1684h0M427 1982h0M337 2013h0M361 1942h0M349 1854h0M550 1865h0M546 1888h0M495 1883h0M397 2025h0M316 2016h0M613 1872h0M580 1939h0M405 1816h0M398 2048h0M413 1830h0M443 1993h0M381 1789h0M317 1766h0M384 2007h0M499 1851h0M611 1782h0M608 1777h0M659 1924h0M299 1990h0M388 1821h0M339 2001h0M318 1964h0M434 1941h0M395 1713h0M633 1932h0M348 2054h0M631 1752h0M290 1915h0M336 1961h0M597 1912h0M509 1807h0M334 1718h0M611 1761h0M446 1803h0M520 1886h0M611 1849h0M421 1930h0M568 2035h0M402 2020h0M658 2056h0M332 1827h0M579 1999h0M298 1833h0M560 1971h0M404 1845h0M598 1907h0M403 1938h0M597 1902h0M653 1887h0M521 1846h0M515 2032h0M658 1934h0M604 1832h0M429 1705h0M296 1831h0M656 1964h0M554 1937h0M387 1747h0M508 1879h0M309 1863h0M339 1927h0M401 1919h0M570 1913h0M416 2055h0M386 1791h0M651 1691h0M585 1899h0M627 1741h0M546 2043h0M635 2051h0M325 1997h0M313 1714h0M587 1957h0M649 1923h0M502 2060h0M530 2016h0M358 1962h0M596 1750h0M366 1706h0M656 1683h0M592 1971h0M588 1925h0M336 1986h0M418 1905h0M479 2027h0M441 2007h0M314 1807h0M539 1916h0M601 1762h0M590 1985h0M338 1736h0M506 2054h0M518 1846h0M477 1991h0M510 2037h0M589 2002h0M385 1911h0M598 1956h0M647 2031h0M332 1876h0M420 1761h0M474 2057h0M378 1823h0M621 1858h0M344 1892h0M377 1698h0M510 2060h0M580 1963h0M341 1896h0M526 1971h0M638 1784h0M565 1859h0M581 1811h0M318 1846h0M437 1936h0M427 1961h0M350 2017h0M644 1692h0M611 1979h0M563 1976h0M522 2049h0M645 1924h0M637 1738h0M397 1884h0M483 2045h0M526 1919h0M520 2042h0M436 1964h0M512 1836h0M413 1741h0M287 1811h0M398 1714h0M469 1816h0M637 1980h0M537 2005h0M388 1727h0M659 1844h0M622 1776h0M319 1921h0M637 2053h0M546 2056h0M659 1739h0M562 1966h0M563 1812h0M608 1703h0M426 1803h0M307 1727h0M327 1848h0M614 1818h0M322 1938h0M410 1900h0M569 1856h0M563 1918h0M609 1973h0M627 1967h0M391 1875h0M578 1981h0M562 2003h0M598 1889h0M528 1700h0M632 2005h0M621 1933h0M356 1697h0M619 1902h0M325 2059h0M517 1848h0M362 1830h0M284 1837h0M651 2012h0M352 1999h0M369 1774h0M360 1716h0M351 1756h0M632 1699h0M558 1684h0M425 1963h0M293 1839h0M408 1867h0M614 1786h0M319 1757h0M315 1777h0M336 1716h0M609 1884h0M473 1876h0M300 1936h0M286 1875h0M522 2006h0M283 1836h0M403 1903h0M296 1970h0M649 1891h0M538 2000h0M605 1994h0M587 2004h0M551 1803h0M656 1920h0M402 1982h0M369 1774h0M629 1704h0M615 1834h0M628 1767h0M319 1878h0M369 1844h0M325 1717h0M385 1831h0M319 1989h0M628 1695h0M568 2037h0M382 1746h0M413 2010h0M628 1964h0M649 2053h0M344 1959h0M292 1756h0M366 1819h0M459 2032h0M590 1973h0M594 1854h0M646 2024h0M413 1970h0M610 2048h0M543 1808h0M617 1689h0M500 1857h0M620 1919h0M360 1746h0M297 1969h0M582 1825h0M368 1895h0M358 1883h0M414 1804h0M410 1897h0M643 1740h0M400 1787h0M403 1868h0M597 1752h0M558 1847h0M502 1874h0M518 1836h0M583 1909h0M439 2058h0M351 1688h0M330 1945h0M318 1962h0M317 1796h0M521 1691h0M448 2063h0M561 1831h0M630 1899h0M593 1814h0M429 1949h0M574 1946h0M340 1843h0M405 1771h0M327 1967h0M337 1817h0M290 1951h0M646 2061h0M570 1989h0M552 1691h0M387 1773h0M291 1926h0M509 1821h0M390 1727h0M373 2006h0M615 1936h0M421 2051h0M314 1840h0M621 1942h0M418 1997h0M573 1958h0M385 1941h0M534 2002h0M479 2036h0M519 1807h0M664 1813h0M585 2001h0M426 1907h0M372 1826h0M531 1879h0M484 1852h0M614 1932h0M536 1874h0M437 1845h0M542 1849h0M310 1767h0M303 1702h0M420 1827h0M372 1853h0M394 1782h0M306 1688h0M454 2023h0M525 1822h0M655 1941h0M598 2003h0M298 1757h0M585 1832h0M627 1710h0M641 1919h0M440 1998h0M488 1858h0M353 1981h0M339 1797h0M317 1689h0M397 1700h0M462 1815h0M290 1859h0M392 1771h0M490 1809h0M304 2037h0M654 1773h0M535 1905h0M378 1888h0M384 1788h0M456 1700h0M371 2057h0M577 1809h0M664 1808h0M608 1806h0M625 1855h0M616 1735h0M434 1814h0M582 2012h0M335 1839h0M349 1708h0M333 1711h0M398 1847h0M629 1931h0M574 1809h0M406 1840h0M372 1691h0M388 2036h0M303 1875h0M372 1973h0M298 1877h0M560 1859h0M338 2021h0M290 2035h0M596 2019h0M614 1823h0M522 1862h0M507 1827h0M610 1800h0M305 2019h0M419 1825h0M660 1958h0M342 1889h0M387 1788h0M644 1910h0M582 1866h0M341 1803h0M662 2004h0M628 1873h0M526 1834h0M564 1887h0M420 2054h0M474 1698h0M390 1855h0M364 1854h0M451 1884h0M532 1943h0M302 1773h0M328 1809h0" fill="none" stroke="#000" stroke-width="2.6" stroke-opacity="0.4" stroke-linecap="round"/></g>
</g>

</g>
<g clip-path="url(#cem3)">
<g filter="url(#fem3)">
<rect x="679.00" y="1682.00" width="384.20" height="382.00" fill="#cbcbcb"/>
<g filter="url(#eb9)"><rect x="650.0" y="1653.0" width="442.2" height="440.0" fill="none"/><path d="M680.0 1994.8C690.1 1985.3 719.0 1994.8 740.5 2006.2C762.0 2017.7 819.2 2053.8 809.1 2063.3C799.0 2072.9 701.5 2074.8 680.0 2063.3C658.5 2051.9 669.9 2004.3 680.0 1994.8Z" fill="#000" fill-opacity="0.2"/></g>
<g filter="url(#eb4)"><rect x="650.0" y="1653.0" width="442.2" height="440.0" fill="none"/><path d="M717.7 1812.1C731.4 1806.7 759.9 1799.1 774.8 1802.9C789.6 1806.7 802.2 1822.0 806.8 1834.9C811.3 1847.9 807.5 1867.7 802.2 1880.6C796.9 1893.5 787.0 1906.5 774.8 1912.6C762.6 1918.7 742.1 1922.5 729.1 1917.1C716.2 1911.8 703.2 1894.3 697.1 1880.6C691.0 1866.9 689.1 1846.3 692.6 1834.9C696.0 1823.5 704.0 1817.4 717.7 1812.1Z" fill="#fff" fill-opacity="0.25"/><path d="M667.4 1968.5C677.7 1970.5 711.2 1974.3 729.1 1980.0C747.0 1985.7 759.6 1993.7 774.8 2002.8C790.0 2012.0 805.3 2023.4 820.5 2034.8C835.7 2046.2 858.6 2065.3 866.2 2071.3" fill="none" stroke="#000" stroke-opacity="0.48" stroke-width="28.6" stroke-linecap="round" stroke-linejoin="round"/><path d="M882.2 1720.7C887.1 1724.1 901.2 1732.5 911.9 1741.2C922.5 1750.0 934.7 1762.9 946.1 1773.2C957.6 1783.5 970.1 1793.0 980.4 1802.9C990.7 1812.8 1003.2 1827.7 1007.8 1832.6" fill="none" stroke="#000" stroke-opacity="0.3" stroke-width="32.0" stroke-linecap="round" stroke-linejoin="round"/><ellipse cx="891.3" cy="1720.7" rx="25.1" ry="13.7" fill="#000" fill-opacity="0.28" transform="rotate(30 891.3 1720.7)"/><path d="M877.6 1816.6C885.2 1822.7 908.8 1842.5 923.3 1853.2C937.8 1863.8 957.6 1876.0 964.4 1880.6" fill="none" stroke="#000" stroke-opacity="0.26" stroke-width="27.4" stroke-linecap="round" stroke-linejoin="round"/><ellipse cx="827.3" cy="1743.5" rx="18.3" ry="13.7" fill="#000" fill-opacity="0.3"/><ellipse cx="882.2" cy="1880.6" rx="22.8" ry="18.3" fill="#000" fill-opacity="0.33"/><path d="M923.3 1914.9C927.1 1908.4 960.2 1906.5 969.0 1910.3C977.7 1914.1 979.6 1931.2 975.8 1937.7C972.0 1944.2 954.9 1952.9 946.1 1949.1C937.4 1945.3 919.5 1921.3 923.3 1914.9Z" fill="#000" fill-opacity="0.28"/><ellipse cx="934.7" cy="1990.2" rx="25.1" ry="10.3" fill="#000" fill-opacity="0.33" transform="rotate(-10 934.7 1990.2)"/><ellipse cx="1042.1" cy="1864.6" rx="13.7" ry="13.7" fill="#000" fill-opacity="0.45"/><ellipse cx="1053.5" cy="1839.5" rx="9.1" ry="11.4" fill="#000" fill-opacity="0.35"/><ellipse cx="1051.2" cy="1816.6" rx="11.4" ry="13.7" fill="#fff" fill-opacity="0.6"/><ellipse cx="836.5" cy="1903.4" rx="16.0" ry="13.7" fill="#fff" fill-opacity="0.45"/><ellipse cx="934.7" cy="1894.3" rx="13.7" ry="11.4" fill="#fff" fill-opacity="0.3"/></g>
<g filter="url(#eb2)"><rect x="650.0" y="1653.0" width="442.2" height="440.0" fill="none"/><path d="M708.6 1910.3C714.6 1912.0 733.7 1921.3 745.1 1920.6C756.5 1919.8 771.8 1908.2 777.1 1905.7" fill="none" stroke="#000" stroke-opacity="0.25" stroke-width="6.9" stroke-linecap="round" stroke-linejoin="round"/><path d="M740.5 1791.5C748.1 1787.7 792.3 1781.6 809.1 1782.4C825.8 1783.1 836.9 1790.0 841.0 1796.1C845.2 1802.2 841.0 1816.3 834.2 1818.9C827.3 1821.6 811.7 1814.3 799.9 1812.1C788.1 1809.8 773.3 1808.6 763.4 1805.2C753.5 1801.8 732.9 1795.3 740.5 1791.5Z" fill="#000" fill-opacity="0.38"/><path d="M680.0 1969.7C688.2 1971.2 713.3 1973.5 729.1 1978.8C744.9 1984.2 759.9 1992.5 774.8 2001.7C789.6 2010.8 804.9 2023.4 818.2 2033.7C831.5 2043.9 848.7 2058.4 854.8 2063.3" fill="none" stroke="#000" stroke-opacity="0.35" stroke-width="9.1" stroke-linecap="round" stroke-linejoin="round"/><path d="M724.5 1759.5C731.0 1756.9 752.3 1750.0 763.4 1743.5C774.4 1737.1 785.5 1726.8 790.8 1720.7C796.1 1714.6 794.6 1709.3 795.4 1707.0" fill="none" stroke="#000" stroke-opacity="0.3" stroke-width="8.7" stroke-linecap="round" stroke-linejoin="round"/><path d="M845.6 1919.4C846.8 1913.7 863.9 1915.6 866.2 1921.7C868.5 1927.8 862.7 1956.4 859.3 1956.0C855.9 1955.6 844.5 1925.1 845.6 1919.4Z" fill="#000" fill-opacity="0.33"/><ellipse cx="857.0" cy="1711.6" rx="8.0" ry="8.0" fill="#000" fill-opacity="0.3"/><ellipse cx="1010.1" cy="1700.1" rx="10.3" ry="6.9" fill="#000" fill-opacity="0.3"/><path d="M890 1796A5 4 37 1 0 882 1790A5 4 37 1 0 890 1796ZM780 1844A10 10 83 1 0 777 1824A10 10 83 1 0 780 1844ZM1066 2064A7 3 28 1 0 1054 2057A7 3 28 1 0 1066 2064ZM996 1922A12 12 117 1 0 1008 1900A12 12 117 1 0 996 1922ZM882 1713A5 5 120 1 0 887 1704A5 5 120 1 0 882 1713ZM962 1901A10 8 161 1 0 981 1895A10 8 161 1 0 962 1901ZM716 1874A7 7 157 1 0 730 1868A7 7 157 1 0 716 1874ZM771 1718A7 4 138 1 0 782 1709A7 4 138 1 0 771 1718ZM843 1972A7 5 33 1 0 830 1964A7 5 33 1 0 843 1972ZM926 1890A12 12 93 1 0 927 1866A12 12 93 1 0 926 1890ZM707 2052A13 9 87 1 0 706 2027A13 9 87 1 0 707 2052ZM1033 1785A7 6 121 1 0 1040 1773A7 6 121 1 0 1033 1785ZM949 2004A9 6 40 1 0 935 1992A9 6 40 1 0 949 2004ZM758 1831A8 7 111 1 0 765 1816A8 7 111 1 0 758 1831ZM867 1833A10 7 143 1 0 883 1822A10 7 143 1 0 867 1833ZM921 1953A8 6 129 1 0 931 1941A8 6 129 1 0 921 1953ZM1053 1887A8 6 21 1 0 1039 1881A8 6 21 1 0 1053 1887ZM811 1704A9 6 70 1 0 805 1687A9 6 70 1 0 811 1704ZM986 1925A5 4 1 1 0 976 1924A5 4 1 1 0 986 1925ZM985 1878A12 7 148 1 0 1005 1865A12 7 148 1 0 985 1878ZM725 2015A8 4 164 1 0 741 2010A8 4 164 1 0 725 2015ZM1008 1761A10 7 25 1 0 991 1752A10 7 25 1 0 1008 1761ZM837 2058A8 7 136 1 0 848 2047A8 7 136 1 0 837 2058ZM975 1928A12 8 86 1 0 973 1903A12 8 86 1 0 975 1928ZM849 1730A9 8 103 1 0 853 1713A9 8 103 1 0 849 1730ZM755 1780A9 5 36 1 0 741 1770A9 5 36 1 0 755 1780ZM962 1729A6 3 93 1 0 963 1718A6 3 93 1 0 962 1729ZM681 1950A10 8 139 1 0 695 1938A10 8 139 1 0 681 1950ZM963 1883A7 6 26 1 0 950 1876A7 6 26 1 0 963 1883ZM769 1959A10 5 79 1 0 766 1939A10 5 79 1 0 769 1959ZM918 1773A10 5 29 1 0 900 1763A10 5 29 1 0 918 1773ZM845 1801A11 7 52 1 0 832 1784A11 7 52 1 0 845 1801ZM1000 2008A11 6 48 1 0 986 1992A11 6 48 1 0 1000 2008ZM709 1968A9 4 168 1 0 726 1964A9 4 168 1 0 709 1968ZM698 1705A12 9 153 1 0 720 1695A12 9 153 1 0 698 1705ZM914 1735A9 8 3 1 0 896 1734A9 8 3 1 0 914 1735ZM970 1822A9 6 141 1 0 984 1811A9 6 141 1 0 970 1822ZM870 1858A6 5 31 1 0 860 1852A6 5 31 1 0 870 1858ZM915 1689A6 5 51 1 0 907 1680A6 5 51 1 0 915 1689ZM910 1953A8 6 70 1 0 905 1938A8 6 70 1 0 910 1953ZM693 2012A9 9 115 1 0 701 1996A9 9 115 1 0 693 2012ZM927 1733A10 7 49 1 0 915 1718A10 7 49 1 0 927 1733ZM724 1757A6 5 76 1 0 722 1746A6 5 76 1 0 724 1757ZM740 1901A12 12 14 1 0 717 1895A12 12 14 1 0 740 1901ZM918 1925A9 6 84 1 0 916 1908A9 6 84 1 0 918 1925ZM805 1835A6 5 153 1 0 817 1829A6 5 153 1 0 805 1835ZM1057 1825A7 4 3 1 0 1043 1825A7 4 3 1 0 1057 1825ZM930 1745A9 8 126 1 0 941 1731A9 8 126 1 0 930 1745ZM917 1984A10 9 109 1 0 924 1965A10 9 109 1 0 917 1984ZM765 1722A13 6 95 1 0 768 1697A13 6 95 1 0 765 1722ZM1026 2003A11 5 5 1 0 1004 2001A11 5 5 1 0 1026 2003ZM874 1725A7 4 143 1 0 885 1717A7 4 143 1 0 874 1725ZM1001 1993A12 11 32 1 0 981 1980A12 11 32 1 0 1001 1993ZM1070 1822A11 9 41 1 0 1053 1808A11 9 41 1 0 1070 1822ZM1024 1926A11 7 131 1 0 1038 1911A11 7 131 1 0 1024 1926ZM753 1820A11 10 102 1 0 758 1799A11 10 102 1 0 753 1820ZM904 1717A9 5 53 1 0 893 1703A9 5 53 1 0 904 1717ZM839 1875A8 6 21 1 0 825 1870A8 6 21 1 0 839 1875ZM692 1961A9 9 110 1 0 698 1944A9 9 110 1 0 692 1961ZM901 1907A6 5 75 1 0 898 1895A6 5 75 1 0 901 1907ZM734 1753A5 3 70 1 0 731 1744A5 3 70 1 0 734 1753ZM889 2009A5 3 6 1 0 878 2008A5 3 6 1 0 889 2009ZM865 1859A5 3 45 1 0 858 1851A5 3 45 1 0 865 1859ZM747 1848A6 3 47 1 0 740 1840A6 3 47 1 0 747 1848ZM799 1860A8 6 54 1 0 790 1847A8 6 54 1 0 799 1860ZM850 1735A13 12 20 1 0 826 1727A13 12 20 1 0 850 1735ZM972 1934A12 11 143 1 0 991 1920A12 11 143 1 0 972 1934ZM976 1862A8 6 116 1 0 983 1848A8 6 116 1 0 976 1862ZM829 2058A9 6 139 1 0 842 2046A9 6 139 1 0 829 2058ZM877 1846A8 7 40 1 0 865 1835A8 7 40 1 0 877 1846ZM973 1808A6 3 70 1 0 969 1797A6 3 70 1 0 973 1808ZM937 2009A5 5 99 1 0 939 1999A5 5 99 1 0 937 2009ZM710 1854A6 6 72 1 0 706 1842A6 6 72 1 0 710 1854ZM727 1712A8 4 89 1 0 727 1696A8 4 89 1 0 727 1712ZM883 1944A8 6 84 1 0 882 1927A8 6 84 1 0 883 1944ZM857 1720A6 3 132 1 0 866 1711A6 3 132 1 0 857 1720ZM954 1717A7 7 131 1 0 963 1707A7 7 131 1 0 954 1717ZM690 1860A12 10 59 1 0 677 1839A12 10 59 1 0 690 1860ZM1009 1937A13 11 14 1 0 985 1930A13 11 14 1 0 1009 1937ZM864 1970A12 10 141 1 0 882 1955A12 10 141 1 0 864 1970ZM759 1852A7 7 178 1 0 773 1851A7 7 178 1 0 759 1852ZM833 1819A7 4 10 1 0 819 1817A7 4 10 1 0 833 1819ZM706 2045A11 6 173 1 0 727 2043A11 6 173 1 0 706 2045ZM708 2028A6 3 4 1 0 697 2027A6 3 4 1 0 708 2028ZM860 1939A12 9 5 1 0 837 1937A12 9 5 1 0 860 1939ZM852 2038A10 5 175 1 0 873 2036A10 5 175 1 0 852 2038ZM676 2055A10 6 124 1 0 688 2038A10 6 124 1 0 676 2055ZM952 2002A13 10 161 1 0 976 1994A13 10 161 1 0 952 2002ZM750 1745A10 9 143 1 0 766 1733A10 9 143 1 0 750 1745ZM811 2041A10 5 157 1 0 829 2033A10 5 157 1 0 811 2041ZM903 1866A11 6 72 1 0 897 1845A11 6 72 1 0 903 1866ZM792 2050A13 9 127 1 0 807 2030A13 9 127 1 0 792 2050ZM815 1798A10 6 165 1 0 834 1793A10 6 165 1 0 815 1798ZM965 2000A12 11 0 1 0 942 1999A12 11 0 1 0 965 2000ZM819 1810A6 5 113 1 0 823 1799A6 5 113 1 0 819 1810ZM989 1792A12 9 155 1 0 1011 1782A12 9 155 1 0 989 1792ZM1048 1998A11 6 113 1 0 1057 1977A11 6 113 1 0 1048 1998ZM926 2065A10 8 146 1 0 943 2053A10 8 146 1 0 926 2065ZM814 2054A6 3 81 1 0 813 2043A6 3 81 1 0 814 2054ZM931 1771A13 6 172 1 0 956 1767A13 6 172 1 0 931 1771ZM929 1863A10 8 4 1 0 909 1861A10 8 4 1 0 929 1863ZM878 2014A9 5 28 1 0 861 2005A9 5 28 1 0 878 2014ZM885 1895A7 6 75 1 0 881 1881A7 6 75 1 0 885 1895ZM699 1824A9 5 35 1 0 685 1814A9 5 35 1 0 699 1824ZM771 1732A12 11 155 1 0 794 1722A12 11 155 1 0 771 1732ZM860 1994A12 10 15 1 0 837 1987A12 10 15 1 0 860 1994ZM902 1735A6 3 36 1 0 892 1727A6 3 36 1 0 902 1735ZM1006 1770A13 6 107 1 0 1014 1746A13 6 107 1 0 1006 1770ZM767 2066A6 5 54 1 0 761 2056A6 5 54 1 0 767 2066ZM829 2003A10 9 89 1 0 828 1983A10 9 89 1 0 829 2003ZM863 1979A11 5 24 1 0 843 1969A11 5 24 1 0 863 1979ZM816 1785A6 3 33 1 0 806 1778A6 3 33 1 0 816 1785ZM706 1979A13 7 147 1 0 727 1966A13 7 147 1 0 706 1979ZM1013 1949A6 6 139 1 0 1023 1942A6 6 139 1 0 1013 1949ZM835 1699A9 8 74 1 0 830 1682A9 8 74 1 0 835 1699ZM971 1951A6 5 166 1 0 982 1948A6 5 166 1 0 971 1951ZM789 1976A9 7 164 1 0 805 1971A9 7 164 1 0 789 1976ZM722 2066A11 5 92 1 0 723 2045A11 5 92 1 0 722 2066ZM1014 1909A11 9 30 1 0 994 1897A11 9 30 1 0 1014 1909ZM1018 1969A11 6 61 1 0 1007 1950A11 6 61 1 0 1018 1969Z" fill="#000" fill-opacity="0.2" fill-rule="nonzero"/></g>
<g filter="url(#eb1)"><rect x="650.0" y="1653.0" width="442.2" height="440.0" fill="none"/><path d="M736.0 1789.2C731.0 1793.0 714.1 1801.4 706.3 1812.1C698.5 1822.7 691.4 1839.9 689.1 1853.2C686.8 1866.5 688.6 1881.7 692.6 1892.0C696.6 1902.3 704.4 1909.5 713.1 1914.9C721.9 1920.2 734.8 1924.8 745.1 1924.0C755.4 1923.2 766.4 1916.4 774.8 1910.3C783.2 1904.2 789.6 1897.0 795.4 1887.5C801.1 1877.9 804.9 1863.8 809.1 1853.2C813.3 1842.5 818.6 1828.4 820.5 1823.5" fill="none" stroke="#000" stroke-opacity="0.72" stroke-width="3.4" stroke-linecap="round" stroke-linejoin="round"/><path d="M831.9 1816.6C828.9 1825.4 818.4 1856.6 813.6 1869.2C808.9 1881.7 804.1 1883.3 803.4 1892.0C802.6 1900.8 806.2 1910.7 809.1 1921.7C811.9 1932.8 818.6 1952.2 820.5 1958.3" fill="none" stroke="#000" stroke-opacity="0.52" stroke-width="6.9" stroke-linecap="round" stroke-linejoin="round"/><path d="M717.7 1814.3C722.6 1814.9 738.2 1815.9 747.4 1817.8C756.5 1819.7 768.3 1824.4 772.5 1825.8" fill="none" stroke="#000" stroke-opacity="0.62" stroke-width="2.6" stroke-linecap="round" stroke-linejoin="round"/><path d="M781.7 1876.0C783.9 1874.5 793.8 1865.4 795.4 1866.9C796.9 1868.4 791.6 1882.1 790.8 1885.2" fill="none" stroke="#000" stroke-opacity="0.57" stroke-width="2.3" stroke-linecap="round" stroke-linejoin="round"/><path d="M873.0 1743.5C877.6 1750.0 888.3 1770.2 900.4 1782.4C912.6 1794.6 930.9 1804.1 946.1 1816.6C961.4 1829.2 978.1 1848.2 991.8 1857.8C1005.5 1867.3 1022.3 1871.1 1028.4 1873.7" fill="none" stroke="#000" stroke-opacity="0.62" stroke-width="3.7" stroke-linecap="round" stroke-linejoin="round"/><path d="M877.6 1709.3C883.3 1711.2 902.3 1713.8 911.9 1720.7C921.4 1727.5 923.3 1741.6 934.7 1750.4C946.1 1759.1 967.8 1762.9 980.4 1773.2C993.0 1783.5 1002.1 1801.0 1010.1 1812.1C1018.1 1823.1 1025.3 1834.9 1028.4 1839.5" fill="none" stroke="#000" stroke-opacity="0.52" stroke-width="3.7" stroke-linecap="round" stroke-linejoin="round"/><path d="M959.8 1793.8L975.8 1802.9" fill="none" stroke="#000" stroke-opacity="0.52" stroke-width="2.0" stroke-linecap="round" stroke-linejoin="round"/><path d="M962.6 1798.8L979.3 1807.0" fill="none" stroke="#000" stroke-opacity="0.52" stroke-width="2.0" stroke-linecap="round" stroke-linejoin="round"/><path d="M965.3 1803.8L982.7 1811.2" fill="none" stroke="#000" stroke-opacity="0.52" stroke-width="2.0" stroke-linecap="round" stroke-linejoin="round"/><path d="M968.1 1808.9L986.1 1815.3" fill="none" stroke="#000" stroke-opacity="0.52" stroke-width="2.0" stroke-linecap="round" stroke-linejoin="round"/><path d="M970.8 1813.9L989.5 1819.4" fill="none" stroke="#000" stroke-opacity="0.52" stroke-width="2.0" stroke-linecap="round" stroke-linejoin="round"/><path d="M973.5 1818.9L993.0 1823.5" fill="none" stroke="#000" stroke-opacity="0.52" stroke-width="2.0" stroke-linecap="round" stroke-linejoin="round"/><path d="M809.1 1736.7L799.9 1739.0" fill="none" stroke="#000" stroke-opacity="0.42" stroke-width="8.6" stroke-linecap="round" stroke-linejoin="round"/><path d="M861.6 1898.9C864.3 1897.3 871.1 1890.5 877.6 1889.7C884.1 1889.0 896.6 1893.5 900.4 1894.3" fill="none" stroke="#000" stroke-opacity="0.62" stroke-width="2.9" stroke-linecap="round" stroke-linejoin="round"/><ellipse cx="1010.1" cy="1988.0" rx="24.0" ry="25.1" fill="none" stroke="#000" stroke-opacity="0.5" stroke-width="3.0"/><path d="M971.3 1960.6C974.7 1958.6 983.8 1951.0 991.8 1949.1C999.8 1947.2 1011.6 1947.6 1019.2 1949.1C1026.8 1950.7 1034.5 1956.7 1037.5 1958.3" fill="none" stroke="#000" stroke-opacity="0.62" stroke-width="3.4" stroke-linecap="round" stroke-linejoin="round"/><path d="M996.4 2049.6C999.4 2050.4 1009.3 2055.4 1014.7 2054.2C1020.0 2053.1 1026.1 2044.7 1028.4 2042.8" fill="none" stroke="#000" stroke-opacity="0.57" stroke-width="3.4" stroke-linecap="round" stroke-linejoin="round"/><path d="M868.5 2026.8C871.1 2029.8 879.9 2039.0 884.5 2045.1C889.0 2051.2 894.0 2060.3 895.9 2063.3" fill="none" stroke="#000" stroke-opacity="0.52" stroke-width="3.4" stroke-linecap="round" stroke-linejoin="round"/><path d="M874 1909A8 8 158 1 0 890 1903A8 8 158 1 0 874 1909ZM825 2045A6 4 17 1 0 814 2042A6 4 17 1 0 825 2045ZM871 1745A5 4 139 1 0 880 1738A5 4 139 1 0 871 1745ZM967 1720A4 3 99 1 0 968 1712A4 3 99 1 0 967 1720ZM997 1995A9 7 114 1 0 1004 1979A9 7 114 1 0 997 1995ZM790 1807A5 4 109 1 0 793 1798A5 4 109 1 0 790 1807ZM894 1835A6 4 146 1 0 904 1829A6 4 146 1 0 894 1835ZM910 1970A8 5 21 1 0 895 1965A8 5 21 1 0 910 1970ZM782 2033A8 5 139 1 0 794 2023A8 5 139 1 0 782 2033ZM806 2012A4 4 176 1 0 815 2012A4 4 176 1 0 806 2012ZM844 1862A5 3 42 1 0 837 1855A5 3 42 1 0 844 1862ZM793 1715A5 3 94 1 0 794 1704A5 3 94 1 0 793 1715ZM834 1778A9 5 95 1 0 836 1761A9 5 95 1 0 834 1778ZM1014 1975A9 7 156 1 0 1030 1968A9 7 156 1 0 1014 1975ZM701 1966A6 4 138 1 0 709 1958A6 4 138 1 0 701 1966ZM958 1814A6 4 168 1 0 969 1812A6 4 168 1 0 958 1814ZM919 1787A7 3 48 1 0 911 1777A7 3 48 1 0 919 1787ZM866 2058A8 6 137 1 0 878 2047A8 6 137 1 0 866 2058ZM767 1949A9 5 167 1 0 785 1945A9 5 167 1 0 767 1949ZM1064 1826A8 8 26 1 0 1049 1819A8 8 26 1 0 1064 1826ZM852 1914A8 5 135 1 0 863 1903A8 5 135 1 0 852 1914ZM947 2016A8 7 108 1 0 952 2002A8 7 108 1 0 947 2016ZM888 1864A6 4 88 1 0 887 1852A6 4 88 1 0 888 1864ZM833 1743A6 6 55 1 0 826 1733A6 6 55 1 0 833 1743ZM1050 2002A6 4 158 1 0 1061 1997A6 4 158 1 0 1050 2002ZM1042 1808A7 6 111 1 0 1048 1794A7 6 111 1 0 1042 1808ZM722 1779A8 6 120 1 0 730 1766A8 6 120 1 0 722 1779ZM780 2021A8 6 153 1 0 794 2014A8 6 153 1 0 780 2021ZM789 1887A7 6 168 1 0 802 1884A7 6 168 1 0 789 1887ZM805 1981A5 5 160 1 0 816 1978A5 5 160 1 0 805 1981ZM940 1702A6 3 90 1 0 941 1691A6 3 90 1 0 940 1702ZM693 1711A4 4 108 1 0 695 1703A4 4 108 1 0 693 1711ZM1013 2048A7 6 78 1 0 1010 2035A7 6 78 1 0 1013 2048ZM913 1753A6 3 83 1 0 912 1740A6 3 83 1 0 913 1753ZM1040 2060A8 4 178 1 0 1056 2060A8 4 178 1 0 1040 2060ZM886 1945A6 5 56 1 0 880 1935A6 5 56 1 0 886 1945ZM726 1860A5 3 35 1 0 718 1855A5 3 35 1 0 726 1860ZM953 1942A5 4 5 1 0 943 1941A5 4 5 1 0 953 1942ZM1035 1775A7 4 153 1 0 1047 1769A7 4 153 1 0 1035 1775ZM854 1753A8 6 47 1 0 842 1741A8 6 47 1 0 854 1753ZM956 2030A8 7 63 1 0 949 2016A8 7 63 1 0 956 2030ZM773 1712A8 5 66 1 0 766 1696A8 5 66 1 0 773 1712ZM994 1730A9 7 30 1 0 980 1721A9 7 30 1 0 994 1730ZM987 1941A4 3 127 1 0 992 1934A4 3 127 1 0 987 1941ZM790 1816A8 4 45 1 0 778 1805A8 4 45 1 0 790 1816ZM733 1870A6 4 16 1 0 721 1867A6 4 16 1 0 733 1870ZM734 1972A7 6 20 1 0 721 1968A7 6 20 1 0 734 1972ZM1051 1946A7 6 13 1 0 1037 1943A7 6 13 1 0 1051 1946ZM917 1799A4 4 5 1 0 908 1798A4 4 5 1 0 917 1799ZM961 1796A8 4 86 1 0 960 1780A8 4 86 1 0 961 1796ZM1052 1893A7 5 106 1 0 1056 1879A7 5 106 1 0 1052 1893ZM835 1788A5 5 58 1 0 829 1779A5 5 58 1 0 835 1788ZM939 2042A9 8 161 1 0 955 2037A9 8 161 1 0 939 2042ZM930 1892A5 2 53 1 0 925 1884A5 2 53 1 0 930 1892ZM867 1873A4 3 63 1 0 863 1866A4 3 63 1 0 867 1873ZM825 1722A8 7 134 1 0 836 1711A8 7 134 1 0 825 1722ZM715 1692A9 7 170 1 0 732 1689A9 7 170 1 0 715 1692ZM833 1990A5 2 123 1 0 838 1982A5 2 123 1 0 833 1990ZM941 1823A7 5 41 1 0 932 1814A7 5 41 1 0 941 1823ZM686 1862A5 5 33 1 0 677 1857A5 5 33 1 0 686 1862ZM887 1771A6 3 40 1 0 878 1763A6 3 40 1 0 887 1771ZM957 1967A7 7 172 1 0 971 1965A7 7 172 1 0 957 1967ZM886 2022A7 6 44 1 0 875 2011A7 6 44 1 0 886 2022ZM1039 1951A5 2 65 1 0 1035 1942A5 2 65 1 0 1039 1951ZM934 1813A6 5 44 1 0 926 1804A6 5 44 1 0 934 1813ZM701 1847A6 5 18 1 0 690 1843A6 5 18 1 0 701 1847ZM1012 2062A8 6 37 1 0 999 2052A8 6 37 1 0 1012 2062ZM691 1945A9 5 148 1 0 705 1935A9 5 148 1 0 691 1945ZM1051 2000A7 6 58 1 0 1044 1989A7 6 58 1 0 1051 2000ZM861 1768A8 5 150 1 0 875 1760A8 5 150 1 0 861 1768ZM961 1772A4 4 62 1 0 957 1764A4 4 62 1 0 961 1772ZM914 2019A5 3 103 1 0 916 2009A5 3 103 1 0 914 2019ZM945 1897A4 3 112 1 0 949 1889A4 3 112 1 0 945 1897ZM1027 1792A6 4 129 1 0 1034 1783A6 4 129 1 0 1027 1792ZM797 1980A7 5 18 1 0 784 1976A7 5 18 1 0 797 1980ZM1007 1864A6 4 167 1 0 1019 1861A6 4 167 1 0 1007 1864ZM1028 1982A9 6 177 1 0 1046 1981A9 6 177 1 0 1028 1982ZM974 1977A8 5 5 1 0 958 1975A8 5 5 1 0 974 1977ZM730 2047A7 3 118 1 0 737 2036A7 3 118 1 0 730 2047ZM986 1777A6 4 92 1 0 987 1764A6 4 92 1 0 986 1777ZM786 1809A7 6 179 1 0 800 1809A7 6 179 1 0 786 1809ZM781 2060A6 4 76 1 0 778 2049A6 4 76 1 0 781 2060ZM791 1872A8 8 174 1 0 807 1871A8 8 174 1 0 791 1872ZM834 1808A5 4 60 1 0 829 1800A5 4 60 1 0 834 1808ZM705 1803A8 7 110 1 0 710 1788A8 7 110 1 0 705 1803ZM803 2008A6 4 47 1 0 794 1998A6 4 47 1 0 803 2008ZM831 1845A6 4 81 1 0 829 1834A6 4 81 1 0 831 1845ZM811 1760A5 4 178 1 0 822 1759A5 4 178 1 0 811 1760ZM686 2057A6 3 78 1 0 683 2045A6 3 78 1 0 686 2057ZM778 1685A8 7 176 1 0 794 1684A8 7 176 1 0 778 1685ZM816 2056A9 7 101 1 0 819 2039A9 7 101 1 0 816 2056ZM774 1957A7 6 39 1 0 764 1948A7 6 39 1 0 774 1957ZM684 1753A5 4 72 1 0 681 1743A5 4 72 1 0 684 1753ZM899 2039A5 4 132 1 0 906 2031A5 4 132 1 0 899 2039ZM697 2012A7 5 166 1 0 711 2009A7 5 166 1 0 697 2012ZM938 1951A9 6 19 1 0 922 1945A9 6 19 1 0 938 1951ZM930 1948A5 2 141 1 0 937 1942A5 2 141 1 0 930 1948ZM685 1745A8 7 133 1 0 695 1734A8 7 133 1 0 685 1745ZM914 2000A6 3 149 1 0 924 1994A6 3 149 1 0 914 2000ZM808 1931A6 5 39 1 0 798 1923A6 5 39 1 0 808 1931ZM768 1846A8 4 87 1 0 768 1829A8 4 87 1 0 768 1846ZM760 1784A8 5 34 1 0 746 1775A8 5 34 1 0 760 1784ZM850 1971A7 6 116 1 0 856 1958A7 6 116 1 0 850 1971ZM1030 1963A5 4 106 1 0 1033 1954A5 4 106 1 0 1030 1963ZM959 1826A6 6 89 1 0 959 1814A6 6 89 1 0 959 1826ZM1021 1986A5 4 70 1 0 1018 1977A5 4 70 1 0 1021 1986ZM1037 1778A4 4 65 1 0 1034 1770A4 4 65 1 0 1037 1778ZM827 1924A8 4 169 1 0 842 1921A8 4 169 1 0 827 1924ZM857 2007A4 4 30 1 0 849 2002A4 4 30 1 0 857 2007ZM957 1694A8 6 57 1 0 948 1680A8 6 57 1 0 957 1694Z" fill="#000" fill-opacity="0.27" fill-rule="nonzero"/><path d="M895.9 1927.3A4.5 3.1 117 1 0 900.1 1919.2A4.5 3.1 117 1 0 895.9 1927.3ZM1019.4 2031.1A3.0 2.5 111 1 0 1021.5 2025.6A3.0 2.5 111 1 0 1019.4 2031.1ZM868.6 2050.8A3.8 2.9 169 1 0 876.2 2049.5A3.8 2.9 169 1 0 868.6 2050.8ZM926.2 1798.0A3.3 2.5 9 1 0 919.7 1797.0A3.3 2.5 9 1 0 926.2 1798.0ZM908.7 1963.4A3.6 3.3 167 1 0 915.7 1961.8A3.6 3.3 167 1 0 908.7 1963.4ZM889.6 1942.1A2.8 1.6 176 1 0 895.1 1941.7A2.8 1.6 176 1 0 889.6 1942.1ZM793.1 1765.9A4.7 4.2 22 1 0 784.3 1762.3A4.7 4.2 22 1 0 793.1 1765.9ZM802.7 1778.4A3.2 1.8 94 1 0 803.2 1772.0A3.2 1.8 94 1 0 802.7 1778.4ZM799.3 1833.1A3.0 1.8 5 1 0 793.4 1832.5A3.0 1.8 5 1 0 799.3 1833.1ZM1017.0 1968.8A3.9 2.4 26 1 0 1010.1 1965.2A3.9 2.4 26 1 0 1017.0 1968.8ZM727.9 1804.9A2.6 1.8 36 1 0 723.6 1801.7A2.6 1.8 36 1 0 727.9 1804.9ZM755.3 1934.7A3.6 2.8 64 1 0 752.1 1928.1A3.6 2.8 64 1 0 755.3 1934.7ZM886.2 1984.6A3.3 1.9 86 1 0 885.8 1978.1A3.3 1.9 86 1 0 886.2 1984.6ZM827.7 1979.7A2.8 2.6 2 1 0 822.1 1979.5A2.8 2.6 2 1 0 827.7 1979.7ZM885.3 1854.2A3.3 3.1 126 1 0 889.2 1848.9A3.3 3.1 126 1 0 885.3 1854.2ZM746.3 1872.2A4.0 2.3 15 1 0 738.5 1870.0A4.0 2.3 15 1 0 746.3 1872.2ZM909.9 1963.9A3.7 2.7 91 1 0 910.1 1956.6A3.7 2.7 91 1 0 909.9 1963.9ZM784.5 2016.4A4.9 3.8 3 1 0 774.7 2015.8A4.9 3.8 3 1 0 784.5 2016.4ZM834.5 1990.0A3.3 2.0 33 1 0 829.0 1986.3A3.3 2.0 33 1 0 834.5 1990.0ZM949.7 1921.6A3.2 2.7 136 1 0 954.4 1917.2A3.2 2.7 136 1 0 949.7 1921.6ZM1045.8 1999.7A3.6 3.3 166 1 0 1052.7 1998.1A3.6 3.3 166 1 0 1045.8 1999.7ZM1008.6 1970.0A4.0 3.1 153 1 0 1015.6 1966.4A4.0 3.1 153 1 0 1008.6 1970.0ZM920.9 1959.4A3.1 1.8 48 1 0 916.9 1954.8A3.1 1.8 48 1 0 920.9 1959.4ZM900.0 1901.2A3.0 1.9 171 1 0 905.9 1900.3A3.0 1.9 171 1 0 900.0 1901.2ZM702.9 2035.1A4.4 3.6 179 1 0 711.8 2035.0A4.4 3.6 179 1 0 702.9 2035.1ZM935.1 1686.8A4.8 3.6 164 1 0 944.5 1684.3A4.8 3.6 164 1 0 935.1 1686.8ZM989.0 1737.1A2.6 1.5 140 1 0 993.1 1733.8A2.6 1.5 140 1 0 989.0 1737.1ZM980.2 1771.3A2.8 2.0 143 1 0 984.7 1768.0A2.8 2.0 143 1 0 980.2 1771.3ZM958.8 2014.9A4.9 4.4 150 1 0 967.4 2010.1A4.9 4.4 150 1 0 958.8 2014.9ZM688.7 1689.4A4.7 3.9 58 1 0 683.8 1681.5A4.7 3.9 58 1 0 688.7 1689.4ZM729.5 1812.6A3.3 2.6 80 1 0 728.5 1806.0A3.3 2.6 80 1 0 729.5 1812.6ZM760.1 1715.1A3.0 1.8 18 1 0 754.4 1713.2A3.0 1.8 18 1 0 760.1 1715.1ZM839.0 1736.9A4.5 3.6 82 1 0 837.9 1728.0A4.5 3.6 82 1 0 839.0 1736.9ZM925.5 1774.5A2.6 1.5 60 1 0 923.0 1770.0A2.6 1.5 60 1 0 925.5 1774.5ZM821.3 1779.1A3.3 3.0 1 1 0 814.8 1778.9A3.3 3.0 1 1 0 821.3 1779.1ZM854.1 1830.6A3.2 2.8 40 1 0 849.2 1826.5A3.2 2.8 40 1 0 854.1 1830.6ZM700.8 1745.4A4.9 3.5 21 1 0 691.5 1741.8A4.9 3.5 21 1 0 700.8 1745.4ZM1047.0 1930.9A4.9 3.4 145 1 0 1055.1 1925.4A4.9 3.4 145 1 0 1047.0 1930.9ZM692.3 1776.0A4.5 3.5 142 1 0 699.4 1770.5A4.5 3.5 142 1 0 692.3 1776.0ZM829.7 2017.5A2.7 2.2 33 1 0 825.2 2014.5A2.7 2.2 33 1 0 829.7 2017.5Z" fill="#000" fill-opacity="0.15" stroke="#000" stroke-opacity="0.45" stroke-width="1.7"/><path d="M710 1764Q709 1767 706 1774Q707 1779 703 1784M1041 2018Q1037 2016 1037 2019Q1037 2021 1033 2019M1044 1760Q1043 1760 1045 1764Q1045 1763 1050 1767M815 1745Q818 1752 817 1755Q818 1762 818 1766M904 1770Q906 1772 903 1776Q904 1780 905 1781M850 1950Q849 1950 853 1953Q853 1952 857 1956M683 2045Q683 2042 678 2035Q678 2030 676 2024M766 1826Q767 1824 769 1821Q772 1818 773 1818M775 1683Q783 1687 785 1687Q793 1690 795 1687M854 1715Q851 1718 853 1720Q849 1723 849 1722M903 1866Q904 1869 910 1866Q910 1867 916 1863M956 1939Q953 1939 952 1934Q951 1930 954 1928M852 2027Q857 2022 861 2023Q865 2018 865 2014M1051 2012Q1055 2009 1052 2007Q1049 2008 1050 2003M1053 1777Q1050 1784 1049 1785Q1046 1786 1044 1792M875 1969Q878 1970 875 1973Q876 1976 876 1978M729 1787Q731 1787 734 1790Q734 1796 736 1795M990 1785Q993 1786 995 1792Q999 1795 999 1798M778 2033Q771 2038 771 2042Q773 2047 771 2053M713 2045Q712 2044 716 2037Q717 2033 717 2029M861 1690Q865 1689 865 1684Q871 1682 872 1681M720 1815Q719 1812 715 1807Q715 1799 713 1798M889 1788Q890 1792 893 1795Q895 1801 895 1803M946 1713Q944 1709 941 1710Q941 1705 936 1705M1005 1952Q1002 1960 1003 1961Q1000 1963 1000 1970M851 1891Q853 1891 856 1892Q855 1896 859 1896M960 1785Q959 1787 961 1794Q963 1798 962 1803M837 1722Q835 1723 838 1727Q837 1728 840 1733M962 1772Q961 1771 957 1770Q952 1769 953 1771M836 1721Q836 1728 834 1728Q831 1733 829 1734M1041 2044Q1047 2045 1049 2048Q1054 2049 1059 2047M783 1820Q787 1817 787 1820Q788 1822 791 1818M763 1700Q767 1695 769 1696Q767 1692 771 1690M714 1745Q713 1746 714 1751Q719 1755 719 1754M1042 1953Q1040 1955 1039 1958Q1034 1960 1033 1959M959 1933Q957 1934 955 1933Q955 1929 952 1929M737 1977Q741 1976 745 1970Q743 1966 746 1960M955 1687Q950 1683 946 1684Q942 1681 938 1679M908 1905Q906 1907 900 1905Q899 1907 895 1911M841 1766Q838 1768 839 1772Q838 1776 838 1779M706 1895Q712 1892 714 1891Q717 1885 719 1883M784 1975Q783 1977 780 1977Q779 1975 775 1976M948 2018Q948 2011 950 2008Q955 2004 958 2000M755 1839Q757 1840 756 1835Q758 1833 760 1834M825 1868Q822 1869 819 1867Q819 1869 815 1870M872 1894Q870 1889 873 1887Q869 1885 868 1881M817 2029Q816 2034 809 2036Q806 2036 799 2035M739 2003Q743 2006 746 2005Q749 2006 750 2011M847 1889Q847 1892 851 1897Q852 1900 852 1906M840 1945Q840 1941 841 1940Q838 1936 838 1936M694 1845Q693 1844 686 1842Q683 1842 678 1842M906 2036Q911 2034 912 2027Q919 2025 922 2021M1050 1885Q1051 1889 1048 1893Q1048 1898 1047 1901M914 1802Q909 1803 910 1802Q907 1806 907 1805M950 1767Q953 1768 961 1768Q966 1770 969 1774M877 1822Q880 1821 883 1815Q881 1811 884 1806M924 1844Q918 1841 917 1839Q912 1842 909 1839M918 2000Q919 2005 917 2005Q913 2009 913 2009M1021 1800Q1017 1804 1011 1806Q1009 1808 1002 1810M742 1820Q743 1825 741 1828Q739 1828 736 1833" fill="none" stroke="#000" stroke-linecap="round" stroke-width="2.0" stroke-opacity="0.5"/><path d="M890 1968h0M966 2012h0M789 2050h0M897 1967h0M969 2036h0M785 1822h0M954 1905h0M967 1821h0M1045 1687h0M956 1825h0M690 1940h0M700 1772h0M804 1743h0M743 1711h0M1003 1715h0M741 1712h0M1028 1890h0M994 2053h0M869 1833h0M829 1784h0M907 2050h0M872 1971h0M1020 1998h0M936 1891h0M717 1826h0M1006 1851h0M940 1782h0M903 1766h0M980 1992h0M687 1936h0M716 2044h0M747 1732h0M1021 1917h0M684 1860h0M997 1746h0M968 1794h0M849 1833h0M700 1831h0M880 1918h0M886 1747h0M911 1793h0M1024 1720h0M977 1715h0M895 1816h0M856 1944h0M985 1684h0M1018 1931h0M719 1948h0M989 1824h0M1016 1745h0M854 1775h0M995 1799h0M775 2063h0M838 1859h0M948 1751h0M989 1945h0M869 1986h0M1015 1720h0M1047 1881h0M979 1940h0M1048 1974h0M773 1738h0M833 1781h0M768 1890h0M872 1834h0M970 1739h0M849 1851h0M913 2013h0M906 1684h0M907 1819h0M840 1900h0M764 1985h0M821 1822h0M888 1703h0M804 2060h0M726 1831h0M974 1863h0M916 2005h0M1002 1846h0M813 1687h0M964 1736h0M858 1730h0M966 1857h0M723 1905h0M714 1816h0M790 1972h0M910 1764h0M808 1853h0M998 1816h0M968 1710h0M726 1978h0M818 1700h0M757 1844h0M714 1826h0M1060 1712h0M816 1804h0M738 2043h0M786 1757h0M848 1710h0M861 1750h0M869 1738h0M1012 1874h0M927 1768h0M697 1775h0M872 1683h0M751 2036h0M793 1753h0M990 1791h0M892 1882h0M869 1700h0M942 1808h0M1008 2051h0M822 2009h0M1043 1750h0M792 2028h0M1012 1765h0M761 2011h0M712 1755h0M745 1790h0M853 1735h0M757 2057h0M862 1859h0M792 2061h0M914 1867h0M731 1961h0M810 2029h0M731 1902h0M974 1917h0M1046 2058h0M949 1711h0M1036 1874h0M820 1801h0M688 1759h0M755 1778h0M980 1733h0M777 1907h0M730 1981h0M682 1859h0M742 1704h0M931 1886h0M866 1808h0M821 1719h0M691 1869h0M942 1781h0M875 1875h0M831 1767h0M893 1814h0M848 1983h0M910 1984h0M976 1912h0M753 2012h0M874 1995h0M710 1929h0M904 2003h0M959 1991h0M890 2037h0M948 1745h0M1051 1788h0M763 1799h0M988 1916h0M891 1778h0M884 2002h0M934 1861h0M975 1790h0M718 1971h0M710 1690h0M991 1878h0M697 1807h0M741 1882h0M843 2010h0M687 1895h0M945 1738h0M993 2037h0M912 1958h0M1007 2063h0M833 1784h0M734 1828h0M958 2050h0M902 1916h0M932 1700h0M705 1687h0M992 2001h0M753 2010h0M742 1838h0M860 2057h0M880 1691h0M1052 2014h0M1037 2059h0M698 1730h0M751 1876h0M763 1727h0M911 2034h0M842 1780h0M1009 1950h0M892 1718h0M942 1693h0M922 2000h0M993 1956h0M686 1966h0M798 1713h0M923 1893h0M970 1966h0M683 1897h0M744 1821h0M707 1779h0M852 1890h0M1057 1742h0M862 1743h0M959 1909h0M936 1944h0M893 1934h0M880 1805h0M832 1880h0M852 1755h0M849 1753h0M830 1968h0M723 1856h0M1030 1690h0M955 1968h0M706 1736h0M1059 1967h0M860 1910h0M715 2020h0M890 1883h0M1031 1821h0M1007 1705h0M1021 1827h0M685 1983h0M849 1896h0M869 1731h0M1044 1901h0M1037 1684h0M977 1919h0M908 1744h0M947 1870h0M774 1780h0M708 1876h0M1050 2029h0M941 1789h0M790 1959h0M778 1975h0M739 1800h0M838 1716h0M788 1879h0M852 1804h0M761 1683h0M821 2051h0M811 2025h0M846 1809h0M751 1717h0M732 1872h0M1045 2037h0M730 2001h0M886 2020h0M875 1958h0M823 1872h0M817 2000h0M748 1972h0M897 2043h0M911 1744h0M994 2007h0M690 1750h0M1014 1819h0M896 1687h0M1029 1890h0M872 1999h0M705 2044h0M687 1860h0M1059 1766h0M868 1847h0M836 1860h0M888 2033h0M689 1801h0M787 2014h0M709 1760h0M1055 1981h0M977 2027h0M822 1722h0M825 1915h0M691 1869h0M935 1878h0M745 2056h0M755 1848h0M681 1959h0M1029 1955h0M794 2006h0M817 1882h0M909 2037h0M1040 1863h0M913 1926h0M859 1889h0M952 1864h0M916 2054h0M976 1796h0M989 1880h0M981 1881h0M806 1983h0M1061 1761h0M998 1803h0M825 2010h0M718 2021h0M1025 1977h0M706 1785h0M718 1762h0M829 1772h0M898 1828h0M976 1945h0M882 1793h0M747 2028h0M1062 1803h0M877 1758h0M759 1770h0M931 1943h0M880 1749h0M1059 1887h0M755 1730h0M824 1690h0M777 2063h0M839 1693h0M795 1881h0M740 2062h0M1017 1860h0M896 1747h0M940 1758h0M1032 2056h0M745 1864h0M739 1741h0M691 1822h0M975 1737h0M952 1924h0M868 2011h0M1033 1941h0M865 2020h0M993 1742h0M912 1857h0M748 1720h0M876 1746h0M884 1712h0M745 1769h0M748 1860h0M1001 1717h0M720 1903h0M1034 1772h0M1026 2053h0M692 1709h0M866 1882h0M1008 1785h0M714 1715h0M1006 1819h0M989 1858h0M974 2000h0M1004 2045h0M860 2053h0M848 1814h0M966 1866h0M784 1961h0M812 1868h0M813 1968h0M832 1792h0M966 1937h0M752 1708h0M816 1710h0M700 1732h0M1034 1864h0M929 1718h0M933 1893h0M1040 1957h0M796 1927h0M872 1693h0M986 1777h0M999 1768h0M1058 1727h0M748 1932h0M1020 2055h0M684 1716h0M701 1794h0M979 1725h0M805 1782h0M955 1824h0M1023 1739h0M954 1963h0M810 1707h0M850 1964h0M686 1806h0M725 1798h0M715 1833h0M1037 1826h0M781 1695h0M793 1734h0M699 1863h0M822 1936h0M981 1848h0M742 1708h0M716 1821h0M755 1859h0M969 1780h0M890 1779h0M839 1862h0M986 1988h0M843 1715h0M847 1933h0M980 1746h0M809 1821h0M699 1941h0M723 2056h0M1030 2029h0M812 1939h0M900 1915h0M1061 1751h0M905 1759h0M857 1799h0M846 1709h0M698 1946h0M869 1913h0M995 1832h0M1045 1856h0M1061 1729h0M812 1865h0M804 2005h0M962 1985h0M704 1773h0M1042 1883h0M1027 1783h0M986 2056h0M920 1953h0M901 1736h0M698 2042h0M746 1702h0M841 1859h0M703 1840h0M1005 1856h0M984 1982h0M764 1921h0M1056 1701h0M1010 1718h0M683 1843h0M764 1879h0M767 1790h0M814 1778h0M951 1912h0M973 2030h0M717 1891h0M830 1862h0M818 1712h0M729 1721h0M1051 1817h0M825 1909h0M884 1952h0M839 1869h0M909 2015h0" fill="none" stroke="#000" stroke-width="3.6" stroke-opacity="0.4" stroke-linecap="round"/></g>
<g filter="url(#eb0)"><rect x="650.0" y="1653.0" width="442.2" height="440.0" fill="none"/><path d="M685 1726h0M830 1943h0M733 1726h0M769 1971h0M736 1964h0M933 1735h0M885 1853h0M838 2062h0M716 1691h0M1039 1836h0M756 1809h0M819 2046h0M760 1765h0M904 1891h0M1045 2002h0M816 1760h0M1000 2059h0M692 1962h0M1012 1930h0M763 1986h0M959 1757h0M925 1766h0M696 1811h0M808 1834h0M927 2001h0M1047 2054h0M1060 1983h0M797 1750h0M918 1890h0M938 1719h0M754 2033h0M910 1947h0M717 1835h0M1028 1930h0M1059 1758h0M854 1987h0M850 1983h0M895 1728h0M718 2057h0M726 1757h0M808 1954h0M1006 1864h0M870 1983h0M786 1825h0M914 1925h0M695 1726h0M733 1959h0M945 2053h0M973 1780h0M973 2057h0M813 1687h0M823 1790h0M747 1700h0M728 2012h0M699 1916h0M759 1756h0M994 1797h0M750 1856h0M946 1882h0M1009 1836h0M880 1955h0M856 1955h0M858 1734h0M727 1981h0M965 2041h0M944 1903h0M744 2007h0M725 1844h0M734 1828h0M797 1845h0M952 1889h0M773 1979h0M961 1997h0M693 1917h0M1022 1781h0M757 1992h0M819 1835h0M993 1829h0M756 1764h0M812 1948h0M821 1976h0M705 1778h0M919 1865h0M871 2038h0M786 1752h0M693 1866h0M794 1863h0M682 1683h0M825 1971h0M795 2030h0M901 1836h0M977 1772h0M911 2005h0M887 1804h0M717 1901h0M752 1825h0M887 2041h0M937 1880h0M1008 1800h0M828 1940h0M892 1767h0M837 1996h0M773 1951h0M698 2046h0M941 1806h0M1056 1986h0M704 1777h0M868 2062h0M734 1701h0M799 1700h0M836 1888h0M848 1737h0M689 1988h0M848 1865h0M863 1944h0M1024 1997h0M958 1812h0M744 1717h0M1008 1705h0M898 2029h0M803 1831h0M840 2042h0M941 2002h0M695 1961h0M852 1836h0M992 1962h0M1028 1964h0M1028 1846h0M893 1981h0M853 1735h0M904 2014h0M1013 1731h0M826 1770h0M810 2048h0M841 1802h0M784 1850h0M936 1813h0M751 1769h0M779 2027h0M745 1970h0M721 1982h0M782 1979h0M845 1713h0M716 1987h0M887 1868h0M815 1946h0M864 1707h0M910 1802h0M1004 1892h0M976 1729h0M950 1915h0M1005 2019h0M891 1908h0M973 1783h0M888 1982h0M907 1889h0M1007 2054h0M779 1711h0M914 1739h0M1051 1863h0M884 1994h0M1012 1737h0M853 1752h0M856 1734h0M1015 1818h0M829 2024h0M995 1811h0M871 1935h0M752 1735h0M1008 1745h0M951 1963h0M906 1814h0M1008 1982h0M707 2024h0M923 1793h0M744 1720h0M990 2005h0M813 1751h0M708 1840h0M794 1703h0M794 1995h0M705 1837h0M877 1744h0M694 1711h0M735 2053h0M1009 1951h0M1024 1807h0M775 2014h0M912 2034h0M817 1840h0M954 2018h0M743 1783h0M685 1896h0M1033 1899h0M737 1946h0M928 1723h0M1029 1934h0M868 1814h0M741 1861h0M820 1772h0M927 1934h0M1045 2051h0M858 1955h0M823 1848h0M897 2056h0M696 1859h0M809 1989h0M1043 1862h0M710 1909h0M905 1942h0M977 1859h0M890 1975h0M690 1774h0M943 2055h0M1041 1790h0M1052 1789h0M853 1743h0M910 1832h0M942 2047h0M729 1933h0M910 1787h0M693 2040h0M946 1921h0M719 2025h0M833 1860h0M893 1852h0M1044 1861h0M939 1977h0M1037 1748h0M810 2044h0M912 1825h0M1017 1728h0M777 1709h0M936 1868h0M796 1850h0M777 1953h0M970 1828h0M1012 1700h0M896 1741h0M725 1895h0M713 1711h0M731 1826h0M997 1793h0M727 1975h0M992 2062h0M699 1746h0M846 2060h0M886 2019h0M766 1862h0M943 1769h0M880 1996h0M992 1948h0M997 2061h0M911 1778h0M765 1704h0M1031 1900h0M910 2015h0M944 1832h0M904 1714h0M777 1814h0M984 1934h0M911 1833h0M814 1829h0M699 1820h0M1028 1993h0M775 1873h0M965 1759h0M816 1906h0M752 2029h0M687 2018h0M936 1834h0M790 2013h0M952 1763h0M801 1718h0M920 1844h0M801 1950h0M777 1737h0M984 2020h0M989 1895h0M954 2011h0M695 1797h0M816 1962h0M808 1973h0M778 2043h0M846 1907h0M920 1995h0M895 1763h0M848 1897h0M708 1998h0M797 2033h0M822 2044h0M956 1832h0M948 1683h0M712 1905h0M798 1838h0M950 1863h0M914 1965h0M999 1723h0M997 1965h0M767 1715h0M754 1717h0M898 2061h0M866 1788h0M745 2053h0M889 1774h0M1028 1842h0M1056 1877h0M777 1754h0M686 1992h0M805 1960h0M1002 1836h0M875 1957h0M926 1821h0M756 1791h0M688 1924h0M925 1977h0M848 1961h0M894 2007h0M890 1939h0M909 1760h0M709 1995h0M945 1877h0M1029 1752h0M960 1874h0M720 1732h0M690 1755h0M977 1865h0M698 1871h0M1052 1982h0M795 1867h0M820 1771h0M932 1692h0M861 2036h0M969 1932h0M998 2045h0M783 2042h0M1022 1871h0M732 1885h0M870 2062h0M774 1956h0M970 1911h0M789 2027h0M778 2009h0M1020 1885h0M700 1787h0M705 1754h0M816 1901h0M988 1701h0M965 1725h0M953 1687h0M816 2035h0M1014 1703h0M828 2030h0M748 1857h0M780 1796h0M867 1736h0M739 2054h0M971 1910h0M732 1733h0M918 1917h0M684 2049h0M824 1785h0M923 2030h0M814 1877h0M699 1860h0M1023 2040h0M814 2010h0M1060 1798h0M1007 1790h0M1049 2025h0M1051 1838h0M942 1951h0M903 1703h0M935 1988h0M926 2026h0M1048 1926h0M816 1876h0M750 1768h0M1054 1851h0M859 2020h0M985 1700h0M838 1885h0M771 1974h0M917 2006h0M731 1754h0M797 1880h0M777 1878h0M812 1707h0M996 1889h0M1024 1881h0M1009 1915h0M869 2040h0M818 2054h0M905 2044h0M716 1888h0M801 1994h0M1028 2010h0M828 1711h0M1052 1761h0M996 1908h0M960 1952h0M771 1830h0M827 1950h0M940 2059h0M885 1816h0M726 1851h0M908 1944h0M691 1758h0M923 1981h0M1040 1735h0M958 1853h0M906 1943h0M835 1914h0M1049 1691h0M891 2063h0M1015 1778h0M979 2030h0M836 1892h0M793 2062h0M751 1949h0M1058 2053h0M1005 1848h0M1039 2009h0M841 1825h0M806 1806h0M898 1841h0M1046 1683h0M911 1847h0M1061 2061h0M953 1960h0M825 1948h0M773 1993h0M900 1771h0M761 1831h0M812 1936h0M857 1696h0M804 1855h0M1058 2035h0M915 2049h0M738 1761h0M738 1780h0M787 1888h0M1019 1817h0M804 1862h0M1043 1875h0M1055 1800h0M891 1922h0M955 2001h0M726 1761h0M720 1977h0M869 1871h0M694 1987h0M1051 1688h0M1058 1867h0M725 1694h0M948 1987h0M837 2013h0M681 2013h0M741 1754h0M808 1809h0M1023 1875h0M844 1991h0M845 1801h0M812 1904h0M1028 2035h0M689 1822h0M947 1871h0M961 2039h0M697 1948h0M772 1931h0M753 1736h0M1004 1932h0M924 1846h0M777 1707h0M1043 1984h0M968 1713h0M685 1860h0M718 1916h0M798 1979h0M743 1872h0M837 1771h0M807 1755h0M796 1851h0M830 1934h0M1016 1875h0M756 1877h0M738 2003h0M686 1790h0M1034 1904h0M811 1696h0M748 2001h0M709 1947h0M742 1971h0M723 1732h0M755 2044h0M687 1864h0M1027 1940h0M686 1935h0M798 1767h0M731 1726h0M895 1970h0M1024 1925h0M847 2030h0M745 2034h0M1055 1888h0M965 1918h0M947 1941h0M944 1940h0M865 1755h0M808 1807h0M943 1734h0M945 1862h0M1033 1843h0M966 1738h0M735 2007h0M994 1776h0M841 1973h0M712 1942h0M946 2044h0M1061 1978h0M725 1994h0M741 1789h0M992 1871h0M842 2020h0M1004 1796h0M1000 2060h0M941 1767h0M884 1896h0M789 1966h0M725 1748h0M1043 1812h0M737 1980h0M986 1850h0M867 1687h0M686 2026h0M1044 1956h0M943 1837h0M796 1960h0M982 1714h0M725 1709h0M950 1866h0M709 1874h0M1038 1975h0M959 1926h0M756 1890h0M850 2040h0M689 1692h0M692 1711h0M801 1926h0M968 1990h0M711 1841h0M904 1811h0M784 1749h0M812 1720h0M1062 1958h0M1043 1706h0M723 1931h0M1053 1836h0M800 1834h0M681 1760h0M737 1738h0M1052 1931h0M998 1844h0M884 1822h0M857 1983h0M940 1742h0M781 1932h0M874 1887h0M698 1792h0M848 2025h0M1052 1716h0M843 1754h0M838 1911h0M961 1906h0M918 1908h0M750 1755h0M869 1711h0M825 1920h0M1014 2053h0M900 1737h0M898 1941h0M763 1998h0M753 1929h0M1043 2006h0M969 1794h0M839 2022h0M867 1760h0M810 1710h0M1046 1827h0M864 1706h0M919 1742h0M757 1976h0M865 1895h0M784 1711h0M807 1829h0M1021 1955h0M855 1892h0M949 1966h0M970 1791h0M831 1792h0M824 1996h0M852 1701h0M962 1812h0M952 2031h0M1025 1897h0M686 2028h0M699 1881h0M694 1709h0M1008 1942h0M915 1753h0M774 1798h0M988 1772h0M903 2007h0M716 1837h0M775 1906h0M806 2048h0M806 2010h0M834 1872h0M966 1960h0M932 1771h0M853 1712h0M764 1859h0M1020 2012h0M781 1956h0M1057 1944h0M1011 1854h0M987 1916h0M888 1858h0M904 1876h0M893 1699h0M954 1753h0M722 2024h0M997 1987h0M843 1741h0M824 1731h0M850 1779h0M845 2025h0M1040 1742h0M908 2010h0M1055 1889h0M968 1727h0M795 1961h0M1016 1734h0M1008 2004h0M714 1921h0M793 1996h0M826 2024h0M952 1782h0M868 1897h0M838 2001h0M730 2020h0M1035 1800h0M939 1923h0M1028 1748h0M1007 1968h0M966 1867h0M887 1689h0M729 1941h0M1023 1976h0M732 1804h0M898 1863h0M998 1940h0M1021 2013h0M974 1984h0M1043 1761h0M843 2028h0M807 1815h0M715 1938h0M1012 1753h0M772 1743h0M1000 1763h0M1018 2043h0M929 2039h0M1015 1873h0M904 1736h0M1022 2037h0M720 1763h0M716 1949h0M773 1683h0M1057 1777h0M891 1956h0M1032 1687h0M722 1816h0M912 1993h0M1019 2025h0M944 1773h0M1015 1939h0M912 1786h0M783 2042h0M886 1870h0M773 1779h0M738 1966h0M912 1815h0M796 1899h0M809 2002h0M1053 1834h0M984 1834h0M1062 1798h0M959 1921h0M1052 1744h0M778 1889h0M993 1938h0M765 1885h0M989 2021h0M909 1874h0M783 1894h0M815 1977h0M1023 1990h0M731 2025h0M691 2009h0M777 1740h0M743 1839h0M926 1722h0M696 1807h0M900 1786h0M753 1737h0M748 2051h0M907 1705h0M992 1830h0M921 1876h0M730 1886h0M814 2034h0M830 1772h0M814 1729h0M696 1907h0M1033 1949h0M811 1707h0M753 1983h0M934 1894h0M915 1813h0M851 1726h0M803 1912h0M1016 1759h0M879 1870h0M1007 1936h0M831 1703h0M1029 1765h0M927 1996h0M1050 1948h0M885 1863h0M913 1732h0M1036 1718h0M1032 2049h0M729 1770h0M997 1696h0M995 1862h0M992 1912h0M974 1777h0M923 1768h0M899 1703h0M1021 1996h0M797 1688h0M947 1731h0M963 1775h0M974 2042h0M1051 1961h0M842 1895h0M732 1800h0M878 1811h0M1035 1798h0M954 2026h0M978 2009h0M990 1942h0M682 1698h0M748 1901h0M1043 1912h0M808 1973h0M681 1871h0M767 1805h0M840 1803h0M742 2021h0M840 1798h0M912 2024h0M889 1840h0M1047 1806h0M815 1776h0M719 1789h0M967 1895h0M1022 1741h0M728 1938h0M756 2040h0M1046 1693h0M844 1964h0M942 1719h0M813 1940h0M1045 1956h0M882 1981h0M747 1825h0M702 1810h0M907 1948h0M922 1720h0M774 2052h0M845 1876h0M1021 1915h0M1024 1744h0M909 1874h0M873 1960h0M1016 1732h0M778 1735h0M734 2043h0M766 1802h0M908 1711h0M1055 1973h0M749 1745h0M727 1861h0M898 1877h0M1037 1831h0M970 1834h0M803 1902h0M884 2006h0M813 1809h0M904 1875h0M832 2003h0M757 1791h0M729 1685h0M1017 2056h0M748 2015h0M1048 1894h0M740 1986h0M1044 1923h0M980 2032h0M842 2045h0M968 1855h0M947 1768h0M1024 1987h0M997 1822h0M700 1991h0M779 1730h0M961 1749h0M968 1811h0M753 2048h0M838 2039h0M960 1886h0M817 1748h0M965 1725h0M996 1838h0M787 1980h0M1007 1970h0M685 1773h0M867 1923h0M970 1723h0M1058 1997h0M910 1916h0M893 1797h0M800 1824h0M1008 1830h0M819 1872h0M831 1849h0M932 1920h0M913 1781h0M833 1909h0M908 1974h0M808 1821h0M776 1707h0M823 1997h0M952 2044h0M956 1977h0M883 1727h0M1015 1905h0M946 1839h0M916 2052h0M783 1810h0M935 1986h0M705 2017h0M943 1877h0M803 1705h0M772 2012h0M788 1961h0M792 1902h0M897 1684h0M902 1937h0M801 1689h0M871 1931h0M1061 1801h0M725 1850h0M699 2021h0M987 2012h0M760 1848h0M1029 1984h0M890 1727h0M1019 1710h0M704 1790h0M818 1793h0M704 2026h0M963 1964h0M983 1789h0M918 1930h0M915 1717h0M917 1820h0M994 1855h0M707 2061h0M955 1978h0M708 1914h0M798 2016h0M877 1716h0M922 1877h0M903 1876h0M870 2060h0M877 1912h0M1045 1732h0M798 1784h0M948 1850h0M872 1955h0M850 1748h0M912 1747h0M684 1810h0M909 1961h0M890 1850h0M683 1956h0M915 1698h0M737 1771h0M835 1761h0M871 1968h0M803 1777h0M807 2026h0M920 1969h0M805 1828h0M897 1736h0M696 1851h0M728 1842h0M724 1796h0M774 2032h0M730 1863h0M1014 1784h0M874 2003h0M817 2032h0M853 1941h0M785 2060h0M710 1757h0M720 1972h0M861 1876h0M883 1978h0M757 1887h0M716 1711h0M834 1978h0M963 1923h0M782 1805h0M848 1964h0M775 1739h0M878 2013h0M753 1837h0M1002 1896h0M993 1919h0M932 1931h0M923 2040h0M895 1910h0M903 1955h0M859 1915h0M999 2058h0M797 1725h0M974 1765h0M856 2053h0M971 1991h0M1031 2027h0M867 1980h0M795 1818h0M1017 1866h0M788 1954h0M792 1903h0M982 1723h0M1013 2028h0M873 2023h0M919 1700h0M746 1861h0M854 2010h0M1060 1829h0M898 1841h0M801 1711h0M909 1781h0M813 2012h0M806 1959h0M855 1869h0M1028 1708h0M912 1807h0M799 2003h0M697 1882h0M976 1767h0M970 1959h0M1043 1691h0M729 1867h0M761 2052h0M919 1999h0M917 1999h0M857 1708h0M1062 2052h0M794 2059h0M745 1896h0M982 1911h0M804 1821h0M1042 1982h0M842 1909h0M1026 1717h0M948 1821h0M976 1707h0M854 1856h0M1043 1700h0M861 1825h0M949 1696h0M1002 1802h0M874 1905h0M940 2020h0M770 1711h0M1000 2018h0M748 1770h0M871 1827h0M975 1986h0M1055 1976h0M849 1973h0M1019 2034h0M990 1917h0M871 1966h0M693 1693h0M827 1730h0M814 2041h0M789 1720h0M870 1840h0M859 2050h0M783 1781h0M784 1772h0M707 1872h0M1023 2039h0M829 1820h0M707 2044h0M910 1817h0M840 2061h0M867 2027h0M872 1703h0M826 1929h0M854 1784h0M822 1987h0M1037 1923h0M906 2018h0M824 1776h0M858 1956h0M957 1998h0M1023 1946h0M942 1837h0M1028 1849h0M1038 1795h0M772 1705h0M837 1700h0M959 1802h0M970 1893h0M930 1936h0M961 1864h0M1017 1724h0M860 1963h0M713 1958h0M792 1942h0M989 1944h0M684 1727h0M807 1946h0M883 1815h0M934 1972h0M900 1980h0M788 1940h0M715 1883h0M726 2002h0M793 1882h0M765 1864h0M693 1684h0M1026 1862h0M983 1975h0M1034 1861h0M715 2050h0M921 1866h0M733 1825h0M1033 1981h0M1046 1705h0M985 1780h0M681 2049h0M921 2001h0M724 1752h0M781 1997h0M686 2007h0M1016 1763h0M895 2050h0M1047 1931h0M778 1877h0M1022 1985h0M1028 1697h0M816 1764h0M962 1989h0M872 1685h0M778 1814h0M927 1826h0M756 1824h0M994 1897h0M785 2028h0M719 1842h0M1019 1992h0M812 1878h0M835 1825h0M708 1694h0M833 1827h0M996 1701h0M802 1862h0M897 1691h0M900 1797h0M715 1836h0" fill="none" stroke="#000" stroke-width="2.6" stroke-opacity="0.38" stroke-linecap="round"/></g>
</g>
<rect x="949.60" y="2034.30" width="66.20" height="10.30" fill="#fff"/>
</g>
<g clip-path="url(#cem4)">
<g filter="url(#fem4)">
<rect x="1089.00" y="1726.00" width="214.00" height="304.00" fill="#c6c6c6"/>
<g filter="url(#eb9)"><rect x="1060.0" y="1697.0" width="272.0" height="362.0" fill="none"/><path d="M1153.2 1765.8C1161.4 1766.8 1186.3 1768.3 1202.0 1771.9C1217.8 1775.4 1235.1 1780.5 1247.8 1787.1C1260.5 1793.7 1270.2 1799.8 1278.3 1811.5C1286.4 1823.2 1293.6 1849.7 1296.6 1857.3" fill="none" stroke="#000" stroke-opacity="0.46" stroke-width="33.6" stroke-linecap="round" stroke-linejoin="round"/><path d="M1133.4 1880.2C1147.4 1863.6 1200.8 1871.3 1217.3 1880.2C1233.8 1889.1 1240.2 1911.9 1232.5 1933.6C1224.9 1955.2 1188.1 2002.2 1171.5 2009.8C1155.0 2017.5 1139.7 2000.9 1133.4 1979.3C1127.0 1957.7 1119.4 1896.7 1133.4 1880.2Z" fill="#fff" fill-opacity="0.28"/><path d="M1090.7 1727.6C1097.8 1708.6 1127.5 1716.2 1133.4 1727.6C1139.2 1739.1 1132.9 1777.2 1125.8 1796.3C1118.6 1815.3 1096.5 1853.5 1090.7 1842.0C1084.8 1830.6 1083.6 1746.7 1090.7 1727.6Z" fill="#fff" fill-opacity="0.2"/></g>
<g filter="url(#eb4)"><rect x="1060.0" y="1697.0" width="272.0" height="362.0" fill="none"/><path d="M1186.8 1753.6C1194.4 1757.1 1218.6 1766.8 1232.5 1774.9C1246.5 1783.1 1264.3 1797.8 1270.7 1802.4" fill="none" stroke="#000" stroke-opacity="0.3" stroke-width="19.8" stroke-linecap="round" stroke-linejoin="round"/><path d="M1159.3 1770.3C1155.3 1777.2 1142.0 1797.0 1134.9 1811.5C1127.8 1826.0 1121.3 1842.0 1116.6 1857.3C1111.9 1872.5 1109.1 1887.8 1106.7 1903.0C1104.3 1918.3 1102.8 1933.6 1102.1 1948.8C1101.5 1964.1 1101.9 1981.1 1102.9 1994.6C1103.9 2008.0 1107.3 2023.8 1108.2 2029.7" fill="none" stroke="#000" stroke-opacity="0.42" stroke-width="11.4" stroke-linecap="round" stroke-linejoin="round"/><path d="M1263.0 1726.9C1264.3 1733.3 1266.9 1754.2 1270.7 1765.8C1274.5 1777.3 1280.7 1786.1 1285.9 1796.3C1291.1 1806.4 1299.3 1821.7 1301.9 1826.8" fill="none" stroke="#000" stroke-opacity="0.38" stroke-width="13.0" stroke-linecap="round" stroke-linejoin="round"/><path d="M1301.9 1735.3L1301.9 1857.3" fill="none" stroke="#000" stroke-opacity="0.42" stroke-width="13.0" stroke-linecap="round" stroke-linejoin="round"/><ellipse cx="1148.6" cy="1793.2" rx="13.7" ry="16.8" fill="#000" fill-opacity="0.33"/><ellipse cx="1247.8" cy="1895.4" rx="15.3" ry="12.2" fill="#000" fill-opacity="0.25"/><path d="M1217.3 1729.2C1223.1 1724.8 1253.6 1723.6 1260.0 1729.2C1266.4 1734.7 1261.3 1758.4 1255.4 1762.7C1249.6 1767.0 1231.3 1760.7 1224.9 1755.1C1218.6 1749.5 1211.4 1733.5 1217.3 1729.2Z" fill="#fff" fill-opacity="0.35"/></g>
<g filter="url(#eb2)"><rect x="1060.0" y="1697.0" width="272.0" height="362.0" fill="none"/><path d="M1156.3 1774.9C1152.5 1781.5 1140.1 1800.8 1133.4 1814.6C1126.7 1828.3 1120.4 1842.5 1115.8 1857.3C1111.3 1872.0 1108.3 1887.8 1105.9 1903.0C1103.5 1918.3 1101.9 1933.6 1101.4 1948.8C1100.8 1964.1 1101.9 1981.1 1102.9 1994.6C1103.9 2008.0 1106.7 2023.8 1107.5 2029.7" fill="none" stroke="#000" stroke-opacity="0.4" stroke-width="3.4" stroke-linecap="round" stroke-linejoin="round"/><path d="M1301.9 1864.9C1299.5 1873.8 1292.4 1899.2 1287.5 1918.3C1282.5 1937.4 1276.3 1960.8 1272.2 1979.3C1268.1 1997.9 1264.6 2021.3 1263.0 2029.7" fill="none" stroke="#000" stroke-opacity="0.6" stroke-width="7.0" stroke-linecap="round" stroke-linejoin="round"/><path d="M1284.4 1872.5C1283.4 1882.7 1281.6 1910.7 1278.3 1933.6C1275.0 1956.4 1266.9 1997.1 1264.6 2009.8" fill="none" stroke="#000" stroke-opacity="0.5" stroke-width="4.6" stroke-linecap="round" stroke-linejoin="round"/><path d="M1138.0 1811.5C1143.6 1812.0 1162.1 1810.8 1171.5 1814.6C1180.9 1818.4 1188.1 1829.8 1194.4 1834.4C1200.8 1839.0 1204.8 1841.3 1209.7 1842.0C1214.5 1842.8 1221.1 1839.5 1223.4 1839.0" fill="none" stroke="#000" stroke-opacity="0.6" stroke-width="3.2" stroke-linecap="round" stroke-linejoin="round"/><path d="M1153.2 1819.2C1156.3 1823.0 1163.4 1836.4 1171.5 1842.0C1179.7 1847.6 1194.4 1850.9 1202.0 1852.7C1209.7 1854.5 1213.7 1854.7 1217.3 1852.7C1220.8 1850.7 1222.4 1842.5 1223.4 1840.5" fill="none" stroke="#000" stroke-opacity="0.55" stroke-width="2.9" stroke-linecap="round" stroke-linejoin="round"/><path d="M1153.2 1864.9C1154.2 1866.7 1153.7 1873.0 1159.3 1875.6C1164.9 1878.1 1180.2 1880.7 1186.8 1880.2C1193.4 1879.7 1196.9 1873.8 1199.0 1872.5" fill="none" stroke="#000" stroke-opacity="0.42" stroke-width="2.6" stroke-linecap="round" stroke-linejoin="round"/><ellipse cx="1139.5" cy="1761.2" rx="4.6" ry="7.6" fill="#000" fill-opacity="0.5"/><ellipse cx="1247.8" cy="1964.1" rx="9.2" ry="13.7" fill="none" stroke="#000" stroke-opacity="0.38" stroke-width="2.7"/><ellipse cx="1217.3" cy="1941.2" rx="6.1" ry="6.1" fill="none" stroke="#000" stroke-opacity="0.38" stroke-width="2.4"/><ellipse cx="1133.4" cy="1941.2" rx="6.1" ry="7.6" fill="none" stroke="#000" stroke-opacity="0.33" stroke-width="2.4"/><path d="M1215 1958A10 9 133 1 0 1229 1944A10 9 133 1 0 1215 1958ZM1282 1743A8 8 116 1 0 1289 1729A8 8 116 1 0 1282 1743ZM1280 1769A8 5 97 1 0 1282 1753A8 5 97 1 0 1280 1769ZM1206 1733A6 4 164 1 0 1218 1729A6 4 164 1 0 1206 1733ZM1249 1784A10 5 111 1 0 1256 1766A10 5 111 1 0 1249 1784ZM1125 1734A10 6 38 1 0 1109 1721A10 6 38 1 0 1125 1734ZM1297 1997A7 7 97 1 0 1299 1984A7 7 97 1 0 1297 1997ZM1223 1790A11 9 173 1 0 1244 1788A11 9 173 1 0 1223 1790ZM1286 1820A7 4 26 1 0 1273 1814A7 4 26 1 0 1286 1820ZM1099 1825A9 4 122 1 0 1108 1811A9 4 122 1 0 1099 1825ZM1167 1829A10 7 56 1 0 1156 1812A10 7 56 1 0 1167 1829ZM1197 1940A5 5 4 1 0 1187 1939A5 5 4 1 0 1197 1940ZM1251 1987A5 5 65 1 0 1247 1977A5 5 65 1 0 1251 1987ZM1207 1730A5 3 171 1 0 1218 1729A5 3 171 1 0 1207 1730ZM1137 1965A11 10 61 1 0 1127 1946A11 10 61 1 0 1137 1965ZM1158 1892A10 5 134 1 0 1172 1879A10 5 134 1 0 1158 1892ZM1264 1988A5 5 16 1 0 1254 1985A5 5 16 1 0 1264 1988ZM1152 1914A11 7 166 1 0 1172 1909A11 7 166 1 0 1152 1914ZM1212 1823A7 4 14 1 0 1199 1820A7 4 14 1 0 1212 1823ZM1132 1937A11 6 8 1 0 1111 1933A11 6 8 1 0 1132 1937ZM1297 1895A7 4 106 1 0 1301 1881A7 4 106 1 0 1297 1895ZM1258 1867A8 4 164 1 0 1272 1863A8 4 164 1 0 1258 1867ZM1090 1884A10 5 131 1 0 1104 1869A10 5 131 1 0 1090 1884ZM1293 1927A10 5 78 1 0 1289 1908A10 5 78 1 0 1293 1927ZM1115 1982A7 5 179 1 0 1128 1982A7 5 179 1 0 1115 1982ZM1266 2028A8 6 131 1 0 1276 2016A8 6 131 1 0 1266 2028ZM1194 1822A7 4 67 1 0 1189 1808A7 4 67 1 0 1194 1822ZM1304 2025A9 6 60 1 0 1295 2009A9 6 60 1 0 1304 2025ZM1113 1818A10 9 65 1 0 1105 1800A10 9 65 1 0 1113 1818ZM1250 1967A9 7 136 1 0 1263 1955A9 7 136 1 0 1250 1967ZM1162 1944A7 5 138 1 0 1172 1935A7 5 138 1 0 1162 1944ZM1234 1826A11 9 104 1 0 1239 1805A11 9 104 1 0 1234 1826ZM1093 1899A7 5 83 1 0 1092 1886A7 5 83 1 0 1093 1899ZM1259 1931A10 6 115 1 0 1267 1914A10 6 115 1 0 1259 1931ZM1240 1980A7 6 156 1 0 1253 1974A7 6 156 1 0 1240 1980ZM1235 2032A11 8 95 1 0 1237 2011A11 8 95 1 0 1235 2032ZM1119 1988A11 8 124 1 0 1131 1971A11 8 124 1 0 1119 1988ZM1241 1953A6 5 104 1 0 1244 1942A6 5 104 1 0 1241 1953ZM1227 1862A9 8 114 1 0 1235 1846A9 8 114 1 0 1227 1862ZM1240 1741A6 4 117 1 0 1245 1730A6 4 117 1 0 1240 1741ZM1137 1943A9 4 84 1 0 1136 1925A9 4 84 1 0 1137 1943ZM1143 1746A6 4 32 1 0 1133 1740A6 4 32 1 0 1143 1746ZM1128 1745A8 5 110 1 0 1134 1730A8 5 110 1 0 1128 1745ZM1218 1809A10 5 72 1 0 1212 1789A10 5 72 1 0 1218 1809ZM1151 1856A6 5 67 1 0 1147 1846A6 5 67 1 0 1151 1856ZM1100 1917A6 4 61 1 0 1095 1907A6 4 61 1 0 1100 1917ZM1205 2022A10 7 146 1 0 1221 2011A10 7 146 1 0 1205 2022ZM1225 1844A6 5 101 1 0 1227 1833A6 5 101 1 0 1225 1844ZM1285 2022A9 6 160 1 0 1301 2016A9 6 160 1 0 1285 2022ZM1098 1763A8 7 25 1 0 1083 1756A8 7 25 1 0 1098 1763ZM1229 2001A7 5 40 1 0 1218 1991A7 5 40 1 0 1229 2001ZM1145 2023A7 7 164 1 0 1159 2019A7 7 164 1 0 1145 2023ZM1219 1816A11 8 74 1 0 1213 1795A11 8 74 1 0 1219 1816ZM1158 2032A8 5 85 1 0 1157 2016A8 5 85 1 0 1158 2032ZM1110 1920A8 5 140 1 0 1122 1910A8 5 140 1 0 1110 1920ZM1257 1733A8 5 168 1 0 1273 1729A8 5 168 1 0 1257 1733ZM1249 1801A7 4 177 1 0 1262 1801A7 4 177 1 0 1249 1801ZM1150 1918A8 6 108 1 0 1155 1903A8 6 108 1 0 1150 1918ZM1247 1772A10 6 96 1 0 1249 1753A10 6 96 1 0 1247 1772ZM1165 1824A8 6 64 1 0 1158 1809A8 6 64 1 0 1165 1824ZM1249 1911A5 3 82 1 0 1247 1900A5 3 82 1 0 1249 1911ZM1278 2000A8 4 140 1 0 1291 1990A8 4 140 1 0 1278 2000ZM1181 1910A9 7 86 1 0 1180 1892A9 7 86 1 0 1181 1910ZM1289 1848A7 7 35 1 0 1277 1839A7 7 35 1 0 1289 1848ZM1150 1982A5 5 125 1 0 1156 1973A5 5 125 1 0 1150 1982ZM1190 1818A10 9 25 1 0 1173 1809A10 9 25 1 0 1190 1818ZM1198 1897A8 5 27 1 0 1184 1889A8 5 27 1 0 1198 1897ZM1210 1975A5 3 147 1 0 1219 1969A5 3 147 1 0 1210 1975ZM1253 1928A5 4 176 1 0 1263 1927A5 4 176 1 0 1253 1928ZM1306 1942A5 5 39 1 0 1298 1935A5 5 39 1 0 1306 1942ZM1233 2022A9 5 52 1 0 1221 2007A9 5 52 1 0 1233 2022ZM1292 1776A9 6 29 1 0 1277 1768A9 6 29 1 0 1292 1776ZM1227 1741A6 4 12 1 0 1216 1739A6 4 12 1 0 1227 1741ZM1111 1905A9 9 24 1 0 1094 1897A9 9 24 1 0 1111 1905ZM1173 1824A9 6 168 1 0 1190 1820A9 6 168 1 0 1173 1824ZM1166 1752A9 5 113 1 0 1173 1735A9 5 113 1 0 1166 1752ZM1203 2008A8 7 47 1 0 1192 1996A8 7 47 1 0 1203 2008ZM1216 1808A10 7 24 1 0 1198 1800A10 7 24 1 0 1216 1808ZM1134 1846A9 5 128 1 0 1146 1832A9 5 128 1 0 1134 1846ZM1237 1756A9 5 22 1 0 1221 1749A9 5 22 1 0 1237 1756Z" fill="#000" fill-opacity="0.22" fill-rule="nonzero"/></g>
</g>

</g>
<text x="295.30" y="1714.80" font-size="26.1" font-weight="bold">Control</text>
<text x="691.50" y="1719.20" font-size="26.5" font-weight="bold">TM</text>
<line x1="147.1" y1="1732.0" x2="559.7" y2="1821.9" stroke="#000" stroke-width="1.9" stroke-dasharray="5.2 1.6"/>
<line x1="147.1" y1="2027.0" x2="597.7" y2="1931.8" stroke="#000" stroke-width="1.9" stroke-dasharray="5.2 1.6"/>
<line x1="735.2" y1="1788.3" x2="1196.9" y2="1727.2" stroke="#000" stroke-width="1.9" stroke-dasharray="5.2 1.6"/>
<line x1="700.0" y1="1889.9" x2="1196.9" y2="2029.0" stroke="#000" stroke-width="1.9" stroke-dasharray="5.2 1.6"/>
<polygon points="229.4,1866.5 193.9,1857.2 195.0,1852.9 178.7,1855.9 191.4,1866.5 192.6,1862.2 228.0,1871.5" fill="#ff0000"/>
<polygon points="429.8,1688.8 436.7,1699.4 434.0,1701.2 444.6,1707.4 443.2,1695.2 440.4,1697.0 433.4,1686.4" fill="#ff0000"/>
<polygon points="529.9,1876.1 547.7,1874.3 548.0,1877.6 558.9,1871.0 546.9,1866.7 547.2,1869.9 529.5,1871.7" fill="#ff0000"/>
<polygon points="694.1,1834.7 706.4,1829.3 707.7,1832.4 716.0,1822.7 703.3,1822.3 704.6,1825.3 692.3,1830.7" fill="#ff0000"/>
<polygon points="932.8,1849.9 943.9,1833.7 946.6,1835.6 948.6,1823.0 937.6,1829.4 940.3,1831.2 929.2,1847.5" fill="#ff0000"/>
<polygon points="1130.7,1858.3 1147.0,1851.1 1148.8,1855.1 1159.7,1842.7 1143.2,1842.3 1144.9,1846.4 1128.7,1853.5" fill="#ff0000"/>
</g>
</svg>
</body>
</html>
